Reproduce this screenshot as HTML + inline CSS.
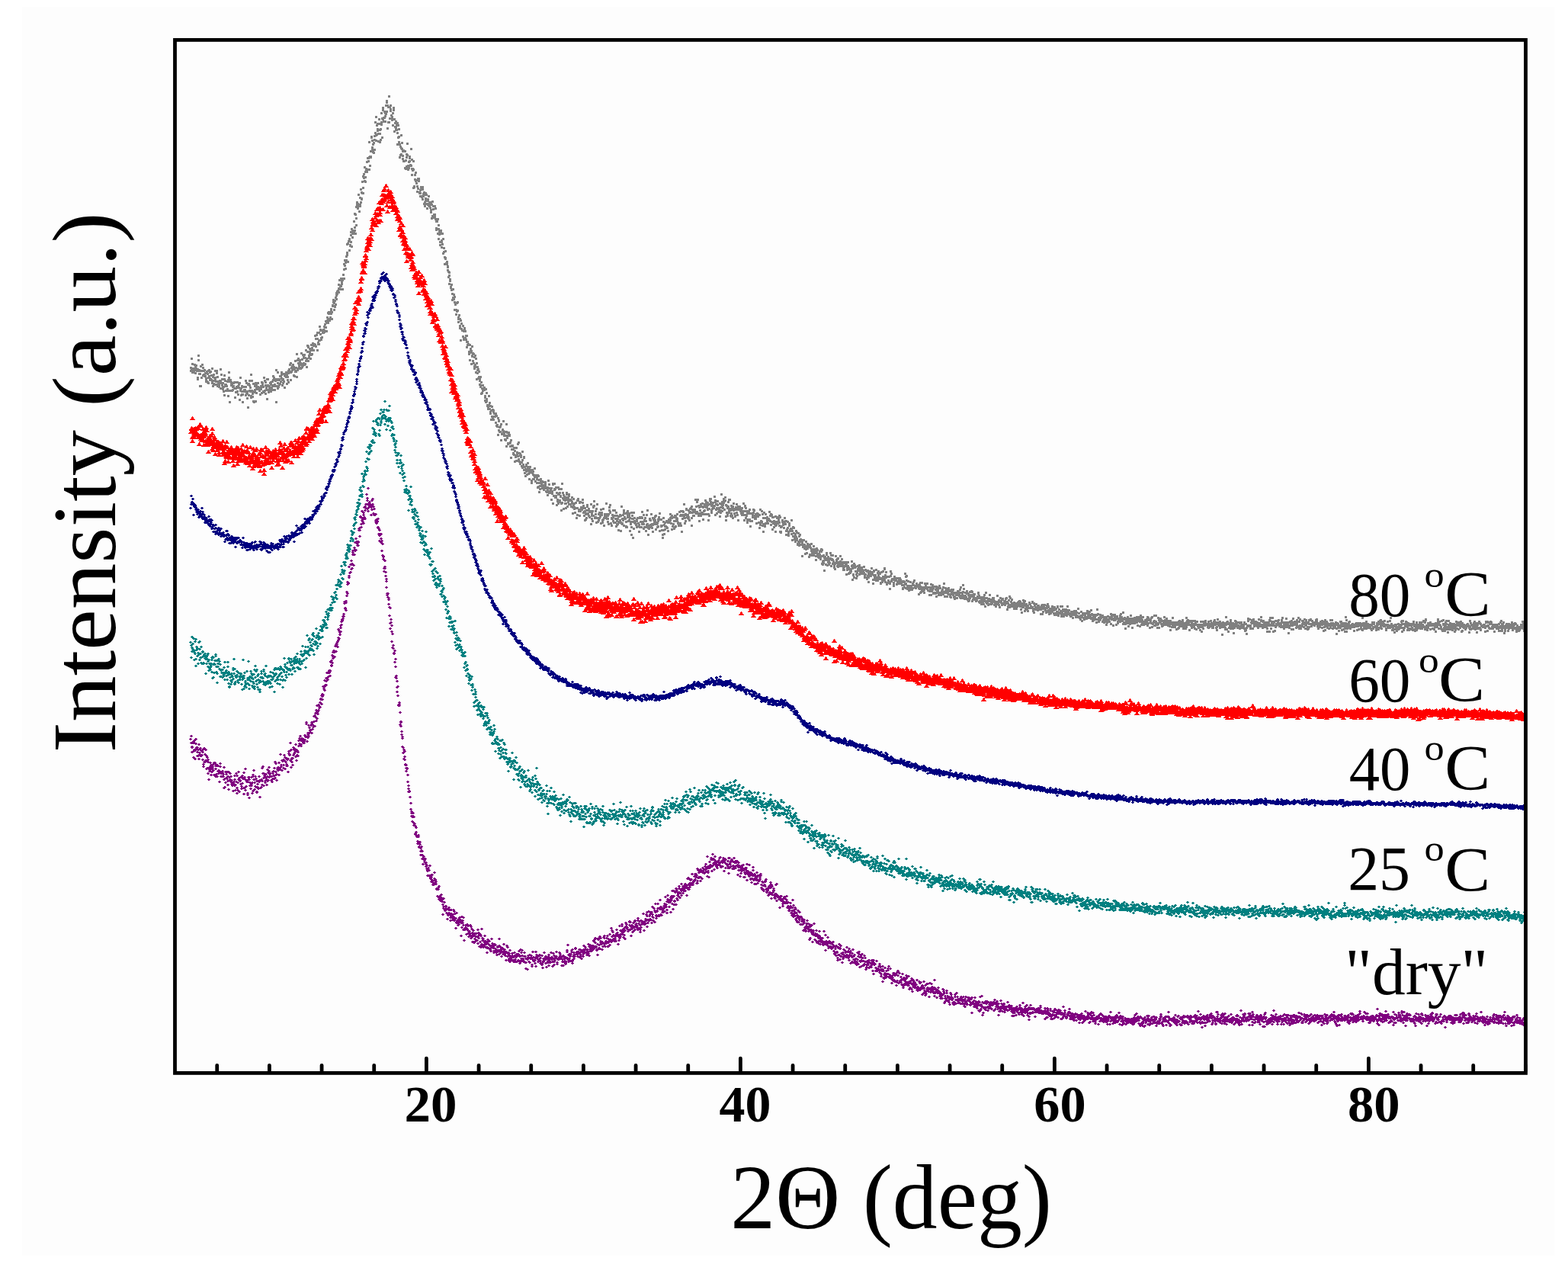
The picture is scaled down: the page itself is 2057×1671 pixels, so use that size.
<!DOCTYPE html>
<html><head><meta charset="utf-8"><title>XRD</title>
<style>
html,body{margin:0;padding:0;background:#fff;}
body{width:2057px;height:1671px;overflow:hidden;}
svg{display:block;}
text{font-family:"Liberation Serif", "DejaVu Serif", serif;fill:#000;}
</style></head><body>
<svg width="2057" height="1671" viewBox="0 0 2057 1671">
<defs><clipPath id="clip"><rect x="229.5" y="52.4" width="1772" height="1355"/></clipPath></defs>
<rect x="0" y="0" width="2057" height="1671" fill="#ffffff"/>
<rect x="29" y="9" width="2010" height="1638" fill="#fdfdfd"/>

<g clip-path="url(#clip)" shape-rendering="crispEdges">
<path fill="none" stroke="#808080" stroke-width="3" stroke-linecap="square" d="M250.5 482.5h0m0 4h0m1-3h0m0-13h0m1 18h0m0-3h0m0-8h0m1 10h0m0-2h0m1 0h0m0-2h0m0 5h0m1-10h0m0 5h0m1-3h0m0 9h0m0-4h0m1-2h0m0-4h0m1 5h0m0 2h0m1-2h0m0 13h0m0-2h0m1-29h0m0 6h0m1 14h0m0-1h0m0 5h0m1 0h0m0 16h0m1-26h0m0 6h0m0 20h0m1-11h0m1-9h0m0-8h0m1 14h0m0-10h0m1 4h0m0 5h0m1-6h0m0 6h0m0 2h0m1 0h0m0-4h0m1 9h0m0 2h0m0-4h0m1-9h0m0 13h0m1-10h0m0 11h0m1-15h0m0 16h0m0-7h0m1-10h0m0 8h0m1 3h0m0 2h0m0-10h0m1-1h0m0 10h0m1-5h0m0 6h0m1 4h0m0-19h0m0 16h0m1 7h0m0-12h0m1-3h0m0 12h0m0-4h0m1 5h0m0-9h0m1-9h0m0 11h0m0-2h0m1 9h0m0-4h0m1-14h0m0 3h0m1 17h0m0-1h0m0-11h0m1 6h0m0 3h0m1 1h0m0 3h0m0-5h0m1-2h0m0-1h0m1 10h0m0-25h0m0 16h0m1 2h0m0-11h0m1 14h0m0-8h0m1 13h0m0-8h0m0 6h0m1 5h0m0-6h0m1-10h0m0-5h0m0 26h0m1-14h0m0-5h0m1 7h0m0-2h0m0 8h0m1-6h0m1-6h0m0 10h0m1-12h0m0 14h0m0 7h0m1-24h0m0-7h0m1 24h0m0 15h0m0-27h0m1-2h0m0 14h0m1-11h0m0 3h0m0 1h0m1 7h0m0-7h0m1 6h0m0-4h0m1-5h0m0 4h0m1 3h0m0-8h0m1 0h0m0 20h0m0-12h0m1 0h0m0 5h0m1-7h0m0 1h0m0 6h0m1-1h0m0-12h0m1 16h0m0-11h0m1-4h0m0 2h0m0 4h0m1 16h0m0-22h0m1 10h0m0-17h0m0 16h0m1 7h0m0-9h0m1-3h0m0 7h0m0 4h0m1 0h0m0 10h0m1-14h0m0-6h0m1 4h0m0 1h0m1-1h0m0 2h0m1-14h0m0 19h0m0-11h0m1-5h0m0 14h0m1 6h0m0-7h0m0-2h0m1-9h0m0 30h0m1-16h0m0-15h0m1 2h0m0 7h0m0-13h0m1 14h0m0-5h0m1 13h0m0-2h0m0-28h0m1 21h0m0-13h0m1 21h0m0-7h0m0 3h0m1-13h0m0 23h0m1 1h0m0-24h0m1 11h0m0-8h0m0 5h0m1-9h0m0 24h0m1-22h0m0 5h0m0 6h0m1-8h0m0 3h0m1-3h0m0 3h0m0-8h0m1 6h0m0 2h0m1-1h0m0 3h0m1-3h0m0 8h0m1-7h0m0-4h0m1 1h0m0-6h0m0 14h0m1-13h0m0 3h0m1 8h0m0 1h0m0-7h0m1-12h0m0 19h0m1-2h0m0-13h0m1 17h0m0-11h0m0-4h0m1 10h0m0-3h0m1 3h0m0-14h0m0 26h0m1-18h0m0-8h0m1 17h0m0-8h0m0 5h0m1-5h0m0 2h0m1 2h0m0-8h0m1 11h0m0-9h0m0-3h0m1 7h0m0 2h0m1-5h0m0-5h0m0 11h0m1-18h0m0 5h0m1 8h0m0-11h0m0 10h0m1-1h0m0 7h0m1-14h0m0 2h0m1 7h0m0-21h0m0 42h0m1-29h0m0-1h0m1 12h0m0-7h0m0-14h0m1 18h0m0 1h0m1-10h0m0 1h0m0 6h0m1-11h0m0 10h0m1-3h0m0-7h0m1-5h0m0 8h0m0-5h0m1 14h0m0-7h0m1 4h0m0-5h0m0 1h0m1-8h0m0 10h0m1 8h0m0-16h0m0-2h0m1 3h0m0-3h0m1-2h0m0 6h0m1-4h0m0 13h0m0-11h0m1 2h0m0 4h0m1-9h0m0 12h0m0-15h0m1-2h0m0 3h0m1 1h0m0-10h0m1 10h0m0-12h0m0 22h0m1-11h0m0-5h0m1-2h0m0 4h0m0 1h0m1-7h0m0 1h0m1 5h0m0-3h0m0 11h0m1 1h0m0-9h0m1 3h0m0-14h0m1 14h0m0-5h0m0 4h0m1 8h0m0-30h0m1 19h0m0-11h0m0 13h0m1-15h0m0 6h0m1 4h0m0 3h0m0-4h0m1-7h0m0 1h0m1 10h0m0-7h0m1-13h0m0 19h0m0-4h0m1 3h0m0-10h0m1 8h0m0-14h0m0 12h0m1-9h0m0 8h0m1 2h0m0-13h0m0 4h0m1 0h0m0 8h0m1-4h0m0-14h0m1 11h0m0 2h0m0 9h0m1-28h0m0 8h0m1 12h0m0-19h0m0 1h0m1 11h0m0 3h0m1-12h0m0 7h0m0-3h0m1 9h0m0-11h0m1 6h0m0-13h0m1 4h0m0 8h0m1-5h0m0-9h0m1 9h0m0-6h0m1-2h0m1-11h0m0 12h0m1-8h0m0 10h0m1-15h0m0 5h0m1 0h0m0 15h0m0-23h0m1 13h0m0 2h0m1-5h0m0 5h0m0-15h0m1-8h0m0 18h0m1-13h0m0 5h0m0-6h0m1 13h0m0-2h0m1-10h0m0 9h0m1-6h0m0-2h0m1-2h0m0 4h0m1-3h0m0-5h0m0 7h0m1-10h0m0 4h0m1 0h0m0 5h0m0-13h0m1 13h0m0-11h0m1-3h0m0-4h0m1 7h0m0-5h0m0-8h0m1-1h0m0 2h0m1-2h0m0 10h0m0 1h0m1-4h0m0-5h0m1-6h0m0 2h0m0 4h0m1 7h0m0-9h0m1-9h0m0 1h0m1-5h0m0-3h0m1 4h0m0 9h0m1-12h0m0 7h0m0 1h0m1-12h0m0 9h0m1-7h0m0-8h0m0 3h0m1-2h0m0-3h0m1-1h0m0 1h0m1 1h0m0-10h0m0 5h0m1-11h0m0 11h0m1 1h0m0-4h0m0-1h0m1 1h0m0-10h0m1 2h0m0 3h0m0 2h0m1-5h0m0 12h0m1-19h0m0 5h0m1 0h0m0-12h0m0-7h0m1-5h0m0 7h0m1 4h0m0-8h0m0-2h0m1-6h0m0 5h0m1-21h0m0 14h0m0-3h0m1-12h0m0 24h0m1-27h0m1-2h0m0 14h0m0-15h0m1 9h0m0-1h0m1-4h0m0-13h0m0 4h0m1 15h0m0-23h0m1 2h0m0 3h0m0 6h0m1-7h0m0 2h0m1-16h0m0 13h0m1-5h0m0-18h0m0 22h0m1 4h0m0-25h0m1 5h0m0 9h0m0-24h0m1-6h0m0 3h0m1 2h0m0-3h0m0 6h0m1-4h0m0-14h0m1 13h0m0 9h0m1-7h0m0-2h0m0-9h0m1 6h0m0-17h0m1 13h0m0-9h0m0 8h0m1-7h0m0-15h0m1 8h0m0 7h0m0-22h0m1 2h0m0-5h0m1-9h0m0 18h0m1 1h0m0-6h0m0-7h0m1-4h0m0 1h0m1-10h0m0 13h0m0-1h0m1-2h0m0-15h0m1 4h0m0-4h0m1 15h0m0-16h0m0-20h0m1 19h0m0 12h0m1-12h0m0 1h0m0-8h0m1-19h0m0 1h0m1 4h0m0 9h0m0 3h0m1 3h0m0-10h0m1 11h0m0-13h0m1-4h0m0 13h0m0-18h0m1-18h0m0 14h0m1 10h0m0-31h0m0 24h0m1-1h0m0-12h0m1-2h0m0 9h0m0-2h0m1 16h0m0-10h0m1-19h0m0 6h0m1 13h0m0 11h0m0-16h0m1-1h0m0 14h0m1-20h0m0-3h0m0-12h0m1 7h0m0 25h0m1-36h0m0 12h0m0-15h0m1 13h0m0 5h0m1-13h0m0 8h0m1-2h0m0-4h0m0 11h0m1-10h0m0-11h0m1-4h0m0-2h0m0 14h0m1-8h0m0 30h0m1-8h0m0-20h0m1 20h0m0-34h0m1 14h0m0 15h0m1-17h0m0 5h0m0 2h0m1 10h0m0-4h0m1 3h0m0 3h0m0-4h0m1 11h0m0-16h0m1-5h0m0-2h0m0 3h0m1 12h0m0 16h0m1-6h0m0-5h0m1-2h0m0 8h0m0 3h0m1 0h0m0-6h0m1 10h0m0 15h0m0-28h0m1 19h0m0-16h0m1 22h0m0-7h0m0-10h0m1 20h0m0 17h0m1-14h0m0 11h0m1-9h0m0-17h0m0 25h0m1-7h0m0-8h0m1 21h0m0-4h0m0-6h0m1 13h0m0-14h0m1 14h0m0-13h0m1 0h0m0 22h0m1-10h0m0 11h0m1-19h0m0 4h0m0 12h0m1-30h0m0 15h0m1 18h0m0-4h0m0 5h0m1-10h0m0 8h0m1-9h0m0-4h0m0-2h0m1 11h0m0 1h0m1 0h0m0-22h0m1 14h0m0 12h0m0 8h0m1-6h0m0-2h0m1-10h0m0 35h0m0-24h0m1 23h0m0-1h0m1-9h0m0-6h0m1-3h0m0 11h0m1-1h0m0 4h0m1 4h0m0 7h0m0-15h0m1 11h0m0-13h0m1 0h0m0 3h0m0-1h0m1 16h0m0 1h0m1 4h0m0-8h0m0 4h0m1-5h0m0-3h0m1 13h0m0-1h0m1-9h0m0 13h0m0-16h0m1 12h0m0-3h0m1 1h0m0-3h0m0 15h0m1-2h0m0 5h0m1-7h0m0-10h0m0 7h0m1-5h0m0 12h0m1 6h0m0-6h0m1-6h0m0 2h0m0 5h0m1-11h0m0 12h0m1 1h0m0-5h0m0 2h0m1 5h0m0-7h0m1 1h0m0 12h0m0-3h0m1 11h0m0-18h0m1-4h0m0 19h0m1 2h0m0-11h0m0-4h0m1 11h0m0-11h0m1 11h0m0-11h0m0 14h0m1-11h0m0 14h0m1 14h0m0-11h0m0 9h0m1-9h0m1-3h0m0 19h0m1-6h0m0 13h0m0-18h0m1 8h0m0 4h0m1 10h0m0 4h0m0-15h0m1-1h0m0-3h0m1 22h0m0-7h0m0-2h0m1 5h0m0-14h0m1 7h0m0 19h0m1-2h0m0-5h0m1 12h0m0 9h0m1-17h0m0 10h0m0-1h0m1 7h0m1 1h0m0-3h0m1 7h0m0-1h0m0 5h0m1 2h0m0 7h0m1-6h0m0 4h0m0 11h0m1-6h0m0 2h0m1 9h0m0-1h0m1 4h0m0-7h0m1 12h0m0 8h0m1-3h0m0-11h0m0 13h0m1-6h0m0 6h0m1 4h0m0-7h0m0 17h0m1-7h0m0 7h0m1 0h0m0 6h0m1-15h0m0 11h0m1-12h0m0 11h0m1 9h0m0 2h0m0 4h0m1-9h0m0 5h0m1 0h0m0 9h0m0 3h0m1-10h0m0 26h0m1-22h0m0 7h0m1 2h0m1-6h0m0 14h0m1-7h0m0 10h0m0 1h0m1-15h0m0 3h0m1 1h0m0 9h0m1 2h0m0-5h0m1 8h0m0 7h0m0-15h0m1 8h0m0 4h0m1-1h0m1 13h0m0-1h0m0-2h0m1-9h0m0 20h0m1-10h0m0-5h0m0 3h0m1 0h0m0 17h0m1-11h0m0 1h0m0-13h0m1 19h0m0-10h0m1 1h0m0 12h0m1-8h0m0 12h0m0 3h0m1-17h0m0 12h0m1-8h0m0 11h0m0 7h0m1-12h0m0 21h0m1-12h0m0-4h0m0 8h0m1 7h0m0-12h0m1 10h0m0-7h0m1 17h0m0-5h0m0-2h0m1 10h0m0-13h0m1 7h0m0 15h0m0-11h0m1 10h0m0-6h0m1-4h0m0 4h0m0 3h0m1-1h0m0-2h0m1 2h0m0-3h0m1 11h0m0 2h0m0 4h0m1-15h0m0 17h0m1-4h0m0-8h0m0 11h0m1 6h0m0-1h0m1 2h0m0 2h0m0 1h0m1-5h0m0-12h0m1 9h0m0 8h0m1-4h0m0 8h0m0 2h0m1-4h0m0 12h0m1-17h0m0 13h0m0-8h0m1-1h0m0 10h0m1-7h0m0 10h0m0-12h0m1 8h0m0-4h0m1 4h0m1-4h0m0 12h0m0-11h0m1 2h0m0 13h0m1 1h0m0-1h0m0-1h0m1 13h0m0-22h0m1 4h0m0-1h0m0 13h0m1-4h0m0 6h0m1 0h0m0-7h0m1-3h0m0 21h0m1-8h0m0-1h0m1-5h0m0 1h0m1 1h0m0-13h0m1 16h0m0-2h0m0 5h0m1 0h0m0 5h0m1-5h0m0 6h0m1-21h0m0 10h0m0 19h0m1-18h0m0 7h0m1 7h0m0-10h0m0 11h0m1-13h0m0-2h0m1 4h0m0-1h0m0 11h0m1-1h0m0 5h0m1-8h0m0 23h0m1-16h0m0 1h0m0 4h0m1-4h0m0-1h0m1 5h0m0 6h0m0-1h0m1 2h0m0-9h0m1 0h0m0 18h0m0-14h0m1 6h0m0 2h0m1 5h0m0-17h0m1 6h0m0 1h0m0 1h0m1-13h0m0 16h0m1-18h0m0 22h0m0 2h0m1 1h0m0-11h0m1 14h0m0-11h0m0-2h0m1 2h0m0 2h0m1 7h0m0 5h0m1-19h0m0 11h0m0 10h0m1-4h0m0 3h0m1-13h0m0 17h0m0-16h0m1 12h0m0 8h0m1 4h0m0-9h0m1 3h0m0-9h0m0 2h0m1 11h0m0-7h0m1-1h0m0-7h0m0 10h0m1 4h0m0-9h0m1 2h0m0 14h0m0-8h0m1-3h0m0-5h0m1 4h0m0 3h0m1 11h0m0-13h0m0 16h0m1-17h0m0 4h0m1 8h0m0-6h0m0-4h0m1 5h0m0 5h0m1-14h0m0 10h0m0 1h0m1-1h0m0 7h0m1-8h0m0 2h0m1 3h0m0 5h0m0-6h0m1 12h0m0-16h0m1 15h0m0-14h0m0 5h0m1 4h0m0 12h0m1-8h0m0-8h0m0 12h0m1-10h0m0-3h0m1 8h0m0-2h0m1 6h0m0-9h0m0 6h0m1 2h0m0-2h0m1-1h0m0-4h0m0 10h0m1-4h0m0 2h0m1-5h0m0 3h0m0-6h0m1 7h0m0 5h0m1-4h0m0 5h0m1-3h0m0 7h0m0-10h0m1-9h0m0 14h0m1-4h0m0-5h0m0 11h0m1-2h0m0 2h0m1-5h0m0 4h0m1 10h0m0-15h0m1 4h0m0 3h0m1-13h0m0 1h0m0 25h0m1-26h0m0 16h0m1-9h0m0 1h0m0-8h0m1 7h0m0 11h0m1-13h0m0 13h0m0-2h0m1 12h0m0-16h0m1 11h0m0-2h0m1-7h0m0-9h0m0 21h0m1-19h0m0 6h0m1 9h0m0 2h0m0-12h0m1 5h0m0-1h0m1 10h0m0 9h0m0-28h0m1 18h0m0-25h0m1 19h0m0-7h0m1 21h0m0-12h0m0-6h0m1 2h0m1 5h0m0-2h0m0 6h0m1 6h0m0-6h0m1-12h0m0-2h0m0 6h0m1 12h0m0-9h0m1-2h0m0 5h0m1-10h0m0 2h0m0 11h0m1-5h0m1 5h0m0-6h0m1 1h0m0 8h0m1-4h0m0-8h0m0 6h0m1 7h0m0 8h0m1-19h0m0 9h0m1-3h0m0 7h0m0-2h0m1 7h0m0-6h0m1-7h0m0 7h0m1 0h0m0 13h0m1-4h0m0-19h0m0 10h0m1-10h0m0-2h0m1 16h0m0-2h0m1-10h0m0 18h0m0-17h0m1-1h0m0 12h0m1-2h0m0-3h0m0 1h0m1 2h0m0-2h0m1 0h0m0-11h0m0 4h0m1 13h0m0-9h0m1 8h0m0 5h0m1-10h0m0 4h0m0 12h0m1-9h0m0 8h0m1-2h0m0-5h0m0-5h0m1-5h0m0-2h0m1 11h0m0-4h0m1 7h0m0-9h0m1 11h0m0-7h0m1 0h0m0-1h0m1 17h0m0-26h0m1 12h0m0 7h0m0-4h0m1-6h0m0 13h0m1-18h0m0-1h0m0 12h0m1-13h0m0-6h0m1 22h0m0-1h0m1 0h0m0-8h0m0 4h0m1-7h0m0 18h0m1-6h0m0-18h0m1 18h0m0 5h0m1-2h0m0-3h0m0-5h0m1-2h0m0 7h0m1-2h0m0-1h0m1-3h0m0 13h0m0-18h0m1 7h0m0-3h0m1 10h0m0 3h0m0-1h0m1-3h0m0-14h0m1 22h0m0-10h0m1-4h0m0 1h0m0-2h0m1 5h0m1-5h0m0-14h0m0 17h0m1 3h0m1-4h0m0 4h0m0 4h0m1-10h0m0 13h0m1-22h0m0 4h0m1 3h0m0-10h0m0 9h0m1 15h0m1-7h0m0 10h0m0-9h0m1-5h0m0 5h0m1-2h0m0 5h0m0-14h0m1 16h0m0-9h0m1 9h0m0-16h0m1 7h0m0 4h0m0 5h0m1-13h0m0 18h0m1-7h0m0-7h0m0 12h0m1-8h0m0 7h0m1 8h0m0-10h0m0-8h0m1 0h0m0 7h0m1-2h0m0-7h0m1 1h0m0 9h0m0 11h0m1-32h0m0 22h0m1-6h0m0 6h0m0 1h0m1-5h0m0-7h0m1-3h0m0-3h0m0 20h0m1-9h0m0-2h0m1 2h0m0-7h0m1 11h0m0 7h0m0-1h0m1-18h0m0 19h0m1-13h0m0-8h0m0 5h0m1 2h0m0 6h0m1-7h0m0-3h0m0 9h0m1 14h0m0-17h0m1 8h0m0-3h0m1 17h0m0-29h0m0 19h0m1-15h0m0 4h0m1 4h0m0 21h0m0-25h0m1-8h0m0 21h0m1-14h0m0 4h0m0 2h0m1 1h0m0-2h0m1 3h0m0 1h0m1 3h0m0-8h0m0-2h0m1-2h0m0 11h0m1-4h0m0 4h0m1 7h0m0-9h0m1 3h0m0-13h0m0 1h0m1 5h0m0-5h0m1 12h0m0-13h0m1 9h0m0-16h0m0 8h0m1 5h0m0 1h0m1-10h0m0 12h0m0 6h0m1-2h0m0-9h0m1 1h0m0-4h0m0 12h0m1 5h0m0-13h0m1-8h0m0 13h0m1 3h0m0-22h0m0 18h0m1 14h0m0-9h0m1-2h0m0-1h0m0 4h0m1-13h0m0 1h0m1 8h0m0-7h0m0 6h0m1-14h0m0 17h0m1 1h0m0-5h0m1 1h0m0 9h0m0-18h0m1 2h0m0-2h0m1 5h0m0-4h0m0 7h0m1-5h0m0-5h0m1-1h0m0 18h0m0-8h0m1-1h0m0 2h0m1-1h0m0 5h0m1-1h0m0-7h0m0-2h0m1-2h0m0-1h0m1 18h0m0-15h0m0-8h0m1 8h0m1 8h0m0-8h0m0 9h0m1-1h0m0 6h0m1 6h0m0 4h0m1-10h0m0-16h0m0 5h0m1 4h0m0 12h0m1-10h0m0 4h0m0-9h0m1 5h0m1-7h0m0 8h0m0 1h0m1-8h0m0 8h0m1 4h0m0-11h0m1 0h0m0-2h0m0-2h0m1 4h0m0-3h0m1 0h0m0-3h0m0-5h0m1 4h0m0 8h0m1-10h0m0 3h0m0 15h0m1-4h0m0-12h0m1 9h0m0-9h0m1 15h0m0-15h0m0 5h0m1 8h0m0-15h0m1 14h0m0-14h0m0 7h0m1-4h0m0 1h0m1 2h0m0-2h0m0-6h0m1 12h0m0-1h0m1 3h0m0 1h0m1-18h0m0 17h0m1-12h0m0 10h0m1 3h0m0-14h0m0-5h0m1 6h0m0 21h0m1-17h0m0-10h0m1 6h0m0-5h0m0 4h0m1 3h0m0-17h0m1 18h0m0 7h0m0-11h0m1-1h0m0 9h0m1-15h0m0-1h0m1 8h0m0 3h0m1-3h0m0 4h0m1 1h0m0-2h0m0-9h0m1 3h0m0 10h0m1-15h0m0 5h0m0-1h0m1 1h0m0-6h0m1-2h0m0 25h0m0-10h0m1-11h0m0 4h0m1 4h0m0-6h0m1 6h0m0-8h0m0 1h0m1 2h0m0-3h0m1-13h0m0 16h0m0 1h0m1 1h0m0-9h0m1 8h0m0-1h0m0-13h0m1-3h0m0 18h0m1-10h0m0 13h0m1 7h0m0-18h0m0-1h0m1 5h0m0 4h0m1-12h0m0 15h0m0-1h0m1-3h0m0-8h0m1 10h0m0-1h0m0-13h0m1 21h0m0-16h0m1 5h0m0-6h0m1 5h0m0 5h0m0-13h0m1-5h0m0 7h0m1-5h0m0 3h0m0 4h0m1 0h0m0 9h0m1-15h0m0 9h0m0-6h0m1 12h0m0 8h0m1-15h0m0 9h0m1-15h0m0-7h0m0 2h0m1-2h0m0 4h0m1 5h0m0 9h0m0-3h0m1-2h0m0-6h0m1-2h0m0 5h0m0 1h0m1 0h0m0 1h0m1-3h0m0-12h0m1 5h0m0 2h0m0 17h0m1-14h0m0 7h0m1 5h0m0-7h0m0-5h0m1 1h0m0-5h0m1 9h0m0 5h0m0-4h0m1 2h0m0-1h0m1 9h0m0-17h0m1 5h0m0 4h0m0 3h0m1-24h0m0 13h0m1 2h0m0-5h0m0 12h0m1-4h0m0-4h0m1-8h0m0 2h0m0 3h0m1 9h0m0-11h0m1-5h0m0 4h0m1 6h0m0 15h0m0 5h0m1-19h0m0 9h0m1 4h0m0-1h0m0-9h0m1-8h0m0 6h0m1-9h0m0 14h0m0 3h0m1-17h0m0 12h0m1 2h0m0 7h0m1 1h0m0-4h0m0-10h0m1 3h0m0 10h0m1-12h0m0 4h0m0 11h0m1-10h0m0-9h0m1 7h0m0 6h0m0-5h0m1 8h0m0 1h0m1-12h0m0 1h0m1 2h0m0-7h0m0 11h0m1-4h0m0 7h0m1-9h0m0-2h0m0 18h0m1-18h0m0 2h0m1-1h0m0 3h0m0-4h0m1 6h0m0-4h0m1 2h0m0 5h0m1 2h0m0-1h0m0-8h0m1 7h0m0-3h0m1 0h0m0-10h0m0 15h0m1-5h0m0 12h0m1-7h0m0-11h0m0-1h0m1 16h0m0-13h0m1 10h0m0-6h0m1 15h0m0-12h0m0 9h0m1-1h0m0-11h0m1 1h0m0 11h0m0-9h0m1-5h0m0 13h0m1 9h0m0-17h0m0 10h0m1-10h0m0 10h0m1-10h0m0 10h0m1-5h0m0-4h0m0 3h0m1-5h0m0-4h0m1 1h0m0 7h0m1 3h0m0 1h0m1 0h0m0-6h0m0 4h0m1-1h0m0 9h0m1-13h0m0 3h0m1 1h0m0-3h0m1 1h0m0 10h0m1-10h0m0 10h0m0 7h0m1-4h0m0-20h0m1 17h0m0-2h0m1 1h0m0-14h0m0 15h0m1-11h0m0 15h0m1-2h0m0 10h0m0-18h0m1-7h0m0 16h0m1-1h0m0-8h0m0 11h0m1-4h0m0-12h0m1 5h0m1 2h0m0 2h0m0-5h0m1 3h0m0 5h0m1-4h0m0-1h0m0-1h0m1 2h0m0-11h0m1 12h0m0-7h0m1-2h0m0 14h0m1-4h0m0-9h0m1 9h0m0-6h0m0 16h0m1-8h0m0-8h0m1 7h0m0-2h0m0 8h0m1-5h0m0 1h0m1-10h0m0 12h0m0 8h0m1-9h0m0-4h0m1 1h0m0-6h0m1 7h0m0-8h0m0 7h0m1-3h0m0-2h0m1 9h0m0-13h0m0 9h0m1-7h0m0 19h0m1 1h0m0-7h0m0 6h0m1-7h0m1-6h0m0-2h0m1 6h0m0-4h0m0 1h0m1 7h0m0-5h0m1-8h0m0 8h0m0-3h0m1 3h0m0-4h0m1 13h0m0 5h0m0-18h0m1 11h0m1-10h0m0 8h0m1 8h0m0-3h0m0 5h0m1-16h0m0 3h0m1 6h0m0 1h0m1-3h0m0 1h0m1-1h0m0 7h0m0-18h0m1 26h0m0-12h0m1-5h0m0 12h0m1-11h0m0 11h0m0-4h0m1 6h0m0 2h0m1 3h0m0-10h0m0 2h0m1 2h0m0-8h0m1 12h0m0-2h0m0-8h0m1 15h0m0 1h0m1-15h0m0 11h0m1 5h0m0-2h0m0-10h0m1-2h0m0 7h0m1-1h0m0 3h0m1 4h0m0-6h0m1 2h0m0 19h0m0-18h0m1 6h0m0-3h0m1 0h0m0-6h0m1 9h0m0-3h0m0 5h0m1 7h0m0-10h0m1 4h0m0-10h0m0 7h0m1 8h0m0-9h0m1-3h0m0 6h0m0-2h0m1 0h0m0-1h0m1 14h0m0-16h0m1 3h0m0-1h0m0 11h0m1-9h0m0 10h0m1-6h0m0-1h0m0-8h0m1 15h0m0-3h0m1-1h0m0-2h0m0-2h0m1-4h0m0 12h0m1-3h0m0-3h0m1-2h0m0 5h0m0-1h0m1 10h0m0-5h0m1-7h0m0-3h0m0 5h0m1-3h0m0 6h0m1 2h0m0 1h0m1-4h0m0 5h0m1-8h0m0 4h0m1 6h0m0-3h0m0-8h0m1 1h0m0-3h0m1 19h0m0-18h0m0 8h0m1 11h0m0-4h0m1 2h0m0-10h0m0 7h0m1 13h0m0-17h0m1 3h0m0-4h0m1 2h0m0 2h0m0 6h0m1-13h0m0-2h0m1 8h0m0 1h0m0 7h0m1-4h0m0-7h0m1 7h0m0 3h0m0-5h0m1-3h0m0 6h0m1-6h0m0-7h0m1 17h0m0-14h0m0 5h0m1 0h0m0 1h0m1 0h0m0-6h0m0 11h0m1-3h0m1 6h0m0 2h0m1 2h0m0-7h0m1-10h0m0 9h0m1-1h0m0 1h0m0-4h0m1-1h0m0 9h0m1 1h0m0-11h0m0 9h0m1-3h0m0-1h0m1 5h0m0-3h0m1-3h0m0 4h0m0-11h0m1 8h0m0 1h0m1-5h0m0 8h0m0 1h0m1-5h0m0 3h0m1 4h0m0 3h0m0-10h0m1 6h0m0 4h0m1-5h0m0-4h0m1 0h0m0 3h0m0-4h0m1 16h0m0-13h0m1 5h0m0-1h0m0 3h0m1-5h0m0-5h0m1 15h0m0-8h0m0 1h0m1 1h0m0 5h0m1-2h0m0 2h0m1-2h0m0-3h0m0 1h0m1-5h0m0-6h0m1 9h0m0-4h0m0 19h0m1-6h0m0-1h0m1-9h0m0 13h0m0-18h0m1 2h0m0 3h0m1-1h0m0 6h0m1 0h0m0 9h0m0-5h0m1 2h0m0-4h0m1-3h0m0-2h0m0-4h0m1 3h0m0 3h0m1 5h0m0-12h0m0 2h0m1 8h0m0-6h0m1 7h0m0-4h0m1-1h0m0-3h0m0 6h0m1-3h0m0 1h0m1 0h0m0 4h0m1-9h0m0 8h0m1 3h0m0 3h0m0-1h0m1-3h0m0-6h0m1 1h0m0 9h0m1-8h0m0 9h0m0 1h0m1-11h0m0 7h0m1-3h0m0 11h0m0-6h0m1-6h0m0 4h0m1-6h0m0 4h0m0 2h0m1 0h0m1-5h0m0-5h0m1 8h0m0-3h0m0 1h0m1 14h0m0-5h0m1-6h0m0-6h0m0 1h0m1 8h0m0 3h0m1-6h0m0 2h0m0 1h0m1 4h0m0-14h0m1 10h0m0 1h0m1 3h0m0-3h0m0-7h0m1 3h0m0-5h0m1 8h0m0 2h0m1-7h0m0-1h0m1 13h0m0-6h0m0 7h0m1-6h0m0-9h0m1 11h0m0 2h0m1-7h0m0-7h0m0 12h0m1-4h0m0 2h0m1-13h0m0 14h0m0-15h0m1 9h0m0 9h0m1-13h0m0 7h0m1 9h0m1-10h0m0 8h0m1-2h0m0-1h0m1-5h0m0 7h0m1 2h0m0 7h0m0-8h0m1-15h0m0 6h0m1 7h0m0-1h0m0-9h0m1 8h0m0-1h0m1 1h0m1 5h0m0 3h0m0-4h0m1-8h0m0 1h0m1 1h0m0 3h0m0-1h0m1 0h0m0-2h0m1 8h0m1-4h0m0 2h0m1-6h0m1 2h0m0 5h0m0-3h0m1-4h0m0 5h0m1 2h0m0-1h0m0-4h0m1 4h0m0-2h0m1 0h0m0 1h0m0 4h0m1 5h0m0-1h0m1-4h0m0-5h0m1 1h0m0 7h0m1-18h0m0 14h0m1-10h0m0 9h0m0 6h0m1-10h0m0-6h0m1 16h0m0 1h0m0-4h0m1 3h0m0-9h0m1 9h0m0 3h0m1-5h0m0-1h0m0 4h0m1 0h0m0-9h0m1 10h0m0-3h0m0-2h0m1 5h0m0-2h0m1 0h0m0-6h0m1-2h0m0 4h0m1-6h0m1 9h0m0-2h0m0 1h0m1 2h0m0-1h0m1-5h0m0 4h0m1-2h0m0 2h0m1-1h0m0-1h0m1 1h0m0 3h0m0 8h0m1-13h0m0 6h0m1-8h0m0 13h0m0-8h0m1 2h0m0 5h0m1-1h0m0-11h0m0 9h0m1-3h0m0 4h0m1-2h0m0 2h0m1-1h0m0-2h0m0 6h0m1-12h0m0 5h0m1-2h0m0 3h0m0-1h0m1 1h0m0-1h0m1 0h0m0-5h0m0 7h0m1 2h0m0-4h0m1 0h0m1 10h0m0-6h0m0 1h0m1-3h0m0-1h0m1-1h0m0 10h0m0-14h0m1 9h0m0-1h0m1-1h0m0-6h0m0 2h0m1 9h0m0-7h0m1 7h0m0-1h0m1 0h0m0 1h0m0-9h0m1 4h0m0 5h0m1-9h0m0 13h0m0-10h0m1 3h0m0-4h0m1 6h0m0-5h0m0 2h0m1-4h0m0 10h0m1-12h0m0 9h0m1 0h0m0-6h0m1 9h0m1-3h0m0-2h0m1 4h0m0-6h0m1 6h0m0-1h0m0-8h0m1-5h0m0 11h0m1 0h0m0 6h0m1-5h0m0-2h0m0-4h0m1 5h0m0-2h0m1-2h0m0 4h0m0 6h0m1-4h0m0-5h0m1 6h0m0-6h0m0-2h0m1 8h0m0-4h0m1 7h0m0-3h0m1-5h0m0 5h0m0 4h0m1-6h0m0-4h0m1 2h0m0-2h0m1 0h0m0 7h0m1 3h0m0-6h0m0 5h0m1 0h0m0 3h0m1-7h0m0-1h0m1 3h0m0-1h0m1 5h0m0-7h0m1 3h0m0-5h0m0 3h0m1-2h0m1 2h0m0-1h0m0 4h0m1 2h0m0-10h0m1 11h0m0-14h0m1 11h0m0 2h0m0-6h0m1 2h0m0-2h0m1 7h0m0-17h0m0 9h0m1-4h0m0 9h0m1 4h0m0-2h0m1-2h0m0-4h0m1 8h0m0-2h0m1-6h0m0-2h0m0 3h0m1 7h0m0 1h0m1 2h0m0-10h0m0 2h0m1 7h0m0-5h0m1 2h0m0-8h0m0 4h0m1 1h0m0-1h0m1 0h0m0-5h0m1 13h0m0-6h0m0-6h0m1 10h0m0-4h0m1 3h0m0-4h0m0-2h0m1 0h0m0 5h0m1 2h0m0-1h0m1 3h0m0-4h0m1 3h0m1-3h0m0-1h0m0-1h0m1-4h0m0-1h0m1 12h0m0-5h0m0-3h0m1 9h0m0-2h0m1-4h0m0 4h0m0-5h0m1 3h0m0 6h0m1-3h0m0-6h0m1 4h0m0 2h0m0-5h0m1-1h0m0 9h0m1-8h0m0-4h0m0 6h0m1 9h0m0-7h0m1 1h0m0-12h0m0 7h0m1 7h0m0-7h0m1 7h0m0-3h0m1 0h0m0 5h0m0-8h0m1 0h0m0 2h0m1 1h0m0-8h0m0 12h0m1-4h0m0-1h0m1 3h0m0-4h0m0 6h0m1-4h0m0 3h0m1-7h0m0 3h0m1 2h0m0-5h0m0 1h0m1 3h0m0 5h0m1-2h0m0 1h0m0-2h0m1 2h0m0 3h0m1-6h0m0 2h0m1 0h0m0-10h0m0 8h0m1 2h0m0 1h0m1-4h0m0 5h0m0-6h0m1 2h0m0 7h0m1-12h0m0 5h0m1 1h0m0-2h0m1 5h0m0-7h0m1-1h0m0 7h0m0-6h0m1 6h0m0-1h0m1-3h0m0 1h0m0 1h0m1 3h0m0-5h0m1 2h0m0-5h0m1-1h0m0 7h0m1-2h0m0 10h0m1-3h0m0-5h0m0 4h0m1-2h0m0-6h0m1-5h0m0 14h0m0-3h0m1-9h0m0 10h0m1 1h0m0-6h0m1-3h0m0 5h0m1 1h0m0 3h0m1-1h0m0-1h0m0 2h0m1-5h0m0 8h0m1-7h0m0 5h0m0-3h0m1-1h0m0 3h0m1 0h0m0 3h0m0-1h0m1-6h0m0 4h0m1-1h0m0-4h0m1-1h0m0 5h0m0-2h0m1-4h0m0 5h0m1 2h0m0-1h0m0-5h0m1 3h0m0 7h0m1-8h0m0 2h0m0 10h0m1-7h0m0-4h0m1-5h0m0 9h0m1-7h0m0 5h0m0-3h0m1-3h0m0 13h0m1-7h0m0 4h0m1-6h0m0 3h0m1-1h0m0 5h0m0-2h0m1-3h0m0 7h0m1-4h0m1-5h0m0 5h0m0-7h0m1 7h0m0-5h0m1 4h0m0-1h0m0 2h0m1 0h0m0-1h0m1 0h0m0-6h0m0-1h0m1 12h0m0-3h0m1-7h0m0 12h0m1-9h0m0 4h0m1-1h0m0 2h0m1-7h0m0 5h0m0-1h0m1 1h0m0-1h0m1-1h0m0-1h0m0 6h0m1-6h0m0 5h0m1 0h0m0-2h0m1 2h0m0-3h0m1 3h0m0 6h0m1-11h0m0 3h0m0-2h0m1 10h0m0-12h0m1 5h0m0 4h0m0-7h0m1 3h0m0-2h0m1-3h0m0 5h0m1 2h0m0-3h0m0 2h0m1 2h0m0 2h0m1-9h0m0 7h0m0-4h0m1-5h0m0 4h0m1 6h0m0-2h0m0-5h0m1 10h0m0-4h0m1-2h0m0-1h0m1 3h0m0-3h0m0 6h0m1-3h0m0 1h0m1-3h0m0-4h0m0 7h0m1-5h0m0 3h0m1 0h0m0-2h0m0 6h0m1-8h0m0 10h0m1-7h0m0 5h0m1 2h0m0-8h0m1 7h0m0-3h0m1 0h0m0-7h0m0 1h0m1 8h0m0 3h0m1-8h0m0 4h0m1 1h0m1-3h0m0-6h0m1 13h0m0-7h0m0 6h0m1-12h0m0 9h0m1-3h0m0-2h0m0 7h0m1 2h0m0-7h0m1 4h0m0-6h0m0 2h0m1 1h0m1 4h0m0-7h0m1 8h0m0-4h0m1-3h0m0-5h0m1 9h0m0-2h0m0 3h0m1-5h0m0 4h0m1 0h0m0 1h0m0 1h0m1 0h0m0 2h0m1-6h0m0 5h0m1-2h0m0-2h0m0-1h0m1 8h0m0-4h0m1-3h0m0 3h0m0-1h0m1-1h0m0-3h0m1 5h0m0-1h0m1 0h0m0 4h0m0-8h0m1 2h0m0 4h0m1 2h0m0-1h0m1-10h0m0 10h0m1 0h0m0 1h0m0-5h0m1 4h0m0 2h0m1 2h0m0-4h0m1-6h0m0 5h0m0 2h0m1 0h0m0 5h0m1-8h0m0-2h0m0 1h0m1 5h0m0-6h0m1 0h0m0 8h0m1-4h0m0-2h0m1 5h0m0-1h0m1-6h0m0 7h0m0-2h0m1-8h0m0 3h0m1 5h0m0 1h0m0-3h0m1-2h0m0 4h0m1-7h0m0 8h0m0-2h0m1 0h0m0-2h0m1 5h0m0-11h0m1 5h0m0 6h0m0-5h0m1 8h0m0-4h0m1-4h0m0 7h0m0-4h0m1 2h0m0-4h0m1 0h0m0 5h0m0-2h0m1-3h0m0-1h0m1 6h0m0 4h0m1-10h0m0 6h0m0-13h0m1 6h0m0 7h0m1 3h0m0-5h0m0 2h0m1-1h0m0 2h0m1-7h0m0 6h0m0-4h0m1 1h0m0 1h0m1-1h0m0-2h0m1 2h0m0-2h0m0 8h0m1-2h0m0-4h0m1 7h0m0-1h0m0-3h0m1-3h0m0 2h0m1 2h0m0 2h0m0-5h0m1-1h0m0 10h0m1-3h0m0-4h0m1-4h0m0 5h0m0 2h0m1-1h0m1-3h0m0 4h0m0-6h0m1 1h0m0-1h0m1 0h0m0 9h0m0-13h0m1 7h0m0-4h0m1-1h0m0 5h0m1-6h0m0 5h0m0 9h0m1-9h0m0 2h0m1-4h0m0 4h0m0-7h0m1 6h0m0-1h0m1 8h0m0-8h0m0-1h0m1 0h0m0-2h0m1 7h0m0 2h0m1-6h0m0 3h0m1-1h0m0 1h0m1-7h0m0 2h0m0 6h0m1-10h0m0 7h0m1-1h0m0-2h0m0 3h0m1 1h0m0 1h0m1-11h0m0 15h0m1-7h0m0 5h0m0-4h0m1-2h0m0 2h0m1 12h0m0-6h0m0-7h0m1 3h0m0 3h0m1-2h0m0-2h0m0-1h0m1-3h0m0 7h0m1 1h0m0 4h0m1-10h0m0 4h0m0-2h0m1 5h0m0-5h0m1-2h0m0-4h0m0 9h0m1-2h0m0 3h0m1-6h0m0 12h0m1-8h0m1 2h0m0-4h0m1-3h0m0 7h0m1-3h0m0 1h0m1-4h0m0 3h0m0 1h0m1 1h0m0-7h0m1 2h0m0 9h0m0-8h0m1 2h0m0-1h0m1-4h0m0 1h0m1 5h0m0-3h0m0 9h0m1-12h0m0-2h0m1 6h0m0-3h0m0 9h0m1-6h0m0 3h0m1-7h0m0 8h0m1 2h0m0-4h0m1 1h0m0-1h0m1 3h0m0-5h0m0 4h0m1-4h0m0 4h0m1-3h0m0-2h0m1 8h0m0-11h0m1 1h0m0 7h0m0-6h0m1 2h0m1 10h0m0-10h0m1-1h0m0 2h0m0 2h0m1 1h0m0-7h0m1 7h0m0 5h0m0-13h0m1 8h0m0 1h0m1-2h0m0-1h0m1-8h0m0 13h0m0-6h0m1 1h0m0 5h0m1-13h0m0 8h0m0 3h0m1 0h0m1 5h0m0-6h0m0 2h0m1-1h0m0-8h0m1 3h0m0 10h0m1-8h0m0 1h0m0-5h0m1 4h0m0-4h0m1 3h0m0 4h0m0-5h0m1 1h0m0 7h0m1-3h0m0 2h0m1-6h0m0 1h0m1-6h0m0 10h0m1-3h0m0-3h0m1 6h0m1-2h0m0-6h0m0 3h0m1 3h0m0-3h0m1 4h0m0 2h0m0-6h0m1 2h0m0-2h0m1 7h0m0-1h0m1 6h0m0-9h0m0-3h0m1 4h0m0-2h0m1 2h0m0 4h0m0-6h0m1 4h0m0-10h0m1 11h0m0-3h0m0-2h0m1 0h0m0 6h0m1-6h0m0 6h0m1-6h0m0 2h0m0 1h0m1 6h0m0-6h0m1 0h0m0-2h0m1-1h0m0 8h0m1-1h0m0-8h0m0 4h0m1-5h0m0 7h0m1-1h0m0-2h0m1-3h0m0 6h0m0-1h0m1-2h0m0 3h0m1-8h0m0 3h0m0-1h0m1 4h0m0 5h0m1-5h0m0 3h0m0-4h0m1-1h0m0 5h0m1-2h0m0 4h0m1-2h0m0-6h0m0-6h0m1 9h0m0-5h0m1 0h0m0-1h0m0 3h0m1 2h0m0 1h0m1 7h0m0-11h0m0 4h0m1-5h0m0 1h0m1 4h0m0 1h0m1-6h0m0 9h0m0-7h0m1 6h0m0-3h0m1 3h0m0-1h0m0-3h0m1 3h0m0-7h0m1 0h0m0 4h0m0 6h0m1-8h0m0 1h0m1 8h0m0-6h0m1 0h0m0-4h0m1 6h0m0-2h0m1 3h0m0-2h0m0 3h0m1-1h0m0-3h0m1 3h0m0 4h0m0-6h0m1-5h0m0 5h0m1-1h0m0 9h0m1-6h0m0-7h0m0 4h0m1 5h0m0-9h0m1 3h0m0 1h0m1-2h0m0 3h0m1-6h0m0 3h0m1 1h0m1 1h0m0-1h0m1 0h0m0 3h0m0 1h0m1 1h0m0-8h0m1 5h0m0 2h0m0-4h0m1 3h0m0-3h0m1 3h0m0-7h0m1 3h0m1 1h0m0 5h0m1 0h0m0-3h0m0 2h0m1-4h0m0-3h0m1-2h0m0 6h0m1 0h0m1 4h0m0-7h0m1 10h0m0-4h0m1-4h0m0-6h0m1 4h0m0 2h0m0 1h0m1 1h0m0-2h0m1 5h0m0-8h0m0 3h0m1-1h0m0 5h0m1-2h0m0 2h0m0-3h0m1 13h0m0-10h0m1-6h0m0 3h0m1-1h0m0 4h0m1-2h0m0-2h0m1-1h0m0 8h0m0-2h0m1-14h0m0 10h0m1-3h0m0 2h0m0 7h0m1-10h0m1 13h0m0-11h0m1 1h0m0 5h0m0-6h0m1 2h0m0 1h0m1 4h0m0-11h0m0 3h0m1 3h0m0 3h0m1-5h0m0 4h0m1-4h0m0 1h0m0 6h0m1-6h0m0 12h0m1-10h0m0 3h0m0-1h0m1-8h0m1 7h0m0-6h0m0 2h0m1 1h0m0-2h0m1 7h0m0-1h0m1-2h0m0 1h0m0-5h0m1 6h0m0-6h0m1 8h0m0-7h0m1 6h0m0-2h0m1-5h0m0 5h0m0-2h0m1 0h0m0 2h0m1 0h0m0 2h0m1-2h0m0-1h0m0-1h0m1 5h0m0-8h0m1 10h0m0 1h0m1-9h0m0 8h0m1-3h0m0 8h0m1-11h0m0 1h0m1-7h0m0-3h0m1 9h0m0 1h0m1-1h0m0-8h0m1 8h0m0 3h0m0 1h0m1-8h0m1 0h0m0 1h0m0-4h0m1 3h0m0 8h0m1-9h0m0-3h0m1 6h0m0-1h0m0 4h0m1-5h0m0 2h0m1-2h0m0-1h0m0 5h0m1-1h0m1 2h0m0-5h0m0 3h0m1 0h0m0 4h0m1-11h0m0 5h0m1 3h0m0-3h0m0 2h0m1 2h0m0-1h0m1-7h0m0 1h0m0-5h0m1 12h0m0-2h0m1 4h0m0-4h0m0-4h0m1 7h0m0-8h0m1 5h0m0-1h0m1 3h0m0 1h0m0-5h0m1-1h0m0 2h0m1-1h0m0 5h0m0-2h0m1 4h0m0 4h0m1-12h0m0 4h0m1 0h0m0-3h0m1-4h0m0 15h0m1-9h0m0-5h0m0-4h0m1 14h0m0-4h0m1-1h0m0-4h0m0 3h0m1-1h0m0-7h0m1 18h0m0-8h0m0-3h0m1-2h0m0 1h0m1 11h0m0-7h0m1-6h0m0 8h0m0-2h0m1 0h0m0-2h0m1 0h0m0 1h0m1-5h0m0 1h0m1 4h0m0-6h0m0 5h0m1-1h0m0 4h0m1-2h0m0-2h0m1 0h0m0 3h0m0 2h0m1-7h0m0-2h0m1 3h0m0-6h0m1 11h0m0 1h0m1 2h0m0-5h0m1-3h0m0 1h0m1 2h0m0 3h0m1-2h0m0-9h0m1 7h0m0-2h0m1 3h0m0 3h0m1-6h0m0 14h0m1-14h0m0 4h0m0 3h0m1-8h0m0 5h0m1-5h0m0 2h0m1-1h0m0 9h0m0-11h0m1 6h0m0-1h0m1-8h0m0 14h0m0-9h0m1 2h0m0 1h0m1-4h0m0 1h0m0 2h0m1-3h0m0 4h0m1 4h0m0-8h0m1-2h0m0 5h0m0 2h0m1 1h0m0-6h0m1-5h0m0 12h0m0-1h0m1 3h0m0-9h0m1 5h0m0 2h0m0-10h0m1 10h0m0 2h0m1-3h0m0-1h0m1 1h0m0-3h0m0-4h0m1 1h0m0 3h0m1-2h0m0 6h0m0-5h0m1 1h0m0-6h0m1 8h0m0-4h0m0 8h0m1-11h0m0 7h0m1-3h0m1 8h0m0-3h0m0-6h0m1 8h0m0-8h0m1 6h0m0-9h0m0 5h0m1 0h0m1-5h0m0-1h0m1 7h0m0 2h0m1-3h0m0-4h0m1 4h0m0-1h0m0-1h0m1 3h0m1 1h0m0-2h0m0-2h0m1 2h0m1-5h0m0 5h0m1-5h0m0-1h0m0 4h0m1 1h0m0 4h0m1-3h0m0 3h0m0 3h0m1-5h0m0 1h0m1-3h0m0 5h0m0-3h0m1 0h0m0-4h0m1 1h0m0 1h0m1 2h0m0 4h0m0-9h0m1 4h0m1 9h0m0-9h0m0-1h0m1 5h0m0-7h0m1 6h0m0-8h0m0 13h0m1-7h0m0-1h0m1-3h0m0 4h0m1 1h0m0-3h0m0 6h0m1-5h0m0 2h0m1 0h0m0 4h0m0-6h0m1 2h0m1 2h0m0-9h0m0 10h0m1-4h0m0-2h0m1 2h0m0-6h0m1 4h0m0 3h0m0 4h0m1-5h0m0 2h0m1-2h0m0 4h0m0-5h0m1 3h0m0-2h0m1-3h0m0 1h0m1 7h0m0 7h0m1-12h0m0-2h0m1 5h0m0-1h0m0-3h0m1 9h0m0-4h0m1 0h0m0-3h0m1 3h0m0-8h0m1 2h0m0 3h0m0-5h0m1 11h0m0-8h0m1 0h0m0 3h0m1 4h0m0-5h0m0-3h0m1 0h0m0 4h0m1-3h0m0 10h0m0-4h0m1-15h0m0 8h0m1 4h0m0 7h0m0-15h0m1 6h0m0 5h0m1-6h0m0 2h0m1-2h0m0 5h0m0-7h0m1 4h0m0-5h0m1 9h0m0-2h0m0-2h0m1 0h0m1-1h0m0 2h0m0 1h0m1-2h0m0-2h0m1 1h0m1 3h0m0-1h0m0 6h0m1-7h0m0 1h0m1-3h0m0 3h0m0-2h0m1-2h0m0 4h0m1 5h0m0-9h0m0 1h0m1 2h0m0 1h0m1 4h0m0-7h0m1 2h0m0-2h0m0-1h0m1 2h0m0-2h0m1 5h0m0 2h0m0-5h0m1-1h0m0 7h0m1-5h0m0 6h0m0-16h0m1 10h0m0-3h0m1 2h0m0 4h0m1 1h0m0-4h0m1-3h0m0 4h0m1-1h0m0-5h0m0 9h0m1-6h0m0 4h0m1-4h0m0 3h0m0 2h0m1-3h0m0-1h0m1 4h0m0-2h0m1-2h0m0 2h0m0-1h0m1-1h0m0 5h0m1 2h0m0-7h0m0 1h0m1-3h0m0-1h0m1 8h0m0-6h0m0 4h0m1-6h0m0 2h0m1 4h0m1-1h0m0 1h0m1 2h0m0 2h0m1-4h0m0-2h0m0-3h0m1 2h0m1 6h0m0-10h0m0 3h0m1-1h0m0 6h0m1-5h0m0-4h0m1-1h0m0 8h0m0-6h0m1 9h0m1-8h0m0 3h0m0 1h0m1-5h0m0 1h0m1 2h0m0 2h0m0 1h0m1-7h0m0 7h0m1-1h0m0-1h0m1 0h0m0 5h0m0 2h0m1-7h0m0 1h0m1-5h0m0 4h0m0 4h0m1-3h0m0 2h0m1-2h0m0 1h0m1 2h0m0-9h0m1 6h0m0-10h0m1 10h0m0-1h0m0-1h0m1 8h0m0-4h0m1 2h0m0-1h0m0 3h0m1-6h0m1 0h0m0 9h0m1-10h0m0 2h0m0 4h0m1-1h0m0-5h0m1 8h0m0-5h0m0 3h0m1-2h0m1-5h0m0 7h0m1-4h0m0 3h0m1-5h0m0 2h0m1 0h0m0 2h0m1-8h0m0 4h0m1 9h0m0-14h0m0 4h0m1 5h0m0-9h0m1 4h0m0 8h0m1-8h0m0 5h0m1-5h0m0 3h0m1-4h0m0-2h0m0 4h0m1-3h0m0 4h0m1 1h0m0 1h0m0 4h0m1-1h0m0-8h0m1 1h0m0 8h0m0-6h0m1-1h0m0 5h0m1-6h0m0 6h0m1-5h0m0 6h0m0-5h0m1 3h0m0 1h0m1 2h0m0-8h0m0 1h0m1-3h0m0-1h0m1 4h0m0 2h0m0 4h0m1-6h0m0 8h0m1-6h0m0 3h0m1-4h0m0-4h0m0 10h0m1-7h0m0 5h0m1-5h0m0 4h0m0-3h0m1-1h0m0 1h0m1 3h0m0-7h0m0 1h0m1 7h0m0-6h0m1 3h0m0-5h0m1 4h0m0 4h0m0-3h0m1 0h0m0-2h0m1 2h0m0-7h0m0 1h0m1 7h0m0-8h0m1 11h0m0-2h0m0-7h0m1-3h0m0-1h0m1 9h0m0-1h0m1 5h0m0-3h0m0 4h0m1-3h0m0-6h0m1 3h0m0-2h0m0 1h0m1 0h0m0 1h0m1 5h0m0-6h0m0-3h0m1 2h0m0 1h0m1-1h0m0 2h0m1-1h0m0 5h0m1-6h0m0 6h0m1 1h0m0-5h0m0-2h0m1 4h0m0-2h0m1 2h0m0-5h0m0 11h0m1-8h0m0 2h0m1-4h0m0 3h0m1-8h0m0 3h0m0-4h0m1 12h0m0-8h0m1-1h0m0 9h0m0-5h0m1 1h0m0 4h0m1-2h0m0 1h0m1-9h0m0 11h0m1 0h0m0 2h0m1-14h0m0 5h0m0 1h0m1 7h0m0-3h0m1 4h0m0-5h0m0-4h0m1-2h0m0 3h0m1 6h0m0-7h0m0-4h0m1 8h0m0 3h0m1 4h0m0-4h0m1-1h0m0-10h0m0 5h0m1 0h0m0 2h0m1-4h0m0 6h0m0 2h0m1-4h0m0-1h0m1 1h0m0 1h0m0 1h0m1-5h0m0 8h0m1-5h0m0-1h0m1 3h0m0-5h0m0 6h0m1 4h0m0-6h0m1-1h0m0-2h0m0 7h0m1-2h0m0-9h0m1 9h0m0-6h0m0-2h0m1 4h0m0-2h0m1 7h0m0-9h0m1 0h0m0 1h0m0 3h0m1 3h0m0-6h0m1 1h0m0-3h0m0 5h0m1-3h0m0 11h0m1-1h0m0-10h0m0 4h0m1 1h0m0-3h0m1 0h0m0 4h0m1-3h0m1 5h0m0-5h0m1 2h0m0-1h0m0 2h0m1-3h0m0-1h0m1-1h0m0 3h0m1 0h0m0-1h0m1 9h0m0-6h0m1-9h0m0 11h0m0-4h0m1-4h0m0 8h0m1-5h0m0 4h0m0-5h0m1 5h0m0-4h0m1 4h0m0-1h0m1-6h0m0 5h0m1-2h0m0-5h0m1 7h0m0-2h0m0 5h0m1-8h0m0 7h0m1-3h0m0 8h0m0-12h0m1 7h0m0-5h0m1-2h0m0 7h0m1-1h0m0 1h0m0-9h0m1 2h0m0 6h0m1-5h0m0 7h0m0 1h0m1-6h0m0 1h0m1 0h0m0-1h0m1 0h0m0 2h0m1-2h0m0-1h0m1 1h0m0-1h0m0 2h0m1 2h0m0 5h0m1-13h0m0 1h0m0 5h0m1 0h0m1 6h0m0-12h0m0 5h0m1-4h0m0 4h0m1 3h0m0-7h0m1 8h0m0-6h0m0-1h0m1-2h0m0 3h0m1 0h0m0 6h0m0-8h0m1 6h0m0 2h0m1-4h0m0 4h0m0-5h0m1 3h0m0-2h0m1 8h0m0-8h0m1 0h0m0 2h0m0-3h0m1 1h0m0 2h0m1 2h0m0-5h0m0 2h0m1-1h0m0 3h0m1 1h0m0-2h0m1 5h0m0-9h0m1 9h0m0-4h0m1-7h0m0 5h0m1 0h0m0-7h0m1 10h0m0-6h0m0 9h0m1-8h0m0 2h0m1-5h0m0 5h0m1 2h0m0 7h0m1-3h0m0-3h0m1-4h0m1-2h0m0 5h0m1-2h0m0 2h0m0-3h0m1 3h0m0 4h0m1-5h0m0 2h0m0-6h0m1 3h0m0-1h0m1 3h0m0-1h0m1-3h0m0 4h0m0-1h0m1-6h0m0 5h0m1 5h0m0-8h0m0 7h0m1-1h0m0-2h0m1 1h0m0-4h0m0 5h0m1-7h0m0 1h0m1 5h0m0-5h0m1 10h0m0-5h0m0 2h0m1 0h0m0-5h0m1 2h0m0 1h0m1 4h0m0-2h0m1-3h0m0 4h0m1-2h0m0-2h0m1-1h0m0-2h0m1 0h0m0 3h0m0 1h0m1-8h0m0 5h0m1 4h0m0-3h0m0-3h0m1 0h0m0 9h0m1-11h0m0 5h0m0 4h0m1-10h0"/>
<path fill="#ff0000" d="M250.5 564l3.5 5h-7zm1-5l3.5 5h-7zm0 1l3.5 5h-7zm1-14l3.5 5h-7zm0 30l3.5 5h-7zm0-5l3.5 5h-7zm1-10l3.5 5h-7zm0 8l3.5 5h-7zm1-3l3.5 5h-7zm0-6l3.5 5h-7zm1 11l3.5 5h-7zm0-9l3.5 5h-7zm1-3l3.5 5h-7zm0 8l3.5 5h-7zm1-3l3.5 5h-7zm0 4l3.5 5h-7zm0-8l3.5 5h-7zm1 6l3.5 5h-7zm0-7l3.5 5h-7zm1 12l3.5 5h-7zm0-4l3.5 5h-7zm0 1l3.5 5h-7zm1 0l3.5 5h-7zm0-9l3.5 5h-7zm1 12l3.5 5h-7zm0 9l3.5 5h-7zm1-25l3.5 5h-7zm0-1l3.5 5h-7zm0 2l3.5 5h-7zm1 17l3.5 5h-7zm0-5l3.5 5h-7zm1 7l3.5 5h-7zm0-3l3.5 5h-7zm0-3l3.5 5h-7zm1 1l3.5 5h-7zm0-3l3.5 5h-7zm1 7l3.5 5h-7zm0-14l3.5 5h-7zm0 5l3.5 5h-7zm1 5l3.5 5h-7zm0 11l3.5 5h-7zm1-17l3.5 5h-7zm0-2l3.5 5h-7zm1 4l3.5 5h-7zm0 10l3.5 5h-7zm0-8l3.5 5h-7zm1 11l3.5 5h-7zm0-21l3.5 5h-7zm1 21l3.5 5h-7zm0-1l3.5 5h-7zm0-16l3.5 5h-7zm1 11l3.5 5h-7zm0 8l3.5 5h-7zm1-8l3.5 5h-7zm0 7l3.5 5h-7zm0 10l3.5 5h-7zm1-15l3.5 5h-7zm0-3l3.5 5h-7zm1-3l3.5 5h-7zm0 10l3.5 5h-7zm1-5l3.5 5h-7zm0 1l3.5 5h-7zm1 5l3.5 5h-7zm0-11l3.5 5h-7zm1-3l3.5 5h-7zm0-6l3.5 5h-7zm0 26l3.5 5h-7zm1-8l3.5 5h-7zm0 10l3.5 5h-7zm1-10l3.5 5h-7zm0-4l3.5 5h-7zm0 8l3.5 5h-7zm1-3l3.5 5h-7zm0-8l3.5 5h-7zm1 3l3.5 5h-7zm0 19l3.5 5h-7zm1-10l3.5 5h-7zm0 1l3.5 5h-7zm0-5l3.5 5h-7zm1-2l3.5 5h-7zm0 11l3.5 5h-7zm1-7l3.5 5h-7zm0-4l3.5 5h-7zm0 5l3.5 5h-7zm1-5l3.5 5h-7zm0 8l3.5 5h-7zm1 6l3.5 5h-7zm0-13l3.5 5h-7zm0 16l3.5 5h-7zm1-14l3.5 5h-7zm0 6l3.5 5h-7zm1-7l3.5 5h-7zm0 5l3.5 5h-7zm1 2l3.5 5h-7zm0-3l3.5 5h-7zm0-2l3.5 5h-7zm1 1l3.5 5h-7zm0-1l3.5 5h-7zm1-5l3.5 5h-7zm0 10l3.5 5h-7zm0 4l3.5 5h-7zm1 4l3.5 5h-7zm0-1l3.5 5h-7zm1 12l3.5 5h-7zm0-14l3.5 5h-7zm0-5l3.5 5h-7zm1 16l3.5 5h-7zm0-20l3.5 5h-7zm1 14l3.5 5h-7zm0-13l3.5 5h-7zm1 10l3.5 5h-7zm0-16l3.5 5h-7zm0 20l3.5 5h-7zm1-7l3.5 5h-7zm0-6l3.5 5h-7zm1 19l3.5 5h-7zm0-6l3.5 5h-7zm0-5l3.5 5h-7zm1-5l3.5 5h-7zm0 5l3.5 5h-7zm1-1l3.5 5h-7zm0 6l3.5 5h-7zm0 1l3.5 5h-7zm1-10l3.5 5h-7zm0 1l3.5 5h-7zm1 0l3.5 5h-7zm0-5l3.5 5h-7zm1 5l3.5 5h-7zm0 3l3.5 5h-7zm0 6l3.5 5h-7zm1 4l3.5 5h-7zm0-14l3.5 5h-7zm1 9l3.5 5h-7zm0-6l3.5 5h-7zm0 17l3.5 5h-7zm1-15l3.5 5h-7zm0 4l3.5 5h-7zm1-9l3.5 5h-7zm0 7l3.5 5h-7zm1-3l3.5 5h-7zm0 5l3.5 5h-7zm1-13l3.5 5h-7zm0 15l3.5 5h-7zm1-11l3.5 5h-7zm0 18l3.5 5h-7zm0-13l3.5 5h-7zm1 9l3.5 5h-7zm0-17l3.5 5h-7zm1 13l3.5 5h-7zm0-9l3.5 5h-7zm0 3l3.5 5h-7zm1 3l3.5 5h-7zm0-2l3.5 5h-7zm1 4l3.5 5h-7zm0 3l3.5 5h-7zm1-5l3.5 5h-7zm0-9l3.5 5h-7zm1 4l3.5 5h-7zm0 4l3.5 5h-7zm1-13l3.5 5h-7zm0 20l3.5 5h-7zm0-7l3.5 5h-7zm1 0l3.5 5h-7zm0 8l3.5 5h-7zm1-2l3.5 5h-7zm0-2l3.5 5h-7zm0-9l3.5 5h-7zm1 9l3.5 5h-7zm0 1l3.5 5h-7zm1-9l3.5 5h-7zm0 14l3.5 5h-7zm0-4l3.5 5h-7zm1-17l3.5 5h-7zm0 15l3.5 5h-7zm1-10l3.5 5h-7zm0 17l3.5 5h-7zm1-2l3.5 5h-7zm0-13l3.5 5h-7zm0 1l3.5 5h-7zm1 7l3.5 5h-7zm0-2l3.5 5h-7zm1 12l3.5 5h-7zm0-5l3.5 5h-7zm0-7l3.5 5h-7zm1 6l3.5 5h-7zm0-18l3.5 5h-7zm1 16l3.5 5h-7zm0 4l3.5 5h-7zm1-7l3.5 5h-7zm0-3l3.5 5h-7zm0 8l3.5 5h-7zm1 10l3.5 5h-7zm0-12l3.5 5h-7zm1-9l3.5 5h-7zm0 18l3.5 5h-7zm0-23l3.5 5h-7zm1 17l3.5 5h-7zm0-8l3.5 5h-7zm1 11l3.5 5h-7zm0-12l3.5 5h-7zm0 14l3.5 5h-7zm1-7l3.5 5h-7zm0-13l3.5 5h-7zm1-2l3.5 5h-7zm0 11l3.5 5h-7zm1 11l3.5 5h-7zm0-8l3.5 5h-7zm1-2l3.5 5h-7zm0 7l3.5 5h-7zm1-3l3.5 5h-7zm0-1l3.5 5h-7zm0-8l3.5 5h-7zm1 15l3.5 5h-7zm0 1l3.5 5h-7zm1-18l3.5 5h-7zm0 24l3.5 5h-7zm0-11l3.5 5h-7zm1-8l3.5 5h-7zm0-9l3.5 5h-7zm1 17l3.5 5h-7zm0-1l3.5 5h-7zm1-7l3.5 5h-7zm0-8l3.5 5h-7zm0 19l3.5 5h-7zm1-11l3.5 5h-7zm1 23l3.5 5h-7zm0-5l3.5 5h-7zm0-8l3.5 5h-7zm1-9l3.5 5h-7zm0 7l3.5 5h-7zm1-20l3.5 5h-7zm0 16l3.5 5h-7zm0-6l3.5 5h-7zm1-3l3.5 5h-7zm0-2l3.5 5h-7zm1 14l3.5 5h-7zm0-3l3.5 5h-7zm1 1l3.5 5h-7zm0 4l3.5 5h-7zm0-11l3.5 5h-7zm1-3l3.5 5h-7zm0-3l3.5 5h-7zm1 9l3.5 5h-7zm0 7l3.5 5h-7zm0-6l3.5 5h-7zm1 5l3.5 5h-7zm0-12l3.5 5h-7zm1 5l3.5 5h-7zm0-2l3.5 5h-7zm0-3l3.5 5h-7zm1 20l3.5 5h-7zm0-7l3.5 5h-7zm1-10l3.5 5h-7zm0-1l3.5 5h-7zm1 5l3.5 5h-7zm0-9l3.5 5h-7zm0 12l3.5 5h-7zm1-11l3.5 5h-7zm0 6l3.5 5h-7zm1-5l3.5 5h-7zm0 4l3.5 5h-7zm0-6l3.5 5h-7zm1-2l3.5 5h-7zm0 4l3.5 5h-7zm1 2l3.5 5h-7zm0 2l3.5 5h-7zm0 3l3.5 5h-7zm1 9l3.5 5h-7zm0-5l3.5 5h-7zm1-7l3.5 5h-7zm0 6l3.5 5h-7zm1-9l3.5 5h-7zm0 14l3.5 5h-7zm0-6l3.5 5h-7zm1-13l3.5 5h-7zm0 14l3.5 5h-7zm1 0l3.5 5h-7zm0-23l3.5 5h-7zm0 12l3.5 5h-7zm1 2l3.5 5h-7zm0-10l3.5 5h-7zm1 6l3.5 5h-7zm0 10l3.5 5h-7zm1-2l3.5 5h-7zm0 15l3.5 5h-7zm1-20l3.5 5h-7zm0 10l3.5 5h-7zm1-7l3.5 5h-7zm0 1l3.5 5h-7zm0-10l3.5 5h-7zm1-5l3.5 5h-7zm0 8l3.5 5h-7zm1 10l3.5 5h-7zm0 5l3.5 5h-7zm0-7l3.5 5h-7zm1-1l3.5 5h-7zm0-8l3.5 5h-7zm1 15l3.5 5h-7zm0-1l3.5 5h-7zm0-13l3.5 5h-7zm1 3l3.5 5h-7zm0-6l3.5 5h-7zm1 16l3.5 5h-7zm0-7l3.5 5h-7zm1-4l3.5 5h-7zm0 3l3.5 5h-7zm1-5l3.5 5h-7zm0-6l3.5 5h-7zm1 0l3.5 5h-7zm0-4l3.5 5h-7zm0 15l3.5 5h-7zm1 11l3.5 5h-7zm0-26l3.5 5h-7zm1 12l3.5 5h-7zm0 1l3.5 5h-7zm0-9l3.5 5h-7zm1 8l3.5 5h-7zm0-9l3.5 5h-7zm1 15l3.5 5h-7zm0-12l3.5 5h-7zm1 4l3.5 5h-7zm0 4l3.5 5h-7zm0-8l3.5 5h-7zm1-9l3.5 5h-7zm0 8l3.5 5h-7zm1 8l3.5 5h-7zm0-6l3.5 5h-7zm0 2l3.5 5h-7zm1-9l3.5 5h-7zm0 8l3.5 5h-7zm1 3l3.5 5h-7zm0-5l3.5 5h-7zm0 12l3.5 5h-7zm1-14l3.5 5h-7zm0-6l3.5 5h-7zm1-4l3.5 5h-7zm0 18l3.5 5h-7zm1-8l3.5 5h-7zm0 6l3.5 5h-7zm0-3l3.5 5h-7zm1 7l3.5 5h-7zm0-3l3.5 5h-7zm1-11l3.5 5h-7zm0 4l3.5 5h-7zm0 5l3.5 5h-7zm1-16l3.5 5h-7zm0 17l3.5 5h-7zm1-2l3.5 5h-7zm0-2l3.5 5h-7zm0-8l3.5 5h-7zm1 3l3.5 5h-7zm0-9l3.5 5h-7zm1 7l3.5 5h-7zm0-5l3.5 5h-7zm1 4l3.5 5h-7zm0-4l3.5 5h-7zm1 9l3.5 5h-7zm0-16l3.5 5h-7zm1 14l3.5 5h-7zm0-19l3.5 5h-7zm0-1l3.5 5h-7zm1 12l3.5 5h-7zm1 2l3.5 5h-7zm0-13l3.5 5h-7zm0 9l3.5 5h-7zm1 1l3.5 5h-7zm0 6l3.5 5h-7zm1-9l3.5 5h-7zm0 4l3.5 5h-7zm1-10l3.5 5h-7zm0 4l3.5 5h-7zm0-2l3.5 5h-7zm1 7l3.5 5h-7zm0-11l3.5 5h-7zm1 0l3.5 5h-7zm0 8l3.5 5h-7zm0 6l3.5 5h-7zm1-8l3.5 5h-7zm0-1l3.5 5h-7zm1-5l3.5 5h-7zm0 8l3.5 5h-7zm0-4l3.5 5h-7zm1 6l3.5 5h-7zm0-8l3.5 5h-7zm1-8l3.5 5h-7zm0 2l3.5 5h-7zm1-3l3.5 5h-7zm0-2l3.5 5h-7zm0 13l3.5 5h-7zm1-3l3.5 5h-7zm0-12l3.5 5h-7zm1 16l3.5 5h-7zm0-9l3.5 5h-7zm0-7l3.5 5h-7zm1 6l3.5 5h-7zm0-3l3.5 5h-7zm1-4l3.5 5h-7zm0-7l3.5 5h-7zm0 10l3.5 5h-7zm1 1l3.5 5h-7zm0-16l3.5 5h-7zm1 16l3.5 5h-7zm0-1l3.5 5h-7zm1-6l3.5 5h-7zm0 2l3.5 5h-7zm1-6l3.5 5h-7zm0 2l3.5 5h-7zm1 8l3.5 5h-7zm0-15l3.5 5h-7zm0 8l3.5 5h-7zm1-1l3.5 5h-7zm0-5l3.5 5h-7zm1 0l3.5 5h-7zm0-5l3.5 5h-7zm0 2l3.5 5h-7zm1 4l3.5 5h-7zm1-7l3.5 5h-7zm0 19l3.5 5h-7zm1-18l3.5 5h-7zm0 2l3.5 5h-7zm1-4l3.5 5h-7zm0 7l3.5 5h-7zm1-9l3.5 5h-7zm0 8l3.5 5h-7zm0-2l3.5 5h-7zm1-12l3.5 5h-7zm0 9l3.5 5h-7zm1-8l3.5 5h-7zm0 14l3.5 5h-7zm1-15l3.5 5h-7zm0-4l3.5 5h-7zm0-5l3.5 5h-7zm1 2l3.5 5h-7zm0 2l3.5 5h-7zm1-3l3.5 5h-7zm0-2l3.5 5h-7zm1 3l3.5 5h-7zm0 6l3.5 5h-7zm1-15l3.5 5h-7zm0 4l3.5 5h-7zm0-2l3.5 5h-7zm1-4l3.5 5h-7zm1 0l3.5 5h-7zm0 7l3.5 5h-7zm1-5l3.5 5h-7zm0-3l3.5 5h-7zm0 4l3.5 5h-7zm1-3l3.5 5h-7zm0-3l3.5 5h-7zm1 2l3.5 5h-7zm0-7l3.5 5h-7zm0 5l3.5 5h-7zm1-2l3.5 5h-7zm0-5l3.5 5h-7zm1-5l3.5 5h-7zm0 12l3.5 5h-7zm0-9l3.5 5h-7zm1 13l3.5 5h-7zm0-19l3.5 5h-7zm1 6l3.5 5h-7zm0-7l3.5 5h-7zm1 2l3.5 5h-7zm0 1l3.5 5h-7zm0-9l3.5 5h-7zm1 2l3.5 5h-7zm0-1l3.5 5h-7zm1-1l3.5 5h-7zm0 1l3.5 5h-7zm1-2l3.5 5h-7zm0-4l3.5 5h-7zm1-5l3.5 5h-7zm0-6l3.5 5h-7zm0 1l3.5 5h-7zm1-1l3.5 5h-7zm0 5l3.5 5h-7zm1-7l3.5 5h-7zm0-6l3.5 5h-7zm1 9l3.5 5h-7zm0-9l3.5 5h-7zm0-1l3.5 5h-7zm1 1l3.5 5h-7zm0 3l3.5 5h-7zm1-17l3.5 5h-7zm0 6l3.5 5h-7zm0 5l3.5 5h-7zm1-4l3.5 5h-7zm0-4l3.5 5h-7zm1 0l3.5 5h-7zm0 9l3.5 5h-7zm0-12l3.5 5h-7zm1 4l3.5 5h-7zm0-2l3.5 5h-7zm1-9l3.5 5h-7zm0 2l3.5 5h-7zm1-8l3.5 5h-7zm0-3l3.5 5h-7zm0-4l3.5 5h-7zm1 9l3.5 5h-7zm0-8l3.5 5h-7zm1-3l3.5 5h-7zm0-4l3.5 5h-7zm0 14l3.5 5h-7zm1-7l3.5 5h-7zm0-7l3.5 5h-7zm1-6l3.5 5h-7zm0-8l3.5 5h-7zm1 5l3.5 5h-7zm0-12l3.5 5h-7zm1 13l3.5 5h-7zm0-4l3.5 5h-7zm1-11l3.5 5h-7zm0 1l3.5 5h-7zm1 1l3.5 5h-7zm0-4l3.5 5h-7zm1-10l3.5 5h-7zm0 16l3.5 5h-7zm0-9l3.5 5h-7zm1 4l3.5 5h-7zm0-2l3.5 5h-7zm1-11l3.5 5h-7zm0 1l3.5 5h-7zm1-3l3.5 5h-7zm0-9l3.5 5h-7zm1-5l3.5 5h-7zm0 1l3.5 5h-7zm1-8l3.5 5h-7zm0-1l3.5 5h-7zm0-12l3.5 5h-7zm1 10l3.5 5h-7zm0-8l3.5 5h-7zm1 1l3.5 5h-7zm0 1l3.5 5h-7zm0 1l3.5 5h-7zm1 8l3.5 5h-7zm0-12l3.5 5h-7zm1-11l3.5 5h-7zm0 7l3.5 5h-7zm0-6l3.5 5h-7zm1 3l3.5 5h-7zm0-10l3.5 5h-7zm1-3l3.5 5h-7zm0-2l3.5 5h-7zm1-2l3.5 5h-7zm0-9l3.5 5h-7zm0 5l3.5 5h-7zm1 3l3.5 5h-7zm0 6l3.5 5h-7zm1-11l3.5 5h-7zm0-2l3.5 5h-7zm0 5l3.5 5h-7zm1-2l3.5 5h-7zm0 5l3.5 5h-7zm1-9l3.5 5h-7zm0-5l3.5 5h-7zm0 6l3.5 5h-7zm1 0l3.5 5h-7zm0-15l3.5 5h-7zm1 3l3.5 5h-7zm0-14l3.5 5h-7zm1 7l3.5 5h-7zm0-4l3.5 5h-7zm0 3l3.5 5h-7zm1-3l3.5 5h-7zm0 1l3.5 5h-7zm1 0l3.5 5h-7zm0 2l3.5 5h-7zm1-8l3.5 5h-7zm0-6l3.5 5h-7zm1 16l3.5 5h-7zm0-13l3.5 5h-7zm1 6l3.5 5h-7zm0-14l3.5 5h-7zm1-1l3.5 5h-7zm0 7l3.5 5h-7zm1 11l3.5 5h-7zm0-18l3.5 5h-7zm0 1l3.5 5h-7zm1 15l3.5 5h-7zm0-24l3.5 5h-7zm1 16l3.5 5h-7zm0-3l3.5 5h-7zm0-6l3.5 5h-7zm1 2l3.5 5h-7zm0 15l3.5 5h-7zm1-27l3.5 5h-7zm0 4l3.5 5h-7zm1-5l3.5 5h-7zm0-6l3.5 5h-7zm1 19l3.5 5h-7zm0-10l3.5 5h-7zm1-15l3.5 5h-7zm0 6l3.5 5h-7zm0 7l3.5 5h-7zm1-1l3.5 5h-7zm0-14l3.5 5h-7zm1 9l3.5 5h-7zm0 2l3.5 5h-7zm0 1l3.5 5h-7zm1 0l3.5 5h-7zm0-16l3.5 5h-7zm1 26l3.5 5h-7zm0-11l3.5 5h-7zm1 19l3.5 5h-7zm0-21l3.5 5h-7zm1-7l3.5 5h-7zm0 15l3.5 5h-7zm1-7l3.5 5h-7zm0-1l3.5 5h-7zm0-4l3.5 5h-7zm1 19l3.5 5h-7zm0-14l3.5 5h-7zm1-6l3.5 5h-7zm0 7l3.5 5h-7zm0-4l3.5 5h-7zm1 10l3.5 5h-7zm0-4l3.5 5h-7zm1-3l3.5 5h-7zm0 12l3.5 5h-7zm0-8l3.5 5h-7zm1 10l3.5 5h-7zm0 4l3.5 5h-7zm1-10l3.5 5h-7zm0-2l3.5 5h-7zm1 7l3.5 5h-7zm0 5l3.5 5h-7zm1-3l3.5 5h-7zm1 3l3.5 5h-7zm0 4l3.5 5h-7zm0-8l3.5 5h-7zm1 3l3.5 5h-7zm0 5l3.5 5h-7zm1-3l3.5 5h-7zm0 7l3.5 5h-7zm0 4l3.5 5h-7zm1-2l3.5 5h-7zm0-2l3.5 5h-7zm1 0l3.5 5h-7zm0 18l3.5 5h-7zm1-4l3.5 5h-7zm0-12l3.5 5h-7zm0 4l3.5 5h-7zm1 19l3.5 5h-7zm0-1l3.5 5h-7zm1-7l3.5 5h-7zm0 8l3.5 5h-7zm0-16l3.5 5h-7zm1 12l3.5 5h-7zm0 6l3.5 5h-7zm1-15l3.5 5h-7zm0 9l3.5 5h-7zm0 11l3.5 5h-7zm1 4l3.5 5h-7zm0-10l3.5 5h-7zm1 8l3.5 5h-7zm0 9l3.5 5h-7zm1-11l3.5 5h-7zm0-4l3.5 5h-7zm0 9l3.5 5h-7zm1-1l3.5 5h-7zm0 12l3.5 5h-7zm1-6l3.5 5h-7zm0-4l3.5 5h-7zm0 21l3.5 5h-7zm1-17l3.5 5h-7zm0 7l3.5 5h-7zm1 2l3.5 5h-7zm0 2l3.5 5h-7zm1-3l3.5 5h-7zm0 3l3.5 5h-7zm1-10l3.5 5h-7zm0 8l3.5 5h-7zm1 1l3.5 5h-7zm0 2l3.5 5h-7zm0 3l3.5 5h-7zm1-4l3.5 5h-7zm0 14l3.5 5h-7zm1 3l3.5 5h-7zm0-22l3.5 5h-7zm0 15l3.5 5h-7zm1-3l3.5 5h-7zm0-10l3.5 5h-7zm1 20l3.5 5h-7zm0-5l3.5 5h-7zm1 3l3.5 5h-7zm0 11l3.5 5h-7zm1 2l3.5 5h-7zm0-5l3.5 5h-7zm1 4l3.5 5h-7zm0-4l3.5 5h-7zm0 3l3.5 5h-7zm1-5l3.5 5h-7zm0 6l3.5 5h-7zm1-4l3.5 5h-7zm0 8l3.5 5h-7zm0 3l3.5 5h-7zm1-2l3.5 5h-7zm0 6l3.5 5h-7zm1 10l3.5 5h-7zm0-28l3.5 5h-7zm1 13l3.5 5h-7zm0-3l3.5 5h-7zm0 2l3.5 5h-7zm1-5l3.5 5h-7zm0 9l3.5 5h-7zm1-1l3.5 5h-7zm0-2l3.5 5h-7zm0 3l3.5 5h-7zm1-1l3.5 5h-7zm0-10l3.5 5h-7zm1 20l3.5 5h-7zm0-7l3.5 5h-7zm0-3l3.5 5h-7zm1 8l3.5 5h-7zm0-5l3.5 5h-7zm1-7l3.5 5h-7zm0 18l3.5 5h-7zm1-14l3.5 5h-7zm0 9l3.5 5h-7zm0 3l3.5 5h-7zm1 8l3.5 5h-7zm1-4l3.5 5h-7zm0-4l3.5 5h-7zm0 3l3.5 5h-7zm1 9l3.5 5h-7zm0 5l3.5 5h-7zm1-5l3.5 5h-7zm0-6l3.5 5h-7zm0 11l3.5 5h-7zm1-7l3.5 5h-7zm0 2l3.5 5h-7zm1 2l3.5 5h-7zm0 6l3.5 5h-7zm1 0l3.5 5h-7zm0 5l3.5 5h-7zm0 3l3.5 5h-7zm1-3l3.5 5h-7zm0-14l3.5 5h-7zm1 4l3.5 5h-7zm0 11l3.5 5h-7zm1 13l3.5 5h-7zm0-11l3.5 5h-7zm1 1l3.5 5h-7zm0 6l3.5 5h-7zm0 2l3.5 5h-7zm1-6l3.5 5h-7zm0 5l3.5 5h-7zm1-8l3.5 5h-7zm0 2l3.5 5h-7zm1 13l3.5 5h-7zm0-12l3.5 5h-7zm0 13l3.5 5h-7zm1 0l3.5 5h-7zm0 2l3.5 5h-7zm1 2l3.5 5h-7zm0-13l3.5 5h-7zm1 8l3.5 5h-7zm0 3l3.5 5h-7zm1 10l3.5 5h-7zm0-10l3.5 5h-7zm0 4l3.5 5h-7zm1 3l3.5 5h-7zm0 10l3.5 5h-7zm1-13l3.5 5h-7zm0 2l3.5 5h-7zm1 12l3.5 5h-7zm0-13l3.5 5h-7zm0 14l3.5 5h-7zm1-3l3.5 5h-7zm0-4l3.5 5h-7zm1 7l3.5 5h-7zm0-2l3.5 5h-7zm0 7l3.5 5h-7zm1 3l3.5 5h-7zm0 7l3.5 5h-7zm1-6l3.5 5h-7zm0 2l3.5 5h-7zm1 2l3.5 5h-7zm0 7l3.5 5h-7zm1-14l3.5 5h-7zm0 15l3.5 5h-7zm1-4l3.5 5h-7zm0 4l3.5 5h-7zm0 3l3.5 5h-7zm1 4l3.5 5h-7zm0-1l3.5 5h-7zm1-2l3.5 5h-7zm0 5l3.5 5h-7zm0 1l3.5 5h-7zm1 0l3.5 5h-7zm0 4l3.5 5h-7zm1 5l3.5 5h-7zm0-2l3.5 5h-7zm1-4l3.5 5h-7zm0 8l3.5 5h-7zm1-7l3.5 5h-7zm0 14l3.5 5h-7zm1-6l3.5 5h-7zm0 12l3.5 5h-7zm0 10l3.5 5h-7zm1-15l3.5 5h-7zm0 10l3.5 5h-7zm1-3l3.5 5h-7zm0-3l3.5 5h-7zm1 8l3.5 5h-7zm0 5l3.5 5h-7zm1-4l3.5 5h-7zm0-7l3.5 5h-7zm0 4l3.5 5h-7zm1 5l3.5 5h-7zm0 8l3.5 5h-7zm1-3l3.5 5h-7zm0 1l3.5 5h-7zm1 5l3.5 5h-7zm0-5l3.5 5h-7zm0 2l3.5 5h-7zm1 1l3.5 5h-7zm0-5l3.5 5h-7zm1 11l3.5 5h-7zm0 2l3.5 5h-7zm0 4l3.5 5h-7zm1-8l3.5 5h-7zm0 3l3.5 5h-7zm1 10l3.5 5h-7zm0-1l3.5 5h-7zm0 6l3.5 5h-7zm1-8l3.5 5h-7zm0 6l3.5 5h-7zm1-2l3.5 5h-7zm0 6l3.5 5h-7zm1-2l3.5 5h-7zm0 6l3.5 5h-7zm0 4l3.5 5h-7zm1 0l3.5 5h-7zm0-10l3.5 5h-7zm1 14l3.5 5h-7zm0-1l3.5 5h-7zm0-5l3.5 5h-7zm1 2l3.5 5h-7zm0 5l3.5 5h-7zm1 4l3.5 5h-7zm0-3l3.5 5h-7zm0-4l3.5 5h-7zm1 10l3.5 5h-7zm1 12l3.5 5h-7zm0-16l3.5 5h-7zm1 19l3.5 5h-7zm0-2l3.5 5h-7zm0-5l3.5 5h-7zm1 8l3.5 5h-7zm0-6l3.5 5h-7zm1 6l3.5 5h-7zm0-6l3.5 5h-7zm0 5l3.5 5h-7zm1-3l3.5 5h-7zm0-1l3.5 5h-7zm1 8l3.5 5h-7zm0 7l3.5 5h-7zm1 5l3.5 5h-7zm0-5l3.5 5h-7zm1 3l3.5 5h-7zm0 2l3.5 5h-7zm1-7l3.5 5h-7zm0 10l3.5 5h-7zm1 1l3.5 5h-7zm0-3l3.5 5h-7zm1-3l3.5 5h-7zm0 9l3.5 5h-7zm0 4l3.5 5h-7zm1 6l3.5 5h-7zm1 3l3.5 5h-7zm0-4l3.5 5h-7zm0 5l3.5 5h-7zm1-6l3.5 5h-7zm0 5l3.5 5h-7zm1 3l3.5 5h-7zm0 9l3.5 5h-7zm1-10l3.5 5h-7zm0-6l3.5 5h-7zm0 13l3.5 5h-7zm1-9l3.5 5h-7zm0 5l3.5 5h-7zm1 0l3.5 5h-7zm0-2l3.5 5h-7zm0 12l3.5 5h-7zm1-2l3.5 5h-7zm0-5l3.5 5h-7zm1 4l3.5 5h-7zm0-1l3.5 5h-7zm0 6l3.5 5h-7zm1-4l3.5 5h-7zm1 1l3.5 5h-7zm0 2l3.5 5h-7zm1 4l3.5 5h-7zm0-4l3.5 5h-7zm1 8l3.5 5h-7zm0 10l3.5 5h-7zm1-6l3.5 5h-7zm0-18l3.5 5h-7zm0 13l3.5 5h-7zm1 1l3.5 5h-7zm0 4l3.5 5h-7zm1 7l3.5 5h-7zm0-3l3.5 5h-7zm1-14l3.5 5h-7zm0 13l3.5 5h-7zm1 2l3.5 5h-7zm0 6l3.5 5h-7zm1-11l3.5 5h-7zm0 11l3.5 5h-7zm0-13l3.5 5h-7zm1 9l3.5 5h-7zm0 2l3.5 5h-7zm1 10l3.5 5h-7zm0-13l3.5 5h-7zm0-5l3.5 5h-7zm1 12l3.5 5h-7zm0-5l3.5 5h-7zm1 11l3.5 5h-7zm0-10l3.5 5h-7zm1-1l3.5 5h-7zm0 11l3.5 5h-7zm0-5l3.5 5h-7zm1 5l3.5 5h-7zm0-11l3.5 5h-7zm1 15l3.5 5h-7zm0-10l3.5 5h-7zm0 8l3.5 5h-7zm1-8l3.5 5h-7zm0-2l3.5 5h-7zm1 6l3.5 5h-7zm0 3l3.5 5h-7zm0 8l3.5 5h-7zm1-5l3.5 5h-7zm0 2l3.5 5h-7zm1 0l3.5 5h-7zm0 13l3.5 5h-7zm1-18l3.5 5h-7zm0 11l3.5 5h-7zm0-6l3.5 5h-7zm1 2l3.5 5h-7zm0-3l3.5 5h-7zm1 9l3.5 5h-7zm0-11l3.5 5h-7zm0 1l3.5 5h-7zm1 6l3.5 5h-7zm0-4l3.5 5h-7zm1 10l3.5 5h-7zm0 2l3.5 5h-7zm0-8l3.5 5h-7zm1 9l3.5 5h-7zm0-6l3.5 5h-7zm1 3l3.5 5h-7zm0 1l3.5 5h-7zm1 10l3.5 5h-7zm0-8l3.5 5h-7zm0-4l3.5 5h-7zm1 1l3.5 5h-7zm0 11l3.5 5h-7zm1-13l3.5 5h-7zm0 7l3.5 5h-7zm0 1l3.5 5h-7zm1-9l3.5 5h-7zm0 10l3.5 5h-7zm1 8l3.5 5h-7zm0-3l3.5 5h-7zm0-4l3.5 5h-7zm1 8l3.5 5h-7zm1 9l3.5 5h-7zm0-13l3.5 5h-7zm1 2l3.5 5h-7zm0 3l3.5 5h-7zm1 2l3.5 5h-7zm1-2l3.5 5h-7zm0-3l3.5 5h-7zm0 6l3.5 5h-7zm1-4l3.5 5h-7zm0 3l3.5 5h-7zm1 3l3.5 5h-7zm0 6l3.5 5h-7zm0 2l3.5 5h-7zm1-8l3.5 5h-7zm0 7l3.5 5h-7zm1 3l3.5 5h-7zm0-3l3.5 5h-7zm1-7l3.5 5h-7zm0-2l3.5 5h-7zm0 15l3.5 5h-7zm1 1l3.5 5h-7zm0-2l3.5 5h-7zm1-6l3.5 5h-7zm0 13l3.5 5h-7zm0-1l3.5 5h-7zm1-5l3.5 5h-7zm0-1l3.5 5h-7zm1-8l3.5 5h-7zm0 14l3.5 5h-7zm0-11l3.5 5h-7zm1 12l3.5 5h-7zm0 1l3.5 5h-7zm1-3l3.5 5h-7zm0 8l3.5 5h-7zm1-9l3.5 5h-7zm0 5l3.5 5h-7zm0 2l3.5 5h-7zm1-2l3.5 5h-7zm0-3l3.5 5h-7zm1 9l3.5 5h-7zm0-4l3.5 5h-7zm0-2l3.5 5h-7zm1 0l3.5 5h-7zm0 2l3.5 5h-7zm1 12l3.5 5h-7zm0-11l3.5 5h-7zm0-1l3.5 5h-7zm1-3l3.5 5h-7zm0-1l3.5 5h-7zm1-3l3.5 5h-7zm0 12l3.5 5h-7zm1-1l3.5 5h-7zm0-5l3.5 5h-7zm0-1l3.5 5h-7zm1 6l3.5 5h-7zm0-1l3.5 5h-7zm1-3l3.5 5h-7zm0 9l3.5 5h-7zm0-1l3.5 5h-7zm1 0l3.5 5h-7zm0 4l3.5 5h-7zm1-6l3.5 5h-7zm0 10l3.5 5h-7zm0-11l3.5 5h-7zm1 8l3.5 5h-7zm0 1l3.5 5h-7zm1-4l3.5 5h-7zm0 4l3.5 5h-7zm1-8l3.5 5h-7zm0-1l3.5 5h-7zm0 7l3.5 5h-7zm1-2l3.5 5h-7zm0 7l3.5 5h-7zm1-2l3.5 5h-7zm0 3l3.5 5h-7zm0-1l3.5 5h-7zm1 0l3.5 5h-7zm1-2l3.5 5h-7zm0 13l3.5 5h-7zm1-19l3.5 5h-7zm0 8l3.5 5h-7zm1 7l3.5 5h-7zm0-3l3.5 5h-7zm1 6l3.5 5h-7zm0-4l3.5 5h-7zm0-9l3.5 5h-7zm1 5l3.5 5h-7zm0-5l3.5 5h-7zm1 13l3.5 5h-7zm0 2l3.5 5h-7zm0-9l3.5 5h-7zm1 6l3.5 5h-7zm0-5l3.5 5h-7zm1-5l3.5 5h-7zm0 6l3.5 5h-7zm1 0l3.5 5h-7zm0 4l3.5 5h-7zm1 3l3.5 5h-7zm0 3l3.5 5h-7zm1-8l3.5 5h-7zm0 4l3.5 5h-7zm0 1l3.5 5h-7zm1 1l3.5 5h-7zm0-17l3.5 5h-7zm1 11l3.5 5h-7zm0 8l3.5 5h-7zm0-9l3.5 5h-7zm1 7l3.5 5h-7zm0 4l3.5 5h-7zm1-14l3.5 5h-7zm0 9l3.5 5h-7zm0 3l3.5 5h-7zm1-1l3.5 5h-7zm0-8l3.5 5h-7zm1 10l3.5 5h-7zm0-4l3.5 5h-7zm1 7l3.5 5h-7zm0-1l3.5 5h-7zm0-5l3.5 5h-7zm1 4l3.5 5h-7zm0-4l3.5 5h-7zm1 0l3.5 5h-7zm0-4l3.5 5h-7zm0 7l3.5 5h-7zm1 6l3.5 5h-7zm0-3l3.5 5h-7zm1-1l3.5 5h-7zm0-2l3.5 5h-7zm1 7l3.5 5h-7zm0-11l3.5 5h-7zm1 18l3.5 5h-7zm0-10l3.5 5h-7zm1 12l3.5 5h-7zm0-5l3.5 5h-7zm0-8l3.5 5h-7zm1 6l3.5 5h-7zm0-2l3.5 5h-7zm1 2l3.5 5h-7zm0 2l3.5 5h-7zm0-7l3.5 5h-7zm1 0l3.5 5h-7zm0 1l3.5 5h-7zm1-4l3.5 5h-7zm0 6l3.5 5h-7zm0 3l3.5 5h-7zm1 0l3.5 5h-7zm1-3l3.5 5h-7zm0 7l3.5 5h-7zm1-15l3.5 5h-7zm0 9l3.5 5h-7zm0 1l3.5 5h-7zm1 6l3.5 5h-7zm0-1l3.5 5h-7zm1 1l3.5 5h-7zm0-3l3.5 5h-7zm0 5l3.5 5h-7zm1-10l3.5 5h-7zm0 6l3.5 5h-7zm1-11l3.5 5h-7zm0 20l3.5 5h-7zm0-1l3.5 5h-7zm1-11l3.5 5h-7zm0-1l3.5 5h-7zm1-6l3.5 5h-7zm0 4l3.5 5h-7zm1 8l3.5 5h-7zm0-1l3.5 5h-7zm0-6l3.5 5h-7zm1 5l3.5 5h-7zm0-1l3.5 5h-7zm1 6l3.5 5h-7zm0 2l3.5 5h-7zm0-5l3.5 5h-7zm1 2l3.5 5h-7zm1-10l3.5 5h-7zm0 12l3.5 5h-7zm1-1l3.5 5h-7zm0 4l3.5 5h-7zm0-13l3.5 5h-7zm1 14l3.5 5h-7zm0-7l3.5 5h-7zm1 5l3.5 5h-7zm0 5l3.5 5h-7zm0-14l3.5 5h-7zm1 1l3.5 5h-7zm0 12l3.5 5h-7zm1-10l3.5 5h-7zm0 1l3.5 5h-7zm0 8l3.5 5h-7zm1-4l3.5 5h-7zm0 5l3.5 5h-7zm1-2l3.5 5h-7zm0-1l3.5 5h-7zm1 5l3.5 5h-7zm0 7l3.5 5h-7zm0-12l3.5 5h-7zm1 8l3.5 5h-7zm0-1l3.5 5h-7zm1-5l3.5 5h-7zm0 2l3.5 5h-7zm0-7l3.5 5h-7zm1 2l3.5 5h-7zm0 5l3.5 5h-7zm1-2l3.5 5h-7zm0 8l3.5 5h-7zm0-14l3.5 5h-7zm1 6l3.5 5h-7zm0-2l3.5 5h-7zm1 3l3.5 5h-7zm0 7l3.5 5h-7zm1-12l3.5 5h-7zm0 11l3.5 5h-7zm0-7l3.5 5h-7zm1 1l3.5 5h-7zm0 7l3.5 5h-7zm1-6l3.5 5h-7zm0 5l3.5 5h-7zm0-3l3.5 5h-7zm1-1l3.5 5h-7zm0-1l3.5 5h-7zm1-6l3.5 5h-7zm0 5l3.5 5h-7zm0 5l3.5 5h-7zm1 0l3.5 5h-7zm0-8l3.5 5h-7zm1 13l3.5 5h-7zm0-2l3.5 5h-7zm1-10l3.5 5h-7zm0 2l3.5 5h-7zm0 8l3.5 5h-7zm1-12l3.5 5h-7zm0 6l3.5 5h-7zm1 4l3.5 5h-7zm0-1l3.5 5h-7zm1 3l3.5 5h-7zm0-6l3.5 5h-7zm1 2l3.5 5h-7zm0 13l3.5 5h-7zm0-17l3.5 5h-7zm1 5l3.5 5h-7zm0 3l3.5 5h-7zm1-4l3.5 5h-7zm0 10l3.5 5h-7zm1-6l3.5 5h-7zm0 4l3.5 5h-7zm0-17l3.5 5h-7zm1 19l3.5 5h-7zm1-10l3.5 5h-7zm0 11l3.5 5h-7zm0-5l3.5 5h-7zm1 3l3.5 5h-7zm0 5l3.5 5h-7zm1-9l3.5 5h-7zm0-5l3.5 5h-7zm1-1l3.5 5h-7zm0 2l3.5 5h-7zm1 1l3.5 5h-7zm1 10l3.5 5h-7zm0-2l3.5 5h-7zm0-9l3.5 5h-7zm1 11l3.5 5h-7zm0-15l3.5 5h-7zm1 6l3.5 5h-7zm0 3l3.5 5h-7zm0 7l3.5 5h-7zm1-3l3.5 5h-7zm0-1l3.5 5h-7zm1 4l3.5 5h-7zm0-3l3.5 5h-7zm0 4l3.5 5h-7zm1-11l3.5 5h-7zm0-5l3.5 5h-7zm1 7l3.5 5h-7zm0 6l3.5 5h-7zm1-2l3.5 5h-7zm0 3l3.5 5h-7zm0-1l3.5 5h-7zm1-1l3.5 5h-7zm0 2l3.5 5h-7zm1-8l3.5 5h-7zm0 9l3.5 5h-7zm0-10l3.5 5h-7zm1 4l3.5 5h-7zm0-6l3.5 5h-7zm1 10l3.5 5h-7zm0-11l3.5 5h-7zm0 15l3.5 5h-7zm1-14l3.5 5h-7zm0 9l3.5 5h-7zm1-2l3.5 5h-7zm0-4l3.5 5h-7zm1 11l3.5 5h-7zm0-9l3.5 5h-7zm0 10l3.5 5h-7zm1-13l3.5 5h-7zm0 1l3.5 5h-7zm1-6l3.5 5h-7zm0 14l3.5 5h-7zm0 2l3.5 5h-7zm1-4l3.5 5h-7zm0-2l3.5 5h-7zm1-4l3.5 5h-7zm0 17l3.5 5h-7zm0-8l3.5 5h-7zm1-13l3.5 5h-7zm0 8l3.5 5h-7zm1-12l3.5 5h-7zm0 22l3.5 5h-7zm1 2l3.5 5h-7zm0-3l3.5 5h-7zm0-8l3.5 5h-7zm1-3l3.5 5h-7zm0-4l3.5 5h-7zm1 10l3.5 5h-7zm0-6l3.5 5h-7zm0 2l3.5 5h-7zm1-2l3.5 5h-7zm0 2l3.5 5h-7zm1 6l3.5 5h-7zm0 5l3.5 5h-7zm0-8l3.5 5h-7zm1-1l3.5 5h-7zm0-6l3.5 5h-7zm1 0l3.5 5h-7zm1 11l3.5 5h-7zm0-4l3.5 5h-7zm1 1l3.5 5h-7zm0-4l3.5 5h-7zm1-4l3.5 5h-7zm0 4l3.5 5h-7zm0-5l3.5 5h-7zm1 18l3.5 5h-7zm0-9l3.5 5h-7zm1-4l3.5 5h-7zm0 13l3.5 5h-7zm1-8l3.5 5h-7zm0-3l3.5 5h-7zm1 2l3.5 5h-7zm0-3l3.5 5h-7zm1 4l3.5 5h-7zm0 5l3.5 5h-7zm0-14l3.5 5h-7zm1-5l3.5 5h-7zm0 19l3.5 5h-7zm1-6l3.5 5h-7zm0 3l3.5 5h-7zm0-6l3.5 5h-7zm1 10l3.5 5h-7zm0 2l3.5 5h-7zm1-16l3.5 5h-7zm0 10l3.5 5h-7zm0-7l3.5 5h-7zm1-5l3.5 5h-7zm0 7l3.5 5h-7zm1 4l3.5 5h-7zm0-10l3.5 5h-7zm1 0l3.5 5h-7zm0 14l3.5 5h-7zm0-6l3.5 5h-7zm1 2l3.5 5h-7zm0-9l3.5 5h-7zm1 3l3.5 5h-7zm0 4l3.5 5h-7zm0 1l3.5 5h-7zm1 0l3.5 5h-7zm0 7l3.5 5h-7zm1-7l3.5 5h-7zm0-9l3.5 5h-7zm0 3l3.5 5h-7zm1 5l3.5 5h-7zm0 7l3.5 5h-7zm1-10l3.5 5h-7zm0 1l3.5 5h-7zm1 2l3.5 5h-7zm0-3l3.5 5h-7zm0-1l3.5 5h-7zm1 4l3.5 5h-7zm0 6l3.5 5h-7zm1-2l3.5 5h-7zm0-4l3.5 5h-7zm0 3l3.5 5h-7zm1-9l3.5 5h-7zm0 13l3.5 5h-7zm1-2l3.5 5h-7zm0-2l3.5 5h-7zm0-10l3.5 5h-7zm1 20l3.5 5h-7zm0-27l3.5 5h-7zm1 11l3.5 5h-7zm1 9l3.5 5h-7zm0-12l3.5 5h-7zm0 10l3.5 5h-7zm1-2l3.5 5h-7zm0-1l3.5 5h-7zm1 6l3.5 5h-7zm0 3l3.5 5h-7zm0-5l3.5 5h-7zm1-3l3.5 5h-7zm0-11l3.5 5h-7zm1 20l3.5 5h-7zm0-9l3.5 5h-7zm0-8l3.5 5h-7zm1 10l3.5 5h-7zm0 7l3.5 5h-7zm1-8l3.5 5h-7zm0-6l3.5 5h-7zm1 19l3.5 5h-7zm0-9l3.5 5h-7zm0-1l3.5 5h-7zm1 3l3.5 5h-7zm0-17l3.5 5h-7zm1 12l3.5 5h-7zm0-1l3.5 5h-7zm0 13l3.5 5h-7zm1-15l3.5 5h-7zm1-4l3.5 5h-7zm0 3l3.5 5h-7zm1 3l3.5 5h-7zm0 2l3.5 5h-7zm1 10l3.5 5h-7zm0-8l3.5 5h-7zm1 0l3.5 5h-7zm0 4l3.5 5h-7zm1-10l3.5 5h-7zm0-5l3.5 5h-7zm1 10l3.5 5h-7zm0-7l3.5 5h-7zm0 12l3.5 5h-7zm1-11l3.5 5h-7zm0-8l3.5 5h-7zm1 12l3.5 5h-7zm0 5l3.5 5h-7zm1-6l3.5 5h-7zm0 2l3.5 5h-7zm0-1l3.5 5h-7zm1 9l3.5 5h-7zm0-8l3.5 5h-7zm1-2l3.5 5h-7zm0-3l3.5 5h-7zm0-5l3.5 5h-7zm1 16l3.5 5h-7zm0-1l3.5 5h-7zm1-12l3.5 5h-7zm0 9l3.5 5h-7zm0-2l3.5 5h-7zm1-4l3.5 5h-7zm1 6l3.5 5h-7zm0-11l3.5 5h-7zm1 4l3.5 5h-7zm0 2l3.5 5h-7zm0 1l3.5 5h-7zm1-1l3.5 5h-7zm0 2l3.5 5h-7zm1 2l3.5 5h-7zm0-8l3.5 5h-7zm0 5l3.5 5h-7zm1-3l3.5 5h-7zm0 11l3.5 5h-7zm1-16l3.5 5h-7zm0 6l3.5 5h-7zm0 5l3.5 5h-7zm1-5l3.5 5h-7zm0-1l3.5 5h-7zm1-1l3.5 5h-7zm0 5l3.5 5h-7zm1-8l3.5 5h-7zm0 5l3.5 5h-7zm1-7l3.5 5h-7zm0 9l3.5 5h-7zm1-4l3.5 5h-7zm0 4l3.5 5h-7zm0 3l3.5 5h-7zm1-3l3.5 5h-7zm0-8l3.5 5h-7zm1 8l3.5 5h-7zm0-10l3.5 5h-7zm0 4l3.5 5h-7zm1 13l3.5 5h-7zm0-9l3.5 5h-7zm1 8l3.5 5h-7zm0-9l3.5 5h-7zm1 1l3.5 5h-7zm0-6l3.5 5h-7zm0 11l3.5 5h-7zm1-7l3.5 5h-7zm0 5l3.5 5h-7zm1-1l3.5 5h-7zm0-1l3.5 5h-7zm1-2l3.5 5h-7zm1-4l3.5 5h-7zm0-8l3.5 5h-7zm0 14l3.5 5h-7zm1 9l3.5 5h-7zm0-6l3.5 5h-7zm1 7l3.5 5h-7zm0-10l3.5 5h-7zm1-8l3.5 5h-7zm0 9l3.5 5h-7zm1-3l3.5 5h-7zm0-2l3.5 5h-7zm1 4l3.5 5h-7zm0-9l3.5 5h-7zm0 8l3.5 5h-7zm1-5l3.5 5h-7zm0 3l3.5 5h-7zm1 5l3.5 5h-7zm0-7l3.5 5h-7zm0 8l3.5 5h-7zm1-1l3.5 5h-7zm0-11l3.5 5h-7zm1 17l3.5 5h-7zm0-20l3.5 5h-7zm1 6l3.5 5h-7zm0 5l3.5 5h-7zm0-17l3.5 5h-7zm1 18l3.5 5h-7zm1-7l3.5 5h-7zm0 2l3.5 5h-7zm1-3l3.5 5h-7zm0 7l3.5 5h-7zm1-8l3.5 5h-7zm0 2l3.5 5h-7zm0 2l3.5 5h-7zm1 3l3.5 5h-7zm0 1l3.5 5h-7zm1-14l3.5 5h-7zm0-4l3.5 5h-7zm1 11l3.5 5h-7zm0-6l3.5 5h-7zm1 8l3.5 5h-7zm0 1l3.5 5h-7zm1-1l3.5 5h-7zm0 6l3.5 5h-7zm0-14l3.5 5h-7zm1 5l3.5 5h-7zm0 10l3.5 5h-7zm1-7l3.5 5h-7zm0-10l3.5 5h-7zm0 7l3.5 5h-7zm1 6l3.5 5h-7zm0 4l3.5 5h-7zm1-8l3.5 5h-7zm0 3l3.5 5h-7zm1-13l3.5 5h-7zm0 5l3.5 5h-7zm0 8l3.5 5h-7zm1-12l3.5 5h-7zm0 5l3.5 5h-7zm1-11l3.5 5h-7zm0 19l3.5 5h-7zm0-9l3.5 5h-7zm1 3l3.5 5h-7zm0-11l3.5 5h-7zm1 1l3.5 5h-7zm0 17l3.5 5h-7zm0-12l3.5 5h-7zm1-2l3.5 5h-7zm0 6l3.5 5h-7zm1 0l3.5 5h-7zm0-14l3.5 5h-7zm1 5l3.5 5h-7zm0 6l3.5 5h-7zm0-1l3.5 5h-7zm1 2l3.5 5h-7zm0-4l3.5 5h-7zm1 0l3.5 5h-7zm0 3l3.5 5h-7zm0-5l3.5 5h-7zm1-1l3.5 5h-7zm0 1l3.5 5h-7zm1 3l3.5 5h-7zm0-1l3.5 5h-7zm0-2l3.5 5h-7zm1 1l3.5 5h-7zm0 1l3.5 5h-7zm1 2l3.5 5h-7zm1-9l3.5 5h-7zm0 12l3.5 5h-7zm0-14l3.5 5h-7zm1 12l3.5 5h-7zm0-7l3.5 5h-7zm1 7l3.5 5h-7zm0 2l3.5 5h-7zm0-16l3.5 5h-7zm1 13l3.5 5h-7zm0-2l3.5 5h-7zm1-4l3.5 5h-7zm0 5l3.5 5h-7zm1-2l3.5 5h-7zm0-6l3.5 5h-7zm1 10l3.5 5h-7zm0-2l3.5 5h-7zm1 1l3.5 5h-7zm0-8l3.5 5h-7zm0 14l3.5 5h-7zm1 0l3.5 5h-7zm0-11l3.5 5h-7zm1-2l3.5 5h-7zm0 6l3.5 5h-7zm1 2l3.5 5h-7zm0-10l3.5 5h-7zm1-7l3.5 5h-7zm0 13l3.5 5h-7zm0-3l3.5 5h-7zm1 1l3.5 5h-7zm0 2l3.5 5h-7zm1-9l3.5 5h-7zm0 6l3.5 5h-7zm1-2l3.5 5h-7zm0 4l3.5 5h-7zm0 4l3.5 5h-7zm1-6l3.5 5h-7zm0-5l3.5 5h-7zm1 11l3.5 5h-7zm0-3l3.5 5h-7zm0-5l3.5 5h-7zm1-9l3.5 5h-7zm0 5l3.5 5h-7zm1 6l3.5 5h-7zm0 2l3.5 5h-7zm0-6l3.5 5h-7zm1 5l3.5 5h-7zm0-6l3.5 5h-7zm1 1l3.5 5h-7zm0 5l3.5 5h-7zm1-4l3.5 5h-7zm0 2l3.5 5h-7zm0 4l3.5 5h-7zm1 1l3.5 5h-7zm0-9l3.5 5h-7zm1 2l3.5 5h-7zm0-6l3.5 5h-7zm1 9l3.5 5h-7zm0-5l3.5 5h-7zm1-7l3.5 5h-7zm0 13l3.5 5h-7zm0-8l3.5 5h-7zm1 3l3.5 5h-7zm0 4l3.5 5h-7zm1 0l3.5 5h-7zm0-2l3.5 5h-7zm1-11l3.5 5h-7zm0 14l3.5 5h-7zm0-6l3.5 5h-7zm1-5l3.5 5h-7zm0-4l3.5 5h-7zm1 19l3.5 5h-7zm0-6l3.5 5h-7zm1 3l3.5 5h-7zm0-4l3.5 5h-7zm1-8l3.5 5h-7zm0 12l3.5 5h-7zm1 2l3.5 5h-7zm0-3l3.5 5h-7zm0 6l3.5 5h-7zm1 2l3.5 5h-7zm0-14l3.5 5h-7zm1 2l3.5 5h-7zm0 7l3.5 5h-7zm0-4l3.5 5h-7zm1 0l3.5 5h-7zm0 4l3.5 5h-7zm1-1l3.5 5h-7zm0-6l3.5 5h-7zm0 3l3.5 5h-7zm1-4l3.5 5h-7zm0 3l3.5 5h-7zm1-5l3.5 5h-7zm0-5l3.5 5h-7zm1 8l3.5 5h-7zm0 8l3.5 5h-7zm1 4l3.5 5h-7zm0-8l3.5 5h-7zm1 2l3.5 5h-7zm0-6l3.5 5h-7zm0-1l3.5 5h-7zm1 3l3.5 5h-7zm1 4l3.5 5h-7zm0-1l3.5 5h-7zm0 8l3.5 5h-7zm1-10l3.5 5h-7zm0-8l3.5 5h-7zm1 10l3.5 5h-7zm0-4l3.5 5h-7zm1 5l3.5 5h-7zm0 5l3.5 5h-7zm0-10l3.5 5h-7zm1 4l3.5 5h-7zm0 3l3.5 5h-7zm1-8l3.5 5h-7zm0 7l3.5 5h-7zm0 2l3.5 5h-7zm1 1l3.5 5h-7zm0 2l3.5 5h-7zm1-3l3.5 5h-7zm0-1l3.5 5h-7zm0-9l3.5 5h-7zm1-7l3.5 5h-7zm0 9l3.5 5h-7zm1 14l3.5 5h-7zm0-7l3.5 5h-7zm1-13l3.5 5h-7zm0 10l3.5 5h-7zm0 4l3.5 5h-7zm1-11l3.5 5h-7zm0 13l3.5 5h-7zm1-9l3.5 5h-7zm0 12l3.5 5h-7zm0-5l3.5 5h-7zm1 17l3.5 5h-7zm0-25l3.5 5h-7zm1 10l3.5 5h-7zm0-10l3.5 5h-7zm0 15l3.5 5h-7zm1-6l3.5 5h-7zm0 5l3.5 5h-7zm1-5l3.5 5h-7zm0-6l3.5 5h-7zm1 3l3.5 5h-7zm0-3l3.5 5h-7zm0 1l3.5 5h-7zm1 7l3.5 5h-7zm0 5l3.5 5h-7zm1-1l3.5 5h-7zm0-2l3.5 5h-7zm0-5l3.5 5h-7zm1 6l3.5 5h-7zm0-8l3.5 5h-7zm1 6l3.5 5h-7zm0 4l3.5 5h-7zm0-5l3.5 5h-7zm1-2l3.5 5h-7zm0 1l3.5 5h-7zm1 5l3.5 5h-7zm0-4l3.5 5h-7zm1-6l3.5 5h-7zm0 6l3.5 5h-7zm0-4l3.5 5h-7zm1 14l3.5 5h-7zm0-8l3.5 5h-7zm1-7l3.5 5h-7zm0 9l3.5 5h-7zm0 3l3.5 5h-7zm1-2l3.5 5h-7zm0-3l3.5 5h-7zm1 3l3.5 5h-7zm0 5l3.5 5h-7zm1-4l3.5 5h-7zm0 11l3.5 5h-7zm1-13l3.5 5h-7zm0 9l3.5 5h-7zm1-8l3.5 5h-7zm0-8l3.5 5h-7zm0 3l3.5 5h-7zm1-4l3.5 5h-7zm0 1l3.5 5h-7zm1 16l3.5 5h-7zm0-10l3.5 5h-7zm0 7l3.5 5h-7zm1-7l3.5 5h-7zm0 4l3.5 5h-7zm1-5l3.5 5h-7zm0 10l3.5 5h-7zm0-5l3.5 5h-7zm1-1l3.5 5h-7zm0 2l3.5 5h-7zm1 12l3.5 5h-7zm0-9l3.5 5h-7zm1 2l3.5 5h-7zm0-10l3.5 5h-7zm0 3l3.5 5h-7zm1 5l3.5 5h-7zm0-11l3.5 5h-7zm1 17l3.5 5h-7zm0-5l3.5 5h-7zm0-2l3.5 5h-7zm1-1l3.5 5h-7zm1-1l3.5 5h-7zm0 10l3.5 5h-7zm0-3l3.5 5h-7zm1 3l3.5 5h-7zm0-8l3.5 5h-7zm1-3l3.5 5h-7zm0 12l3.5 5h-7zm1-14l3.5 5h-7zm0 4l3.5 5h-7zm0 7l3.5 5h-7zm1 2l3.5 5h-7zm0-13l3.5 5h-7zm1 6l3.5 5h-7zm0 2l3.5 5h-7zm0-1l3.5 5h-7zm1-4l3.5 5h-7zm0 8l3.5 5h-7zm1-6l3.5 5h-7zm0 2l3.5 5h-7zm0-11l3.5 5h-7zm1 12l3.5 5h-7zm0-10l3.5 5h-7zm1 14l3.5 5h-7zm0-1l3.5 5h-7zm1-5l3.5 5h-7zm0 3l3.5 5h-7zm1-1l3.5 5h-7zm0 3l3.5 5h-7zm1-3l3.5 5h-7zm0-1l3.5 5h-7zm0-2l3.5 5h-7zm1 13l3.5 5h-7zm0-8l3.5 5h-7zm1-1l3.5 5h-7zm0 4l3.5 5h-7zm0-5l3.5 5h-7zm1 0l3.5 5h-7zm0 5l3.5 5h-7zm1 2l3.5 5h-7zm0-2l3.5 5h-7zm1-10l3.5 5h-7zm0 7l3.5 5h-7zm1 3l3.5 5h-7zm0-7l3.5 5h-7zm1-1l3.5 5h-7zm0 5l3.5 5h-7zm0-4l3.5 5h-7zm1-1l3.5 5h-7zm0 6l3.5 5h-7zm1 5l3.5 5h-7zm0-4l3.5 5h-7zm0 5l3.5 5h-7zm1-11l3.5 5h-7zm0 9l3.5 5h-7zm1-4l3.5 5h-7zm0-4l3.5 5h-7zm1 3l3.5 5h-7zm0-3l3.5 5h-7zm0 4l3.5 5h-7zm1-3l3.5 5h-7zm0 10l3.5 5h-7zm1-8l3.5 5h-7zm0-5l3.5 5h-7zm0 6l3.5 5h-7zm1 3l3.5 5h-7zm0-3l3.5 5h-7zm1 6l3.5 5h-7zm0-9l3.5 5h-7zm1 13l3.5 5h-7zm0-8l3.5 5h-7zm1 3l3.5 5h-7zm1 0l3.5 5h-7zm0-2l3.5 5h-7zm0-1l3.5 5h-7zm1 6l3.5 5h-7zm0-7l3.5 5h-7zm1 3l3.5 5h-7zm0 3l3.5 5h-7zm0-5l3.5 5h-7zm1-5l3.5 5h-7zm0 10l3.5 5h-7zm1 3l3.5 5h-7zm0-3l3.5 5h-7zm0-9l3.5 5h-7zm1 12l3.5 5h-7zm0 7l3.5 5h-7zm1-17l3.5 5h-7zm0-5l3.5 5h-7zm1 13l3.5 5h-7zm0 2l3.5 5h-7zm0 4l3.5 5h-7zm1 1l3.5 5h-7zm0-3l3.5 5h-7zm1 3l3.5 5h-7zm0-1l3.5 5h-7zm1-1l3.5 5h-7zm1 5l3.5 5h-7zm0-1l3.5 5h-7zm0-3l3.5 5h-7zm1 7l3.5 5h-7zm0-8l3.5 5h-7zm1 3l3.5 5h-7zm0 2l3.5 5h-7zm1-9l3.5 5h-7zm0 8l3.5 5h-7zm0 6l3.5 5h-7zm1 0l3.5 5h-7zm0-8l3.5 5h-7zm1 2l3.5 5h-7zm0-1l3.5 5h-7zm0 5l3.5 5h-7zm1 1l3.5 5h-7zm0-7l3.5 5h-7zm1 10l3.5 5h-7zm0-1l3.5 5h-7zm1 0l3.5 5h-7zm0-3l3.5 5h-7zm1-4l3.5 5h-7zm0 10l3.5 5h-7zm1 0l3.5 5h-7zm0-1l3.5 5h-7zm0-5l3.5 5h-7zm1 12l3.5 5h-7zm1-14l3.5 5h-7zm0 11l3.5 5h-7zm0-1l3.5 5h-7zm1-12l3.5 5h-7zm0 15l3.5 5h-7zm1 1l3.5 5h-7zm1-2l3.5 5h-7zm0-3l3.5 5h-7zm0 1l3.5 5h-7zm1 5l3.5 5h-7zm0 3l3.5 5h-7zm1-7l3.5 5h-7zm0 1l3.5 5h-7zm0 5l3.5 5h-7zm1-13l3.5 5h-7zm0 12l3.5 5h-7zm1-3l3.5 5h-7zm0-8l3.5 5h-7zm0 13l3.5 5h-7zm1-7l3.5 5h-7zm0 8l3.5 5h-7zm1 3l3.5 5h-7zm0-12l3.5 5h-7zm1 1l3.5 5h-7zm0 5l3.5 5h-7zm0-7l3.5 5h-7zm1 11l3.5 5h-7zm0-2l3.5 5h-7zm1 4l3.5 5h-7zm0-13l3.5 5h-7zm0 10l3.5 5h-7zm1 1l3.5 5h-7zm0-10l3.5 5h-7zm1 12l3.5 5h-7zm0-9l3.5 5h-7zm0 7l3.5 5h-7zm1-7l3.5 5h-7zm0 10l3.5 5h-7zm1 4l3.5 5h-7zm0-7l3.5 5h-7zm1 0l3.5 5h-7zm0 6l3.5 5h-7zm0-8l3.5 5h-7zm1 3l3.5 5h-7zm0 3l3.5 5h-7zm1-1l3.5 5h-7zm0 5l3.5 5h-7zm0-1l3.5 5h-7zm1 3l3.5 5h-7zm0-8l3.5 5h-7zm1 5l3.5 5h-7zm0-8l3.5 5h-7zm1 11l3.5 5h-7zm0 3l3.5 5h-7zm1-15l3.5 5h-7zm0 5l3.5 5h-7zm1 4l3.5 5h-7zm0-7l3.5 5h-7zm0 6l3.5 5h-7zm1 0l3.5 5h-7zm0-4l3.5 5h-7zm1 0l3.5 5h-7zm0-1l3.5 5h-7zm0 5l3.5 5h-7zm1 5l3.5 5h-7zm0-5l3.5 5h-7zm1 12l3.5 5h-7zm0-19l3.5 5h-7zm0 4l3.5 5h-7zm1 6l3.5 5h-7zm0-8l3.5 5h-7zm1 7l3.5 5h-7zm0 2l3.5 5h-7zm1-3l3.5 5h-7zm0-1l3.5 5h-7zm0 5l3.5 5h-7zm1-2l3.5 5h-7zm0 1l3.5 5h-7zm1 0l3.5 5h-7zm0-5l3.5 5h-7zm0-2l3.5 5h-7zm1 3l3.5 5h-7zm0 3l3.5 5h-7zm1-2l3.5 5h-7zm0 5l3.5 5h-7zm0-2l3.5 5h-7zm1 3l3.5 5h-7zm0-4l3.5 5h-7zm1-3l3.5 5h-7zm0 7l3.5 5h-7zm1-2l3.5 5h-7zm0-5l3.5 5h-7zm0 2l3.5 5h-7zm1 14l3.5 5h-7zm0-27l3.5 5h-7zm1 20l3.5 5h-7zm0-5l3.5 5h-7zm1-1l3.5 5h-7zm0-1l3.5 5h-7zm1 13l3.5 5h-7zm0-12l3.5 5h-7zm0 1l3.5 5h-7zm1 5l3.5 5h-7zm0-2l3.5 5h-7zm1-2l3.5 5h-7zm0-1l3.5 5h-7zm1-4l3.5 5h-7zm0 11l3.5 5h-7zm0-9l3.5 5h-7zm1-6l3.5 5h-7zm0 15l3.5 5h-7zm1-1l3.5 5h-7zm0-2l3.5 5h-7zm0-3l3.5 5h-7zm1 7l3.5 5h-7zm0-9l3.5 5h-7zm1-5l3.5 5h-7zm0 10l3.5 5h-7zm0 3l3.5 5h-7zm1 0l3.5 5h-7zm0 6l3.5 5h-7zm1-5l3.5 5h-7zm0-4l3.5 5h-7zm1 0l3.5 5h-7zm0 5l3.5 5h-7zm0-4l3.5 5h-7zm1 0l3.5 5h-7zm0-7l3.5 5h-7zm1 6l3.5 5h-7zm0-4l3.5 5h-7zm0 7l3.5 5h-7zm1 0l3.5 5h-7zm0 2l3.5 5h-7zm1 5l3.5 5h-7zm0-8l3.5 5h-7zm0 7l3.5 5h-7zm1-11l3.5 5h-7zm0 6l3.5 5h-7zm1 3l3.5 5h-7zm0 5l3.5 5h-7zm1-13l3.5 5h-7zm0 4l3.5 5h-7zm0 2l3.5 5h-7zm1-1l3.5 5h-7zm0-4l3.5 5h-7zm1-2l3.5 5h-7zm0 2l3.5 5h-7zm0 5l3.5 5h-7zm1-5l3.5 5h-7zm0 13l3.5 5h-7zm1-2l3.5 5h-7zm0-13l3.5 5h-7zm0 6l3.5 5h-7zm1 8l3.5 5h-7zm1-1l3.5 5h-7zm0-10l3.5 5h-7zm1 4l3.5 5h-7zm0 7l3.5 5h-7zm0-4l3.5 5h-7zm1-2l3.5 5h-7zm0 4l3.5 5h-7zm1 2l3.5 5h-7zm0-3l3.5 5h-7zm1 4l3.5 5h-7zm0-6l3.5 5h-7zm1-2l3.5 5h-7zm0 7l3.5 5h-7zm1 0l3.5 5h-7zm0-5l3.5 5h-7zm1 6l3.5 5h-7zm0-8l3.5 5h-7zm1 10l3.5 5h-7zm0-3l3.5 5h-7zm0-3l3.5 5h-7zm1-2l3.5 5h-7zm0 3l3.5 5h-7zm1-3l3.5 5h-7zm0-1l3.5 5h-7zm0 10l3.5 5h-7zm1-2l3.5 5h-7zm0 3l3.5 5h-7zm1-11l3.5 5h-7zm0-2l3.5 5h-7zm1 11l3.5 5h-7zm1-10l3.5 5h-7zm0 12l3.5 5h-7zm1-6l3.5 5h-7zm0-3l3.5 5h-7zm0 5l3.5 5h-7zm1 2l3.5 5h-7zm0-3l3.5 5h-7zm1 1l3.5 5h-7zm0-3l3.5 5h-7zm0-2l3.5 5h-7zm1 4l3.5 5h-7zm0-5l3.5 5h-7zm1 9l3.5 5h-7zm0-5l3.5 5h-7zm0 8l3.5 5h-7zm1-11l3.5 5h-7zm0 12l3.5 5h-7zm1-9l3.5 5h-7zm1 5l3.5 5h-7zm0 2l3.5 5h-7zm0-3l3.5 5h-7zm1-1l3.5 5h-7zm0 9l3.5 5h-7zm1-6l3.5 5h-7zm0-6l3.5 5h-7zm0 3l3.5 5h-7zm1 8l3.5 5h-7zm0-5l3.5 5h-7zm1 2l3.5 5h-7zm0 5l3.5 5h-7zm0-10l3.5 5h-7zm1 3l3.5 5h-7zm0-3l3.5 5h-7zm1 2l3.5 5h-7zm0 2l3.5 5h-7zm1-7l3.5 5h-7zm0 6l3.5 5h-7zm1 4l3.5 5h-7zm0-6l3.5 5h-7zm1-3l3.5 5h-7zm0 7l3.5 5h-7zm0-6l3.5 5h-7zm1 5l3.5 5h-7zm0 2l3.5 5h-7zm1-6l3.5 5h-7zm0 3l3.5 5h-7zm1-3l3.5 5h-7zm0-7l3.5 5h-7zm0 5l3.5 5h-7zm1-2l3.5 5h-7zm0 8l3.5 5h-7zm1-4l3.5 5h-7zm0 4l3.5 5h-7zm1 4l3.5 5h-7zm0-5l3.5 5h-7zm1 0l3.5 5h-7zm0 4l3.5 5h-7zm0 4l3.5 5h-7zm1-7l3.5 5h-7zm0 2l3.5 5h-7zm1-2l3.5 5h-7zm0-2l3.5 5h-7zm1-3l3.5 5h-7zm0 6l3.5 5h-7zm0-1l3.5 5h-7zm1 0l3.5 5h-7zm0 9l3.5 5h-7zm1-9l3.5 5h-7zm0 3l3.5 5h-7zm1 3l3.5 5h-7zm0-5l3.5 5h-7zm1 8l3.5 5h-7zm0-8l3.5 5h-7zm0 4l3.5 5h-7zm1 1l3.5 5h-7zm0-4l3.5 5h-7zm1 4l3.5 5h-7zm0-3l3.5 5h-7zm1-3l3.5 5h-7zm0 4l3.5 5h-7zm1 6l3.5 5h-7zm0-9l3.5 5h-7zm1 4l3.5 5h-7zm0-5l3.5 5h-7zm0 4l3.5 5h-7zm1-5l3.5 5h-7zm0 2l3.5 5h-7zm1 3l3.5 5h-7zm0-3l3.5 5h-7zm0 2l3.5 5h-7zm1 5l3.5 5h-7zm0-5l3.5 5h-7zm1-2l3.5 5h-7zm0-1l3.5 5h-7zm1 2l3.5 5h-7zm0 6l3.5 5h-7zm0-4l3.5 5h-7zm1 0l3.5 5h-7zm0 3l3.5 5h-7zm1 1l3.5 5h-7zm0-4l3.5 5h-7zm1-2l3.5 5h-7zm0-3l3.5 5h-7zm1 4l3.5 5h-7zm0 1l3.5 5h-7zm0 4l3.5 5h-7zm1-1l3.5 5h-7zm0-4l3.5 5h-7zm1 6l3.5 5h-7zm0-8l3.5 5h-7zm1 1l3.5 5h-7zm1 3l3.5 5h-7zm0-2l3.5 5h-7zm1 0l3.5 5h-7zm0 8l3.5 5h-7zm0-10l3.5 5h-7zm1 2l3.5 5h-7zm0 3l3.5 5h-7zm1 2l3.5 5h-7zm0-2l3.5 5h-7zm1 0l3.5 5h-7zm1 4l3.5 5h-7zm0-6l3.5 5h-7zm1-5l3.5 5h-7zm0 9l3.5 5h-7zm0-5l3.5 5h-7zm1 4l3.5 5h-7zm0 5l3.5 5h-7zm1-4l3.5 5h-7zm0 6l3.5 5h-7zm0-12l3.5 5h-7zm1 7l3.5 5h-7zm1 2l3.5 5h-7zm0-6l3.5 5h-7zm0 4l3.5 5h-7zm1 0l3.5 5h-7zm1-5l3.5 5h-7zm0-2l3.5 5h-7zm1 8l3.5 5h-7zm0-1l3.5 5h-7zm1 2l3.5 5h-7zm0 2l3.5 5h-7zm1-8l3.5 5h-7zm0 7l3.5 5h-7zm0 2l3.5 5h-7zm1-1l3.5 5h-7zm0-2l3.5 5h-7zm1 1l3.5 5h-7zm0-8l3.5 5h-7zm0 4l3.5 5h-7zm1 5l3.5 5h-7zm0 2l3.5 5h-7zm1-4l3.5 5h-7zm0-3l3.5 5h-7zm1 2l3.5 5h-7zm0 3l3.5 5h-7zm0 4l3.5 5h-7zm1-4l3.5 5h-7zm0-4l3.5 5h-7zm1 4l3.5 5h-7zm0-1l3.5 5h-7zm0 7l3.5 5h-7zm1-6l3.5 5h-7zm0-2l3.5 5h-7zm1 0l3.5 5h-7zm0-4l3.5 5h-7zm1 2l3.5 5h-7zm0-1l3.5 5h-7zm1 4l3.5 5h-7zm1 3l3.5 5h-7zm0 2l3.5 5h-7zm0-5l3.5 5h-7zm1-1l3.5 5h-7zm0-6l3.5 5h-7zm1 8l3.5 5h-7zm0 1l3.5 5h-7zm0-5l3.5 5h-7zm1 2l3.5 5h-7zm0-1l3.5 5h-7zm1 6l3.5 5h-7zm0-2l3.5 5h-7zm0 3l3.5 5h-7zm1-9l3.5 5h-7zm0 14l3.5 5h-7zm1-12l3.5 5h-7zm0-1l3.5 5h-7zm1 4l3.5 5h-7zm0-2l3.5 5h-7zm0 8l3.5 5h-7zm1-7l3.5 5h-7zm0-1l3.5 5h-7zm1 6l3.5 5h-7zm0-7l3.5 5h-7zm1 2l3.5 5h-7zm1 1l3.5 5h-7zm0 6l3.5 5h-7zm0-1l3.5 5h-7zm1-1l3.5 5h-7zm0 1l3.5 5h-7zm1-4l3.5 5h-7zm0 3l3.5 5h-7zm1-3l3.5 5h-7zm0-2l3.5 5h-7zm0 8l3.5 5h-7zm1-12l3.5 5h-7zm0 6l3.5 5h-7zm1-1l3.5 5h-7zm0-4l3.5 5h-7zm1 6l3.5 5h-7zm0 1l3.5 5h-7zm1-4l3.5 5h-7zm0 6l3.5 5h-7zm0-2l3.5 5h-7zm1 2l3.5 5h-7zm0-9l3.5 5h-7zm1 5l3.5 5h-7zm0-1l3.5 5h-7zm1 4l3.5 5h-7zm0-4l3.5 5h-7zm0 1l3.5 5h-7zm1-2l3.5 5h-7zm1 1l3.5 5h-7zm0 6l3.5 5h-7zm1-11l3.5 5h-7zm0 9l3.5 5h-7zm1-2l3.5 5h-7zm0 3l3.5 5h-7zm1-2l3.5 5h-7zm0-1l3.5 5h-7zm1 0l3.5 5h-7zm0 2l3.5 5h-7zm1-3l3.5 5h-7zm0 4l3.5 5h-7zm0 4l3.5 5h-7zm1-7l3.5 5h-7zm1 0l3.5 5h-7zm0 5l3.5 5h-7zm1 3l3.5 5h-7zm0-3l3.5 5h-7zm1-2l3.5 5h-7zm0 2l3.5 5h-7zm0-6l3.5 5h-7zm1 6l3.5 5h-7zm0-1l3.5 5h-7zm1 6l3.5 5h-7zm0-2l3.5 5h-7zm1-7l3.5 5h-7zm0 1l3.5 5h-7zm0 5l3.5 5h-7zm1-10l3.5 5h-7zm0 4l3.5 5h-7zm1 4l3.5 5h-7zm0 1l3.5 5h-7zm1 2l3.5 5h-7zm0-4l3.5 5h-7zm1 1l3.5 5h-7zm0-1l3.5 5h-7zm0-3l3.5 5h-7zm1 4l3.5 5h-7zm0-2l3.5 5h-7zm1 2l3.5 5h-7zm0-8l3.5 5h-7zm1 9l3.5 5h-7zm0-2l3.5 5h-7zm1 2l3.5 5h-7zm0-2l3.5 5h-7zm1 5l3.5 5h-7zm0 1l3.5 5h-7zm1-1l3.5 5h-7zm0-2l3.5 5h-7zm1-1l3.5 5h-7zm0-4l3.5 5h-7zm1 3l3.5 5h-7zm0 6l3.5 5h-7zm0-2l3.5 5h-7zm1-4l3.5 5h-7zm0 2l3.5 5h-7zm1 3l3.5 5h-7zm0-3l3.5 5h-7zm0 6l3.5 5h-7zm1-8l3.5 5h-7zm0 5l3.5 5h-7zm1 0l3.5 5h-7zm0-2l3.5 5h-7zm0 1l3.5 5h-7zm1 1l3.5 5h-7zm0-10l3.5 5h-7zm1 9l3.5 5h-7zm0 3l3.5 5h-7zm1-3l3.5 5h-7zm0 3l3.5 5h-7zm0-8l3.5 5h-7zm1 4l3.5 5h-7zm0 2l3.5 5h-7zm1-2l3.5 5h-7zm0 5l3.5 5h-7zm0-3l3.5 5h-7zm1-3l3.5 5h-7zm0 5l3.5 5h-7zm1 0l3.5 5h-7zm0-4l3.5 5h-7zm0 3l3.5 5h-7zm1 0l3.5 5h-7zm1-6l3.5 5h-7zm0 9l3.5 5h-7zm1-2l3.5 5h-7zm0-2l3.5 5h-7zm0 1l3.5 5h-7zm1 0l3.5 5h-7zm0-2l3.5 5h-7zm1-1l3.5 5h-7zm0 2l3.5 5h-7zm1-1l3.5 5h-7zm0-2l3.5 5h-7zm1 3l3.5 5h-7zm0 4l3.5 5h-7zm0-3l3.5 5h-7zm1 0l3.5 5h-7zm0-1l3.5 5h-7zm1-1l3.5 5h-7zm0-3l3.5 5h-7zm1 10l3.5 5h-7zm0-7l3.5 5h-7zm0-3l3.5 5h-7zm1 7l3.5 5h-7zm0-1l3.5 5h-7zm1-2l3.5 5h-7zm0-3l3.5 5h-7zm1 10l3.5 5h-7zm0-6l3.5 5h-7zm1-1l3.5 5h-7zm0 8l3.5 5h-7zm1-9l3.5 5h-7zm0 5l3.5 5h-7zm1-1l3.5 5h-7zm0 4l3.5 5h-7zm1-10l3.5 5h-7zm0 6l3.5 5h-7zm1 1l3.5 5h-7zm0-3l3.5 5h-7zm1 0l3.5 5h-7zm0-1l3.5 5h-7zm0 6l3.5 5h-7zm1 2l3.5 5h-7zm0-5l3.5 5h-7zm1-1l3.5 5h-7zm0 3l3.5 5h-7zm1-5l3.5 5h-7zm0 15l3.5 5h-7zm1-12l3.5 5h-7zm0 6l3.5 5h-7zm1-5l3.5 5h-7zm0-5l3.5 5h-7zm1 3l3.5 5h-7zm1 1l3.5 5h-7zm0-3l3.5 5h-7zm0 11l3.5 5h-7zm1 0l3.5 5h-7zm0-12l3.5 5h-7zm1 7l3.5 5h-7zm0 2l3.5 5h-7zm0-5l3.5 5h-7zm1 1l3.5 5h-7zm0 4l3.5 5h-7zm1-2l3.5 5h-7zm0-5l3.5 5h-7zm1 8l3.5 5h-7zm0-6l3.5 5h-7zm0 8l3.5 5h-7zm1-9l3.5 5h-7zm0-4l3.5 5h-7zm1 7l3.5 5h-7zm0 4l3.5 5h-7zm0-2l3.5 5h-7zm1-1l3.5 5h-7zm0-3l3.5 5h-7zm1 5l3.5 5h-7zm0-8l3.5 5h-7zm1 2l3.5 5h-7zm0 2l3.5 5h-7zm1-2l3.5 5h-7zm0 1l3.5 5h-7zm1 8l3.5 5h-7zm0-9l3.5 5h-7zm0 5l3.5 5h-7zm1-3l3.5 5h-7zm0 5l3.5 5h-7zm1-7l3.5 5h-7zm0 4l3.5 5h-7zm0 3l3.5 5h-7zm1 4l3.5 5h-7zm0-10l3.5 5h-7zm1 1l3.5 5h-7zm0 2l3.5 5h-7zm0 5l3.5 5h-7zm1-7l3.5 5h-7zm0 5l3.5 5h-7zm1-4l3.5 5h-7zm0-1l3.5 5h-7zm1-2l3.5 5h-7zm0 5l3.5 5h-7zm0 3l3.5 5h-7zm1-3l3.5 5h-7zm0-6l3.5 5h-7zm1 5l3.5 5h-7zm0 4l3.5 5h-7zm1-2l3.5 5h-7zm0 4l3.5 5h-7zm1-8l3.5 5h-7zm0 11l3.5 5h-7zm1-5l3.5 5h-7zm0-3l3.5 5h-7zm1-1l3.5 5h-7zm0-6l3.5 5h-7zm1 11l3.5 5h-7zm0-9l3.5 5h-7zm1 6l3.5 5h-7zm0 5l3.5 5h-7zm1-6l3.5 5h-7zm0 3l3.5 5h-7zm1 0l3.5 5h-7zm0-6l3.5 5h-7zm1 11l3.5 5h-7zm0-9l3.5 5h-7zm0 5l3.5 5h-7zm1-8l3.5 5h-7zm0 11l3.5 5h-7zm1-4l3.5 5h-7zm0 5l3.5 5h-7zm1-8l3.5 5h-7zm0 6l3.5 5h-7zm0-4l3.5 5h-7zm1 0l3.5 5h-7zm0 5l3.5 5h-7zm1-7l3.5 5h-7zm0 5l3.5 5h-7zm0 4l3.5 5h-7zm1-1l3.5 5h-7zm0-2l3.5 5h-7zm1-2l3.5 5h-7zm0-4l3.5 5h-7zm0 7l3.5 5h-7zm1-6l3.5 5h-7zm0 6l3.5 5h-7zm1-5l3.5 5h-7zm0 1l3.5 5h-7zm1 0l3.5 5h-7zm0 2l3.5 5h-7zm0-3l3.5 5h-7zm1 2l3.5 5h-7zm0-2l3.5 5h-7zm1 3l3.5 5h-7zm1-4l3.5 5h-7zm0 4l3.5 5h-7zm1-1l3.5 5h-7zm0 2l3.5 5h-7zm1-5l3.5 5h-7zm0 6l3.5 5h-7zm1-5l3.5 5h-7zm0 3l3.5 5h-7zm1-7l3.5 5h-7zm0 8l3.5 5h-7zm0 1l3.5 5h-7zm1-5l3.5 5h-7zm0 5l3.5 5h-7zm1-3l3.5 5h-7zm0 5l3.5 5h-7zm0-2l3.5 5h-7zm1-6l3.5 5h-7zm0 4l3.5 5h-7zm1-5l3.5 5h-7zm0 4l3.5 5h-7zm0 3l3.5 5h-7zm1 1l3.5 5h-7zm0-3l3.5 5h-7zm1 0l3.5 5h-7zm0 1l3.5 5h-7zm1-2l3.5 5h-7zm0 3l3.5 5h-7zm0 2l3.5 5h-7zm1-3l3.5 5h-7zm0 3l3.5 5h-7zm1-5l3.5 5h-7zm0 1l3.5 5h-7zm0 2l3.5 5h-7zm1 5l3.5 5h-7zm0-3l3.5 5h-7zm1 2l3.5 5h-7zm0-4l3.5 5h-7zm0 3l3.5 5h-7zm1-8l3.5 5h-7zm0 6l3.5 5h-7zm1-7l3.5 5h-7zm0 9l3.5 5h-7zm1-2l3.5 5h-7zm0 2l3.5 5h-7zm1-4l3.5 5h-7zm0-1l3.5 5h-7zm1 3l3.5 5h-7zm0 4l3.5 5h-7zm0-3l3.5 5h-7zm1-3l3.5 5h-7zm1-1l3.5 5h-7zm0 2l3.5 5h-7zm1 0l3.5 5h-7zm0-1l3.5 5h-7zm0 2l3.5 5h-7zm1-5l3.5 5h-7zm0 9l3.5 5h-7zm1-3l3.5 5h-7zm0 3l3.5 5h-7zm1-4l3.5 5h-7zm1 1l3.5 5h-7zm0-3l3.5 5h-7zm0 1l3.5 5h-7zm1 7l3.5 5h-7zm0-3l3.5 5h-7zm1-4l3.5 5h-7zm0 3l3.5 5h-7zm1-4l3.5 5h-7zm0 7l3.5 5h-7zm1-2l3.5 5h-7zm0-2l3.5 5h-7zm1 0l3.5 5h-7zm0-2l3.5 5h-7zm0 1l3.5 5h-7zm1-1l3.5 5h-7zm1 3l3.5 5h-7zm0 6l3.5 5h-7zm0-8l3.5 5h-7zm1 4l3.5 5h-7zm0-3l3.5 5h-7zm1-2l3.5 5h-7zm0 6l3.5 5h-7zm1-2l3.5 5h-7zm0 2l3.5 5h-7zm0-3l3.5 5h-7zm1 0l3.5 5h-7zm0-3l3.5 5h-7zm1 2l3.5 5h-7zm0 6l3.5 5h-7zm0-12l3.5 5h-7zm1 8l3.5 5h-7zm0 3l3.5 5h-7zm1-2l3.5 5h-7zm0 1l3.5 5h-7zm0-4l3.5 5h-7zm1 4l3.5 5h-7zm1-3l3.5 5h-7zm0 5l3.5 5h-7zm1-6l3.5 5h-7zm0-6l3.5 5h-7zm0 7l3.5 5h-7zm1 0l3.5 5h-7zm0-2l3.5 5h-7zm1 1l3.5 5h-7zm0-4l3.5 5h-7zm1 9l3.5 5h-7zm0-3l3.5 5h-7zm1 7l3.5 5h-7zm0-7l3.5 5h-7zm0 1l3.5 5h-7zm1-5l3.5 5h-7zm0 7l3.5 5h-7zm1-6l3.5 5h-7zm0 5l3.5 5h-7zm1 1l3.5 5h-7zm0-1l3.5 5h-7zm0-4l3.5 5h-7zm1 0l3.5 5h-7zm0 4l3.5 5h-7zm1 2l3.5 5h-7zm0-4l3.5 5h-7zm1 0l3.5 5h-7zm0 6l3.5 5h-7zm1-7l3.5 5h-7zm0 4l3.5 5h-7zm0-3l3.5 5h-7zm1-3l3.5 5h-7zm0 1l3.5 5h-7zm1 4l3.5 5h-7zm0-1l3.5 5h-7zm1 1l3.5 5h-7zm0-2l3.5 5h-7zm0-1l3.5 5h-7zm1 3l3.5 5h-7zm0-2l3.5 5h-7zm1-4l3.5 5h-7zm0 4l3.5 5h-7zm0 6l3.5 5h-7zm1-7l3.5 5h-7zm0 4l3.5 5h-7zm1-2l3.5 5h-7zm0 2l3.5 5h-7zm0-4l3.5 5h-7zm1-1l3.5 5h-7zm0 5l3.5 5h-7zm1-4l3.5 5h-7zm0 2l3.5 5h-7zm1 0l3.5 5h-7zm0 3l3.5 5h-7zm0-2l3.5 5h-7zm1 0l3.5 5h-7zm0-3l3.5 5h-7zm1-2l3.5 5h-7zm0 2l3.5 5h-7zm0 5l3.5 5h-7zm1 0l3.5 5h-7zm0-1l3.5 5h-7zm1-2l3.5 5h-7zm0-2l3.5 5h-7zm0 6l3.5 5h-7zm1-3l3.5 5h-7zm0 1l3.5 5h-7zm1-4l3.5 5h-7zm0 1l3.5 5h-7zm1 4l3.5 5h-7zm0-5l3.5 5h-7zm1 4l3.5 5h-7zm0-4l3.5 5h-7zm1 7l3.5 5h-7zm0-2l3.5 5h-7zm0 5l3.5 5h-7zm1-2l3.5 5h-7zm0-6l3.5 5h-7zm1 2l3.5 5h-7zm0-2l3.5 5h-7zm1 4l3.5 5h-7zm0-2l3.5 5h-7zm1 0l3.5 5h-7zm0-4l3.5 5h-7zm1 5l3.5 5h-7zm0-1l3.5 5h-7zm0 2l3.5 5h-7zm1 1l3.5 5h-7zm0-3l3.5 5h-7zm1 2l3.5 5h-7zm0-4l3.5 5h-7zm0 5l3.5 5h-7zm1-3l3.5 5h-7zm0-2l3.5 5h-7zm1 1l3.5 5h-7zm0-3l3.5 5h-7zm0 2l3.5 5h-7zm1 1l3.5 5h-7zm0 1l3.5 5h-7zm1 0l3.5 5h-7zm0-2l3.5 5h-7zm1 2l3.5 5h-7zm0-6l3.5 5h-7zm0 7l3.5 5h-7zm1 1l3.5 5h-7zm0 1l3.5 5h-7zm1 0l3.5 5h-7zm0-3l3.5 5h-7zm1-1l3.5 5h-7zm1 2l3.5 5h-7zm0 3l3.5 5h-7zm0-8l3.5 5h-7zm1 3l3.5 5h-7zm0 2l3.5 5h-7zm1-3l3.5 5h-7zm0 4l3.5 5h-7zm1-5l3.5 5h-7zm0 3l3.5 5h-7zm0-4l3.5 5h-7zm1 6l3.5 5h-7zm0-3l3.5 5h-7zm1 4l3.5 5h-7zm0-3l3.5 5h-7zm0-2l3.5 5h-7zm1 2l3.5 5h-7zm0 1l3.5 5h-7zm1 0l3.5 5h-7zm0-1l3.5 5h-7zm1 1l3.5 5h-7zm0 3l3.5 5h-7zm1-4l3.5 5h-7zm0 2l3.5 5h-7zm1-4l3.5 5h-7zm0 6l3.5 5h-7zm0-2l3.5 5h-7zm1-2l3.5 5h-7zm0 1l3.5 5h-7zm1-4l3.5 5h-7zm0 5l3.5 5h-7zm0-1l3.5 5h-7zm1-3l3.5 5h-7zm0 2l3.5 5h-7zm1 3l3.5 5h-7zm0-1l3.5 5h-7zm1-2l3.5 5h-7zm0 4l3.5 5h-7zm1-2l3.5 5h-7zm0 2l3.5 5h-7zm1 4l3.5 5h-7zm0-12l3.5 5h-7zm0 4l3.5 5h-7zm1 2l3.5 5h-7zm0-2l3.5 5h-7zm1 5l3.5 5h-7zm0-4l3.5 5h-7zm0 6l3.5 5h-7zm1-3l3.5 5h-7zm0-1l3.5 5h-7zm1-1l3.5 5h-7zm0 2l3.5 5h-7zm1 2l3.5 5h-7zm0-3l3.5 5h-7zm1 2l3.5 5h-7zm0-2l3.5 5h-7zm1 0l3.5 5h-7zm0-5l3.5 5h-7zm0 4l3.5 5h-7zm1 2l3.5 5h-7zm0-5l3.5 5h-7zm1 0l3.5 5h-7zm0 3l3.5 5h-7zm0 1l3.5 5h-7zm1-5l3.5 5h-7zm0 6l3.5 5h-7zm1 1l3.5 5h-7zm0-3l3.5 5h-7zm0 1l3.5 5h-7zm1 1l3.5 5h-7zm0-3l3.5 5h-7zm1 4l3.5 5h-7zm0-1l3.5 5h-7zm1-5l3.5 5h-7zm0 5l3.5 5h-7zm0 1l3.5 5h-7zm1-5l3.5 5h-7zm0 5l3.5 5h-7zm1-3l3.5 5h-7zm0-3l3.5 5h-7zm0 1l3.5 5h-7zm1 1l3.5 5h-7zm0 4l3.5 5h-7zm1-3l3.5 5h-7zm1-2l3.5 5h-7zm0 3l3.5 5h-7zm1-2l3.5 5h-7zm0 4l3.5 5h-7zm1 0l3.5 5h-7zm0-3l3.5 5h-7zm0 1l3.5 5h-7zm1 2l3.5 5h-7zm0-2l3.5 5h-7zm1 4l3.5 5h-7zm0-4l3.5 5h-7zm1-3l3.5 5h-7zm0 3l3.5 5h-7zm1 4l3.5 5h-7zm1 0l3.5 5h-7zm0-5l3.5 5h-7zm1 3l3.5 5h-7zm0 2l3.5 5h-7zm1-2l3.5 5h-7zm0 1l3.5 5h-7zm0-5l3.5 5h-7zm1 0l3.5 5h-7zm0 9l3.5 5h-7zm1-4l3.5 5h-7zm0 2l3.5 5h-7zm1 2l3.5 5h-7zm0 2l3.5 5h-7zm1-14l3.5 5h-7zm0 7l3.5 5h-7zm1 2l3.5 5h-7zm0-8l3.5 5h-7zm1 5l3.5 5h-7zm0 6l3.5 5h-7zm1-3l3.5 5h-7zm0 4l3.5 5h-7zm0-6l3.5 5h-7zm1 3l3.5 5h-7zm0 1l3.5 5h-7zm1-3l3.5 5h-7zm0-1l3.5 5h-7zm1-10l3.5 5h-7zm0 11l3.5 5h-7zm1-6l3.5 5h-7zm0 3l3.5 5h-7zm1 4l3.5 5h-7zm0-1l3.5 5h-7zm0-7l3.5 5h-7zm1 7l3.5 5h-7zm0 1l3.5 5h-7zm1-1l3.5 5h-7zm0 1l3.5 5h-7zm1-7l3.5 5h-7zm0 5l3.5 5h-7zm1-1l3.5 5h-7zm0-2l3.5 5h-7zm0 3l3.5 5h-7zm1-2l3.5 5h-7zm0 2l3.5 5h-7zm1-2l3.5 5h-7zm0 5l3.5 5h-7zm1 4l3.5 5h-7zm0-8l3.5 5h-7zm0 2l3.5 5h-7zm1 0l3.5 5h-7zm0 1l3.5 5h-7zm1-2l3.5 5h-7zm0-6l3.5 5h-7zm0 8l3.5 5h-7zm1-2l3.5 5h-7zm0-2l3.5 5h-7zm1 2l3.5 5h-7zm0-1l3.5 5h-7zm0 2l3.5 5h-7zm1-1l3.5 5h-7zm1 1l3.5 5h-7zm0 1l3.5 5h-7zm1-1l3.5 5h-7zm0 3l3.5 5h-7zm0-2l3.5 5h-7zm1-3l3.5 5h-7zm0 7l3.5 5h-7zm1-5l3.5 5h-7zm0 5l3.5 5h-7zm0-8l3.5 5h-7zm1 5l3.5 5h-7zm0 3l3.5 5h-7zm1-1l3.5 5h-7zm0-3l3.5 5h-7zm0-2l3.5 5h-7zm1 0l3.5 5h-7zm0 1l3.5 5h-7zm1-2l3.5 5h-7zm1 0l3.5 5h-7zm0 3l3.5 5h-7zm1-5l3.5 5h-7zm0 5l3.5 5h-7zm1 2l3.5 5h-7zm0-5l3.5 5h-7zm1 3l3.5 5h-7zm1 2l3.5 5h-7zm0-8l3.5 5h-7zm0 6l3.5 5h-7zm1 4l3.5 5h-7zm0-4l3.5 5h-7zm1 5l3.5 5h-7zm0 1l3.5 5h-7zm1-8l3.5 5h-7zm0 6l3.5 5h-7zm0-3l3.5 5h-7zm1-1l3.5 5h-7zm0-1l3.5 5h-7zm1 1l3.5 5h-7zm0-2l3.5 5h-7zm1 5l3.5 5h-7zm0 1l3.5 5h-7zm1-5l3.5 5h-7zm0 3l3.5 5h-7zm1-8l3.5 5h-7zm0 8l3.5 5h-7zm1-5l3.5 5h-7zm1 6l3.5 5h-7zm0 2l3.5 5h-7zm0-8l3.5 5h-7zm1 1l3.5 5h-7zm1 1l3.5 5h-7zm0-1l3.5 5h-7zm1-2l3.5 5h-7zm0 9l3.5 5h-7zm1-6l3.5 5h-7zm0 4l3.5 5h-7zm1-3l3.5 5h-7zm0 4l3.5 5h-7zm1-1l3.5 5h-7zm1-3l3.5 5h-7zm0 3l3.5 5h-7zm0-6l3.5 5h-7zm1 0l3.5 5h-7zm0 4l3.5 5h-7zm1-1l3.5 5h-7zm0 5l3.5 5h-7zm1-9l3.5 5h-7zm0 5l3.5 5h-7zm1-1l3.5 5h-7zm0 2l3.5 5h-7zm0-4l3.5 5h-7zm1 1l3.5 5h-7zm0 2l3.5 5h-7zm1 2l3.5 5h-7zm0-1l3.5 5h-7zm1 1l3.5 5h-7zm0-6l3.5 5h-7zm0 4l3.5 5h-7zm1 1l3.5 5h-7zm0 2l3.5 5h-7zm1-2l3.5 5h-7zm0-1l3.5 5h-7zm1 0l3.5 5h-7zm0-4l3.5 5h-7zm1 4l3.5 5h-7zm0 3l3.5 5h-7zm0-1l3.5 5h-7zm1-7l3.5 5h-7zm0 5l3.5 5h-7zm1-4l3.5 5h-7zm0 7l3.5 5h-7zm1-1l3.5 5h-7zm0-3l3.5 5h-7zm1-4l3.5 5h-7zm0 3l3.5 5h-7zm1 2l3.5 5h-7zm0-4l3.5 5h-7zm0 2l3.5 5h-7zm1 7l3.5 5h-7zm0-8l3.5 5h-7zm1 5l3.5 5h-7zm0-6l3.5 5h-7zm0 5l3.5 5h-7zm1 2l3.5 5h-7zm0-1l3.5 5h-7zm1 2l3.5 5h-7zm0 2l3.5 5h-7zm1-9l3.5 5h-7zm0 5l3.5 5h-7zm1 0l3.5 5h-7zm0 3l3.5 5h-7zm1-3l3.5 5h-7zm0 2l3.5 5h-7zm1-3l3.5 5h-7zm0 2l3.5 5h-7zm1-4l3.5 5h-7zm0 3l3.5 5h-7zm1-1l3.5 5h-7zm0-1l3.5 5h-7zm1 4l3.5 5h-7zm0-3l3.5 5h-7zm1 6l3.5 5h-7zm0-2l3.5 5h-7zm0-2l3.5 5h-7zm1-3l3.5 5h-7zm0 4l3.5 5h-7zm1-2l3.5 5h-7zm0-4l3.5 5h-7zm1 5l3.5 5h-7zm0-1l3.5 5h-7zm1-2l3.5 5h-7zm0 1l3.5 5h-7zm1-3l3.5 5h-7zm0 2l3.5 5h-7zm1 5l3.5 5h-7zm0-5l3.5 5h-7zm1 8l3.5 5h-7zm0-10l3.5 5h-7zm0 7l3.5 5h-7zm1 0l3.5 5h-7zm1-2l3.5 5h-7zm0-6l3.5 5h-7zm0 8l3.5 5h-7zm1 0l3.5 5h-7zm0-3l3.5 5h-7zm1-7l3.5 5h-7zm0 10l3.5 5h-7zm1-6l3.5 5h-7zm0 2l3.5 5h-7zm0 4l3.5 5h-7zm1 0l3.5 5h-7zm0-2l3.5 5h-7zm1-3l3.5 5h-7zm0 6l3.5 5h-7zm0-1l3.5 5h-7zm1-4l3.5 5h-7zm0-2l3.5 5h-7zm1 4l3.5 5h-7zm0-5l3.5 5h-7zm0 9l3.5 5h-7zm1-4l3.5 5h-7zm0-2l3.5 5h-7zm1 2l3.5 5h-7zm0-6l3.5 5h-7zm1 5l3.5 5h-7zm0-2l3.5 5h-7zm0-3l3.5 5h-7zm1 3l3.5 5h-7zm0 3l3.5 5h-7zm1-5l3.5 5h-7zm0 3l3.5 5h-7zm1 1l3.5 5h-7zm0-5l3.5 5h-7zm1 7l3.5 5h-7zm1 3l3.5 5h-7zm0-5l3.5 5h-7zm1 0l3.5 5h-7zm0 2l3.5 5h-7zm1-3l3.5 5h-7zm0-4l3.5 5h-7zm0 2l3.5 5h-7zm1 0l3.5 5h-7zm0 3l3.5 5h-7zm1-2l3.5 5h-7zm0 1l3.5 5h-7zm0 2l3.5 5h-7zm1-1l3.5 5h-7zm0 5l3.5 5h-7zm1-5l3.5 5h-7zm0-3l3.5 5h-7zm0 6l3.5 5h-7zm1-4l3.5 5h-7zm0 1l3.5 5h-7zm1 3l3.5 5h-7zm0-3l3.5 5h-7zm1 2l3.5 5h-7zm0-4l3.5 5h-7zm0 1l3.5 5h-7zm1 3l3.5 5h-7zm0-3l3.5 5h-7zm1 0l3.5 5h-7zm0 1l3.5 5h-7zm0 4l3.5 5h-7zm1 0l3.5 5h-7zm0-3l3.5 5h-7zm1-1l3.5 5h-7zm0-2l3.5 5h-7zm0 6l3.5 5h-7zm1-3l3.5 5h-7zm0 2l3.5 5h-7zm1-7l3.5 5h-7zm0 6l3.5 5h-7zm1-1l3.5 5h-7zm0 1l3.5 5h-7zm0 1l3.5 5h-7zm1-3l3.5 5h-7zm0-1l3.5 5h-7zm1 3l3.5 5h-7zm0-5l3.5 5h-7zm0 7l3.5 5h-7zm1-3l3.5 5h-7zm0-4l3.5 5h-7zm1 7l3.5 5h-7zm0-1l3.5 5h-7zm0 2l3.5 5h-7zm1-2l3.5 5h-7zm0-1l3.5 5h-7zm1-2l3.5 5h-7zm0-2l3.5 5h-7zm1 5l3.5 5h-7zm0-1l3.5 5h-7zm0-3l3.5 5h-7zm1 3l3.5 5h-7zm0-4l3.5 5h-7zm1 5l3.5 5h-7zm0-2l3.5 5h-7zm1-2l3.5 5h-7zm0 4l3.5 5h-7zm1-2l3.5 5h-7zm0-2l3.5 5h-7zm0 3l3.5 5h-7zm1-2l3.5 5h-7zm0 3l3.5 5h-7zm1-7l3.5 5h-7zm0 1l3.5 5h-7zm1 9l3.5 5h-7zm0-7l3.5 5h-7zm0 3l3.5 5h-7zm1-3l3.5 5h-7zm0 2l3.5 5h-7zm1 7l3.5 5h-7zm0-13l3.5 5h-7zm0 7l3.5 5h-7zm1-1l3.5 5h-7zm1-3l3.5 5h-7zm0 6l3.5 5h-7zm1-2l3.5 5h-7zm0-5l3.5 5h-7zm1 4l3.5 5h-7zm0-4l3.5 5h-7zm1 11l3.5 5h-7zm0-6l3.5 5h-7zm0-6l3.5 5h-7zm1 7l3.5 5h-7zm0-1l3.5 5h-7zm1-1l3.5 5h-7zm0-2l3.5 5h-7zm1 1l3.5 5h-7zm0-5l3.5 5h-7zm1 9l3.5 5h-7zm0 2l3.5 5h-7zm0-4l3.5 5h-7zm1 0l3.5 5h-7zm0-5l3.5 5h-7zm1 2l3.5 5h-7zm0-2l3.5 5h-7zm1 0l3.5 5h-7zm0 5l3.5 5h-7zm0 2l3.5 5h-7zm1-4l3.5 5h-7zm0 7l3.5 5h-7zm1-4l3.5 5h-7zm0-9l3.5 5h-7zm0 5l3.5 5h-7zm1 5l3.5 5h-7zm0-3l3.5 5h-7zm1 2l3.5 5h-7zm0-7l3.5 5h-7zm0 8l3.5 5h-7zm1-7l3.5 5h-7zm0 5l3.5 5h-7zm1 4l3.5 5h-7zm0-5l3.5 5h-7zm1-1l3.5 5h-7zm0 3l3.5 5h-7zm0-5l3.5 5h-7zm1 0l3.5 5h-7zm0 5l3.5 5h-7zm1-6l3.5 5h-7zm0 8l3.5 5h-7zm1-8l3.5 5h-7zm0 5l3.5 5h-7zm1 2l3.5 5h-7zm0-4l3.5 5h-7zm0-2l3.5 5h-7zm1 5l3.5 5h-7zm0-5l3.5 5h-7zm1 8l3.5 5h-7zm0 1l3.5 5h-7zm1-9l3.5 5h-7zm0 4l3.5 5h-7zm0-3l3.5 5h-7zm1 3l3.5 5h-7zm0-2l3.5 5h-7zm1-2l3.5 5h-7zm0 4l3.5 5h-7zm0-6l3.5 5h-7zm1 6l3.5 5h-7zm0-2l3.5 5h-7zm1-1l3.5 5h-7zm0 4l3.5 5h-7zm0-2l3.5 5h-7zm1-1l3.5 5h-7zm1 0l3.5 5h-7zm0 3l3.5 5h-7zm1-3l3.5 5h-7zm0-7l3.5 5h-7zm0-1l3.5 5h-7zm1 6l3.5 5h-7zm0-1l3.5 5h-7zm1 3l3.5 5h-7zm0-3l3.5 5h-7zm0 1l3.5 5h-7zm1 6l3.5 5h-7zm0-7l3.5 5h-7zm1 6l3.5 5h-7zm0-3l3.5 5h-7zm0 4l3.5 5h-7zm1-1l3.5 5h-7zm0-2l3.5 5h-7zm1 3l3.5 5h-7zm0-3l3.5 5h-7zm1-3l3.5 5h-7zm0 4l3.5 5h-7zm1-2l3.5 5h-7zm0 2l3.5 5h-7zm1-2l3.5 5h-7zm0 2l3.5 5h-7zm1-5l3.5 5h-7zm0 3l3.5 5h-7zm1 5l3.5 5h-7zm0-2l3.5 5h-7zm1-2l3.5 5h-7zm0-1l3.5 5h-7zm1-2l3.5 5h-7zm0 3l3.5 5h-7zm1 3l3.5 5h-7zm0-1l3.5 5h-7zm1-4l3.5 5h-7zm0 2l3.5 5h-7zm1-2l3.5 5h-7zm0 4l3.5 5h-7zm1-4l3.5 5h-7zm0 2l3.5 5h-7zm1-6l3.5 5h-7zm0 8l3.5 5h-7zm0-4l3.5 5h-7zm1 1l3.5 5h-7zm0 3l3.5 5h-7zm1 0l3.5 5h-7zm0-4l3.5 5h-7zm1 6l3.5 5h-7zm0 1l3.5 5h-7zm1-2l3.5 5h-7zm0-3l3.5 5h-7zm1 4l3.5 5h-7zm0-6l3.5 5h-7zm0-1l3.5 5h-7zm1 3l3.5 5h-7zm0 1l3.5 5h-7zm1-3l3.5 5h-7zm0 7l3.5 5h-7zm1-9l3.5 5h-7zm0-2l3.5 5h-7zm0 5l3.5 5h-7zm1 5l3.5 5h-7zm0-2l3.5 5h-7zm1-1l3.5 5h-7zm0-1l3.5 5h-7zm1 1l3.5 5h-7zm0-1l3.5 5h-7zm1 0l3.5 5h-7zm0-4l3.5 5h-7zm0 7l3.5 5h-7zm1-4l3.5 5h-7zm0 2l3.5 5h-7zm1 0l3.5 5h-7zm0 2l3.5 5h-7zm1-5l3.5 5h-7zm0 4l3.5 5h-7zm1-2l3.5 5h-7zm1 0l3.5 5h-7zm0-3l3.5 5h-7zm0 2l3.5 5h-7zm1-2l3.5 5h-7zm0 6l3.5 5h-7zm1-5l3.5 5h-7zm0-1l3.5 5h-7zm0 3l3.5 5h-7zm1 1l3.5 5h-7zm0-2l3.5 5h-7zm1-2l3.5 5h-7zm0 4l3.5 5h-7zm1 1l3.5 5h-7zm0-6l3.5 5h-7zm1-1l3.5 5h-7zm0 7l3.5 5h-7zm1-3l3.5 5h-7zm0 3l3.5 5h-7zm1 2l3.5 5h-7zm0 2l3.5 5h-7zm1-2l3.5 5h-7zm0-2l3.5 5h-7zm0-6l3.5 5h-7zm1 3l3.5 5h-7zm0 1l3.5 5h-7zm1-2l3.5 5h-7zm0 4l3.5 5h-7zm1-3l3.5 5h-7zm0 6l3.5 5h-7zm0-5l3.5 5h-7zm1-3l3.5 5h-7zm0 2l3.5 5h-7zm1-1l3.5 5h-7zm0 4l3.5 5h-7zm0 2l3.5 5h-7zm1-1l3.5 5h-7zm1-5l3.5 5h-7zm0-1l3.5 5h-7zm1 3l3.5 5h-7zm0-1l3.5 5h-7zm1 2l3.5 5h-7zm0 2l3.5 5h-7zm1-3l3.5 5h-7zm0 5l3.5 5h-7zm0-7l3.5 5h-7zm1 4l3.5 5h-7zm0-2l3.5 5h-7zm1 3l3.5 5h-7zm0-3l3.5 5h-7zm0-1l3.5 5h-7zm1 1l3.5 5h-7zm0-2l3.5 5h-7zm1-1l3.5 5h-7zm0 5l3.5 5h-7zm0-3l3.5 5h-7zm1 4l3.5 5h-7zm0 4l3.5 5h-7zm1-8l3.5 5h-7zm0 4l3.5 5h-7zm1-3l3.5 5h-7zm0-5l3.5 5h-7zm1 9l3.5 5h-7zm0-7l3.5 5h-7zm1 3l3.5 5h-7zm0-4l3.5 5h-7zm1 5l3.5 5h-7zm0-1l3.5 5h-7zm1 2l3.5 5h-7zm0-2l3.5 5h-7zm0-4l3.5 5h-7zm1 5l3.5 5h-7zm0 1l3.5 5h-7zm1-2l3.5 5h-7zm0 2l3.5 5h-7zm1 0l3.5 5h-7zm0-8l3.5 5h-7zm1 1l3.5 5h-7zm0 2l3.5 5h-7zm1 3l3.5 5h-7zm0-2l3.5 5h-7zm1 5l3.5 5h-7zm0-6l3.5 5h-7zm1 6l3.5 5h-7zm0 2l3.5 5h-7zm0-1l3.5 5h-7zm1-7l3.5 5h-7zm0-1l3.5 5h-7zm1 4l3.5 5h-7zm0 6l3.5 5h-7zm1-6l3.5 5h-7zm0-1l3.5 5h-7zm1 3l3.5 5h-7zm0 1l3.5 5h-7zm1-3l3.5 5h-7zm0 2l3.5 5h-7zm1-2l3.5 5h-7zm0-1l3.5 5h-7zm1-4l3.5 5h-7zm0 6l3.5 5h-7zm0-2l3.5 5h-7zm1 1l3.5 5h-7zm0-1l3.5 5h-7zm1-1l3.5 5h-7zm0 4l3.5 5h-7zm1 1l3.5 5h-7zm0-1l3.5 5h-7zm0-3l3.5 5h-7zm1 2l3.5 5h-7zm0 1l3.5 5h-7zm1-2l3.5 5h-7zm0 2l3.5 5h-7zm0-5l3.5 5h-7zm1 3l3.5 5h-7zm0 4l3.5 5h-7zm1-1l3.5 5h-7zm0-3l3.5 5h-7zm0 1l3.5 5h-7zm1 5l3.5 5h-7zm0-3l3.5 5h-7zm1-4l3.5 5h-7zm0 2l3.5 5h-7zm1-2l3.5 5h-7zm0-2l3.5 5h-7zm1 5l3.5 5h-7zm0 4l3.5 5h-7zm1-3l3.5 5h-7zm0-6l3.5 5h-7zm0 5l3.5 5h-7zm1-5l3.5 5h-7zm0 4l3.5 5h-7zm1 2l3.5 5h-7zm0 1l3.5 5h-7zm0-3l3.5 5h-7zm1 0l3.5 5h-7zm1-1l3.5 5h-7zm0 5l3.5 5h-7zm1-7l3.5 5h-7zm0-2l3.5 5h-7zm0 9l3.5 5h-7zm1 2l3.5 5h-7zm0-11l3.5 5h-7zm1 7l3.5 5h-7zm0-4l3.5 5h-7zm1-1l3.5 5h-7zm0 3l3.5 5h-7zm1-1l3.5 5h-7zm0 3l3.5 5h-7zm0-4l3.5 5h-7zm1 5l3.5 5h-7zm0-5l3.5 5h-7zm1 6l3.5 5h-7zm0-2l3.5 5h-7zm1 1l3.5 5h-7zm0-4l3.5 5h-7zm1 0l3.5 5h-7zm0 4l3.5 5h-7zm1-5l3.5 5h-7zm0 1l3.5 5h-7zm1 2l3.5 5h-7zm0-2l3.5 5h-7zm1 1l3.5 5h-7zm0-4l3.5 5h-7zm0 2l3.5 5h-7zm1-1l3.5 5h-7zm0 6l3.5 5h-7zm1-3l3.5 5h-7zm0 2l3.5 5h-7zm1-6l3.5 5h-7zm0 4l3.5 5h-7zm0 1l3.5 5h-7zm1-4l3.5 5h-7zm0 1l3.5 5h-7zm1 0l3.5 5h-7zm0 2l3.5 5h-7zm0 1l3.5 5h-7zm1-5l3.5 5h-7zm0 5l3.5 5h-7zm1-1l3.5 5h-7zm0 1l3.5 5h-7zm0-4l3.5 5h-7zm1 3l3.5 5h-7zm0 3l3.5 5h-7zm1 0l3.5 5h-7zm0-5l3.5 5h-7zm1 6l3.5 5h-7zm0-5l3.5 5h-7zm0-2l3.5 5h-7zm1 6l3.5 5h-7zm0-2l3.5 5h-7zm1 5l3.5 5h-7zm0-7l3.5 5h-7zm0 1l3.5 5h-7zm1 2l3.5 5h-7zm0-1l3.5 5h-7zm1-2l3.5 5h-7zm0 1l3.5 5h-7zm1 0l3.5 5h-7zm1-4l3.5 5h-7zm0 6l3.5 5h-7zm1-4l3.5 5h-7zm0 1l3.5 5h-7zm1 0l3.5 5h-7zm0 3l3.5 5h-7zm1 1l3.5 5h-7zm0-2l3.5 5h-7zm0-1l3.5 5h-7zm1-2l3.5 5h-7zm0 1l3.5 5h-7zm1 2l3.5 5h-7zm0-2l3.5 5h-7zm1-2l3.5 5h-7zm0 3l3.5 5h-7zm1 5l3.5 5h-7zm0-4l3.5 5h-7zm1-3l3.5 5h-7zm0 3l3.5 5h-7zm1-2l3.5 5h-7zm0 5l3.5 5h-7zm1-1l3.5 5h-7zm0-6l3.5 5h-7zm1 2l3.5 5h-7zm0 7l3.5 5h-7zm1-6l3.5 5h-7zm0 1l3.5 5h-7zm1-2l3.5 5h-7zm0 5l3.5 5h-7zm0-1l3.5 5h-7zm1-8l3.5 5h-7zm0 3l3.5 5h-7zm1-3l3.5 5h-7zm0 2l3.5 5h-7zm0 1l3.5 5h-7zm1-2l3.5 5h-7zm0 2l3.5 5h-7zm1 4l3.5 5h-7zm0 1l3.5 5h-7zm0-3l3.5 5h-7zm1 2l3.5 5h-7zm0-6l3.5 5h-7zm1 8l3.5 5h-7zm0 2l3.5 5h-7zm1-6l3.5 5h-7zm0 2l3.5 5h-7zm0-1l3.5 5h-7zm1-7l3.5 5h-7zm0 9l3.5 5h-7zm1-2l3.5 5h-7zm0-5l3.5 5h-7zm0 3l3.5 5h-7zm1 4l3.5 5h-7zm0-1l3.5 5h-7zm1-6l3.5 5h-7zm0 2l3.5 5h-7zm1 2l3.5 5h-7zm0-2l3.5 5h-7zm1 2l3.5 5h-7zm1-4l3.5 5h-7zm0 5l3.5 5h-7zm1-3l3.5 5h-7zm0 4l3.5 5h-7zm1 4l3.5 5h-7zm0-10l3.5 5h-7zm0 5l3.5 5h-7zm1 1l3.5 5h-7zm0-2l3.5 5h-7zm1-2l3.5 5h-7zm0 8l3.5 5h-7zm0-7l3.5 5h-7zm1 1l3.5 5h-7zm0-2l3.5 5h-7zm1 5l3.5 5h-7zm0-9l3.5 5h-7zm1 4l3.5 5h-7zm0 1l3.5 5h-7zm0 2l3.5 5h-7zm1 0l3.5 5h-7zm0 2l3.5 5h-7zm1-3l3.5 5h-7zm0-2l3.5 5h-7zm1 0l3.5 5h-7zm0 1l3.5 5h-7zm1 0l3.5 5h-7zm0 2l3.5 5h-7zm0 1l3.5 5h-7zm1-5l3.5 5h-7zm0 1l3.5 5h-7zm1 2l3.5 5h-7zm1-1l3.5 5h-7zm0 3l3.5 5h-7zm1-7l3.5 5h-7zm0 8l3.5 5h-7zm1-6l3.5 5h-7zm0 7l3.5 5h-7zm0-3l3.5 5h-7zm1 0l3.5 5h-7zm0-5l3.5 5h-7zm1 5l3.5 5h-7zm0-2l3.5 5h-7zm0-1l3.5 5h-7zm1 3l3.5 5h-7zm0 1l3.5 5h-7zm1 1l3.5 5h-7zm0-6l3.5 5h-7zm1 1l3.5 5h-7zm0 6l3.5 5h-7zm0-3l3.5 5h-7zm1 1l3.5 5h-7zm0-3l3.5 5h-7zm1 2l3.5 5h-7zm0 1l3.5 5h-7zm0-5l3.5 5h-7zm1 1l3.5 5h-7zm0 3l3.5 5h-7zm1 3l3.5 5h-7zm0-5l3.5 5h-7zm0 3l3.5 5h-7zm1-4l3.5 5h-7zm0-1l3.5 5h-7zm1 5l3.5 5h-7zm0-5l3.5 5h-7zm1 3l3.5 5h-7zm0-1l3.5 5h-7zm0 2l3.5 5h-7zm1-4l3.5 5h-7zm0-1l3.5 5h-7zm1 0l3.5 5h-7zm0 4l3.5 5h-7zm0 3l3.5 5h-7zm1-1l3.5 5h-7zm0-1l3.5 5h-7zm1-1l3.5 5h-7zm0 3l3.5 5h-7zm1 0l3.5 5h-7zm0 1l3.5 5h-7zm1-2l3.5 5h-7zm0-1l3.5 5h-7zm1 0l3.5 5h-7zm0-1l3.5 5h-7zm1-2l3.5 5h-7zm1 6l3.5 5h-7zm0-4l3.5 5h-7zm0-4l3.5 5h-7zm1 8l3.5 5h-7zm1-3l3.5 5h-7zm0-4l3.5 5h-7zm0 8l3.5 5h-7zm1-2l3.5 5h-7zm1-4l3.5 5h-7zm0 2l3.5 5h-7zm1-2l3.5 5h-7zm0-2l3.5 5h-7zm1 1l3.5 5h-7zm0 1l3.5 5h-7zm1 1l3.5 5h-7zm0 3l3.5 5h-7zm0-2l3.5 5h-7zm1-6l3.5 5h-7zm0 8l3.5 5h-7zm1-7l3.5 5h-7zm0 5l3.5 5h-7zm0-2l3.5 5h-7zm1 1l3.5 5h-7zm0-1l3.5 5h-7zm1-2l3.5 5h-7zm0 7l3.5 5h-7zm1-10l3.5 5h-7zm0 4l3.5 5h-7zm0 5l3.5 5h-7zm1-3l3.5 5h-7zm1-2l3.5 5h-7zm0-1l3.5 5h-7zm0 5l3.5 5h-7zm1-2l3.5 5h-7zm0 1l3.5 5h-7zm1 1l3.5 5h-7zm0-7l3.5 5h-7zm0 2l3.5 5h-7zm1 1l3.5 5h-7zm0 3l3.5 5h-7zm1 1l3.5 5h-7zm0-5l3.5 5h-7zm1 2l3.5 5h-7zm0 1l3.5 5h-7zm1 4l3.5 5h-7zm0-6l3.5 5h-7zm1 2l3.5 5h-7zm0-6l3.5 5h-7zm1 6l3.5 5h-7zm0 2l3.5 5h-7zm1-3l3.5 5h-7zm0-1l3.5 5h-7zm0-1l3.5 5h-7zm1 2l3.5 5h-7zm0 7l3.5 5h-7zm1-11l3.5 5h-7zm1 5l3.5 5h-7zm0-3l3.5 5h-7zm0 6l3.5 5h-7zm1-7l3.5 5h-7zm0 8l3.5 5h-7zm1-5l3.5 5h-7zm0-3l3.5 5h-7zm0-2l3.5 5h-7zm1 4l3.5 5h-7zm1 3l3.5 5h-7zm0-4l3.5 5h-7zm0 11l3.5 5h-7zm1-6l3.5 5h-7zm0-3l3.5 5h-7zm1-1l3.5 5h-7zm0 9l3.5 5h-7zm1-9l3.5 5h-7zm0 4l3.5 5h-7zm0 2l3.5 5h-7zm1-6l3.5 5h-7zm0 4l3.5 5h-7zm1-3l3.5 5h-7zm0 5l3.5 5h-7zm1-3l3.5 5h-7zm0-1l3.5 5h-7zm1-3l3.5 5h-7zm0 9l3.5 5h-7zm0-2l3.5 5h-7zm1-2l3.5 5h-7zm0 2l3.5 5h-7zm1-4l3.5 5h-7zm0-3l3.5 5h-7zm1 5l3.5 5h-7zm0-5l3.5 5h-7zm0 2l3.5 5h-7zm1 3l3.5 5h-7zm0-6l3.5 5h-7zm1 4l3.5 5h-7zm0-1l3.5 5h-7zm0-2l3.5 5h-7zm1 0l3.5 5h-7zm0 2l3.5 5h-7zm1 0l3.5 5h-7zm0 1l3.5 5h-7zm1-4l3.5 5h-7zm0 4l3.5 5h-7zm0-3l3.5 5h-7zm1 1l3.5 5h-7zm0 5l3.5 5h-7zm1-5l3.5 5h-7zm0 1l3.5 5h-7zm1 1l3.5 5h-7zm0 2l3.5 5h-7zm1-3l3.5 5h-7zm0 3l3.5 5h-7zm0-5l3.5 5h-7zm1 4l3.5 5h-7zm0-1l3.5 5h-7zm1 0l3.5 5h-7zm0-2l3.5 5h-7zm1 0l3.5 5h-7zm0 3l3.5 5h-7zm0-4l3.5 5h-7zm1 5l3.5 5h-7zm0-3l3.5 5h-7zm1 2l3.5 5h-7zm0-4l3.5 5h-7zm0-1l3.5 5h-7zm1 6l3.5 5h-7zm1-2l3.5 5h-7zm0 2l3.5 5h-7zm1 0l3.5 5h-7zm0-2l3.5 5h-7zm1-3l3.5 5h-7zm0 6l3.5 5h-7zm1-6l3.5 5h-7zm0 9l3.5 5h-7zm0-6l3.5 5h-7zm1-2l3.5 5h-7zm0 1l3.5 5h-7zm1 1l3.5 5h-7zm0 1l3.5 5h-7zm1-3l3.5 5h-7zm0-3l3.5 5h-7zm1 3l3.5 5h-7zm0 3l3.5 5h-7zm0 2l3.5 5h-7zm1-8l3.5 5h-7zm0 5l3.5 5h-7zm1 3l3.5 5h-7zm0-7l3.5 5h-7zm1 9l3.5 5h-7zm0-7l3.5 5h-7zm0 2l3.5 5h-7zm1-1l3.5 5h-7zm0 6l3.5 5h-7zm1-3l3.5 5h-7zm0-2l3.5 5h-7zm0-1l3.5 5h-7zm1-3l3.5 5h-7zm0 3l3.5 5h-7zm1-1l3.5 5h-7zm0 2l3.5 5h-7zm0-5l3.5 5h-7zm1 8l3.5 5h-7zm0-1l3.5 5h-7zm1 2l3.5 5h-7zm0-5l3.5 5h-7zm1 1l3.5 5h-7zm0-3l3.5 5h-7zm0 5l3.5 5h-7zm1-3l3.5 5h-7zm0 5l3.5 5h-7zm1-2l3.5 5h-7zm1-6l3.5 5h-7zm0 6l3.5 5h-7zm1-6l3.5 5h-7zm0 5l3.5 5h-7zm0 1l3.5 5h-7zm1-5l3.5 5h-7zm0 1l3.5 5h-7zm1 2l3.5 5h-7zm0 1l3.5 5h-7zm1 0l3.5 5h-7zm0-1l3.5 5h-7zm0-2l3.5 5h-7zm1 3l3.5 5h-7zm0 6l3.5 5h-7zm1-8l3.5 5h-7zm0 5l3.5 5h-7zm0-7l3.5 5h-7zm1 1l3.5 5h-7zm0 6l3.5 5h-7zm1-2l3.5 5h-7zm0 2l3.5 5h-7zm1-5l3.5 5h-7zm0 1l3.5 5h-7zm1-1l3.5 5h-7zm0 4l3.5 5h-7zm1-1l3.5 5h-7zm0 1l3.5 5h-7zm0-5l3.5 5h-7zm1 2l3.5 5h-7zm0-1l3.5 5h-7zm1 0l3.5 5h-7zm0 1l3.5 5h-7zm0 4l3.5 5h-7zm1-3l3.5 5h-7zm0 2l3.5 5h-7zm1-2l3.5 5h-7zm0-5l3.5 5h-7zm0 1l3.5 5h-7zm1 3l3.5 5h-7zm0 3l3.5 5h-7zm1-3l3.5 5h-7zm0-4l3.5 5h-7zm1 5l3.5 5h-7zm0-1l3.5 5h-7zm0 2l3.5 5h-7zm1 0l3.5 5h-7zm0-1l3.5 5h-7zm1-2l3.5 5h-7zm0-1l3.5 5h-7zm1 2l3.5 5h-7zm0 1l3.5 5h-7zm1-2l3.5 5h-7zm0 3l3.5 5h-7zm1 1l3.5 5h-7zm0-2l3.5 5h-7zm1-3l3.5 5h-7zm0 2l3.5 5h-7zm1 6l3.5 5h-7zm0-8l3.5 5h-7zm0 1l3.5 5h-7zm1 4l3.5 5h-7zm0-5l3.5 5h-7zm1 2l3.5 5h-7zm0 4l3.5 5h-7zm0-1l3.5 5h-7zm1-7l3.5 5h-7zm0 6l3.5 5h-7zm1-2l3.5 5h-7zm0-3l3.5 5h-7zm0 6l3.5 5h-7zm1-4l3.5 5h-7zm0 1l3.5 5h-7zm1-2l3.5 5h-7zm0 5l3.5 5h-7zm1 0l3.5 5h-7zm0 4l3.5 5h-7zm1-5l3.5 5h-7zm0-2l3.5 5h-7zm1 2l3.5 5h-7zm0 1l3.5 5h-7zm1-8l3.5 5h-7zm0 8l3.5 5h-7zm1 3l3.5 5h-7zm0-3l3.5 5h-7zm0-4l3.5 5h-7zm1 8l3.5 5h-7zm0-4l3.5 5h-7zm1 4l3.5 5h-7zm0-3l3.5 5h-7zm1-3l3.5 5h-7zm0-4l3.5 5h-7zm0 5l3.5 5h-7zm1 1l3.5 5h-7zm0-3l3.5 5h-7zm1-2l3.5 5h-7zm0 6l3.5 5h-7zm0-4l3.5 5h-7zm1 5l3.5 5h-7zm0-5l3.5 5h-7zm1 3l3.5 5h-7zm0-2l3.5 5h-7zm1 2l3.5 5h-7zm0-7l3.5 5h-7zm1 4l3.5 5h-7zm1 0l3.5 5h-7zm0 1l3.5 5h-7zm0 4l3.5 5h-7zm1-6l3.5 5h-7zm0 4l3.5 5h-7zm1-2l3.5 5h-7zm0-1l3.5 5h-7zm0-2l3.5 5h-7zm1 2l3.5 5h-7zm0-1l3.5 5h-7zm1 4l3.5 5h-7zm0 3l3.5 5h-7zm1-2l3.5 5h-7zm0-4l3.5 5h-7zm1 4l3.5 5h-7zm0-4l3.5 5h-7zm1-1l3.5 5h-7zm0 3l3.5 5h-7zm0-2l3.5 5h-7zm1 3l3.5 5h-7zm0-1l3.5 5h-7zm1-1l3.5 5h-7zm0-1l3.5 5h-7zm0 2l3.5 5h-7zm1 1l3.5 5h-7zm0-1l3.5 5h-7zm1 3l3.5 5h-7zm0-5l3.5 5h-7zm0-2l3.5 5h-7zm1 0l3.5 5h-7zm0 1l3.5 5h-7zm1 1l3.5 5h-7zm0 2l3.5 5h-7zm1 4l3.5 5h-7zm0-7l3.5 5h-7zm0 1l3.5 5h-7zm1 1l3.5 5h-7zm0-2l3.5 5h-7zm1 1l3.5 5h-7zm0 4l3.5 5h-7zm0 1l3.5 5h-7zm1-5l3.5 5h-7zm0 2l3.5 5h-7zm1 3l3.5 5h-7zm0-2l3.5 5h-7zm0-1l3.5 5h-7zm1 1l3.5 5h-7zm0-1l3.5 5h-7zm1-2l3.5 5h-7zm0 4l3.5 5h-7zm1-3l3.5 5h-7zm0 2l3.5 5h-7zm1-4l3.5 5h-7zm0 5l3.5 5h-7zm1-4l3.5 5h-7zm0 4l3.5 5h-7zm1 0l3.5 5h-7zm0 1l3.5 5h-7zm1 1l3.5 5h-7zm0-6l3.5 5h-7zm1 2l3.5 5h-7zm0-2l3.5 5h-7zm1 5l3.5 5h-7zm0-2l3.5 5h-7zm1 0l3.5 5h-7zm0 1l3.5 5h-7zm0-3l3.5 5h-7zm1 5l3.5 5h-7zm0-6l3.5 5h-7zm1 4l3.5 5h-7zm0-3l3.5 5h-7zm0-1l3.5 5h-7zm1 8l3.5 5h-7zm0-6l3.5 5h-7zm1 2l3.5 5h-7zm0-3l3.5 5h-7zm1 0l3.5 5h-7zm0 5l3.5 5h-7zm0-2l3.5 5h-7zm1-1l3.5 5h-7zm0 1l3.5 5h-7zm1 0l3.5 5h-7zm0 1l3.5 5h-7zm1-1l3.5 5h-7zm1-1l3.5 5h-7zm0 3l3.5 5h-7zm0-9l3.5 5h-7zm1 8l3.5 5h-7zm0-2l3.5 5h-7zm1 0l3.5 5h-7zm0-1l3.5 5h-7zm1-1l3.5 5h-7zm0 3l3.5 5h-7zm0-4l3.5 5h-7zm1 0l3.5 5h-7zm1 7l3.5 5h-7zm0-4l3.5 5h-7zm1-4l3.5 5h-7zm0 4l3.5 5h-7zm1 2l3.5 5h-7zm0-5l3.5 5h-7zm0 3l3.5 5h-7zm1 0l3.5 5h-7zm0 1l3.5 5h-7zm1 1l3.5 5h-7zm0 3l3.5 5h-7zm1-5l3.5 5h-7zm0-2l3.5 5h-7zm1 4l3.5 5h-7zm0-2l3.5 5h-7zm1 1l3.5 5h-7zm0 1l3.5 5h-7zm0-2l3.5 5h-7z"/>
<path fill="none" stroke="#000080" stroke-width="3.3" stroke-linecap="round" d="M250 666.5h0m1-16h0m0 11h0m1-3h0m0 1h0m0 1h0m1-6h0m0 7h0m1-1h0m0 15h0m1-11h0m0-1h0m1 0h0m0-1h0m1 3h0m0 3h0m0-2h0m1 5h0m0-4h0m1 2h0m0 5h0m0-3h0m1-3h0m0 2h0m1 3h0m0 5h0m1-7h0m0 5h0m1-6h0m0 3h0m1 4h0m0-1h0m0-1h0m1 3h0m0-12h0m1 14h0m0-7h0m0-2h0m1 8h0m0 1h0m1-3h0m0-2h0m1 4h0m0 1h0m0 5h0m1-2h0m0-1h0m1 3h0m0-4h0m0-2h0m1 6h0m1-2h0m0-1h0m0 4h0m1-9h0m0 11h0m1 0h0m0-7h0m1 6h0m0-3h0m0 6h0m1-9h0m0 4h0m1 6h0m0 2h0m0-11h0m1 6h0m0 4h0m1-3h0m0 8h0m0-9h0m1 5h0m0-4h0m1 8h0m0-4h0m1-1h0m0-4h0m0 12h0m1-3h0m1 2h0m0-3h0m0-3h0m1 0h0m1 8h0m0-9h0m0 3h0m1 1h0m0 2h0m1 2h0m0-6h0m1-1h0m0 6h0m0 4h0m1-1h0m0-2h0m1-1h0m0 2h0m1 2h0m0-5h0m1 3h0m0 2h0m1-1h0m0 8h0m1-3h0m1-11h0m0 6h0m0-1h0m1 4h0m0-9h0m1 12h0m0-1h0m0-7h0m1 1h0m0 1h0m1 3h0m0 2h0m0 5h0m1-7h0m0 3h0m1-2h0m0 6h0m1-3h0m0 2h0m0-8h0m1 3h0m0-2h0m1 8h0m0-3h0m0-3h0m1 0h0m0 3h0m1-3h0m0-1h0m0 5h0m1 7h0m0-9h0m1-1h0m0-2h0m1 0h0m0 6h0m0 1h0m1-2h0m0 1h0m1-1h0m0 1h0m0-6h0m1 4h0m0 2h0m1-3h0m0 1h0m1 1h0m0 4h0m1-4h0m0 1h0m1 3h0m0 4h0m1-13h0m0 10h0m1-4h0m0 2h0m0 2h0m1 1h0m1-2h0m0 4h0m0-6h0m1 1h0m0 3h0m1-4h0m0 9h0m1-4h0m0 4h0m0-7h0m1-1h0m0 2h0m1 2h0m0-4h0m0 3h0m1-1h0m0 5h0m1-7h0m0 5h0m1-5h0m0-1h0m1-1h0m0 5h0m1 3h0m0-3h0m0 2h0m1 3h0m0-4h0m1-1h0m0-1h0m0-4h0m1 7h0m0-8h0m1 8h0m0-2h0m1 4h0m0-4h0m0-2h0m1 3h0m0-2h0m1 1h0m0 1h0m1-1h0m0-2h0m1 2h0m0-6h0m1 3h0m0 7h0m1 1h0m0-10h0m1 6h0m0-1h0m0-2h0m1 5h0m0-4h0m1-4h0m0 5h0m0 1h0m1 0h0m0-4h0m1 6h0m0-6h0m1 2h0m0 2h0m1-2h0m0 7h0m1-4h0m0-4h0m1 3h0m0 7h0m1-8h0m0 1h0m0 1h0m1-2h0m0 8h0m1-9h0m0 4h0m0-2h0m1 1h0m0-6h0m1 9h0m0-6h0m1 1h0m0-3h0m1 4h0m0 1h0m1 0h0m0 1h0m0-2h0m1-2h0m0 2h0m1 0h0m0-3h0m1 4h0m0-3h0m1-2h0m0 3h0m1 4h0m0-7h0m1 0h0m0 4h0m1-9h0m0 6h0m0 3h0m1-7h0m0 7h0m1-3h0m0-4h0m0 3h0m1-6h0m0 3h0m1 7h0m0-9h0m1 9h0m0-7h0m0 3h0m1-3h0m0-7h0m1 5h0m0 2h0m0-4h0m1-1h0m0 5h0m1-4h0m0-3h0m1 7h0m0-4h0m1 4h0m0 1h0m1-4h0m0-4h0m0-1h0m1 4h0m0 2h0m1-2h0m0-3h0m1 2h0m0-3h0m1 1h0m0-4h0m0-1h0m1 3h0m0-2h0m1 0h0m0 5h0m1-3h0m0 9h0m0-7h0m1-5h0m0 4h0m1-2h0m0-3h0m0 5h0m1-6h0m0-7h0m1 11h0m0-5h0m0 6h0m1-7h0m0-2h0m1 8h0m0-8h0m1 3h0m0 4h0m0-5h0m1-1h0m1 2h0m0-5h0m0 4h0m1-1h0m0 5h0m1-8h0m0-2h0m0 4h0m1-4h0m0 2h0m1-1h0m0 3h0m1-6h0m0 1h0m0-7h0m1 4h0m0 6h0m1-6h0m0-1h0m0-2h0m1 5h0m0-2h0m1-4h0m0 5h0m0-2h0m1 1h0m0-4h0m1 6h0m0-4h0m1-2h0m0-2h0m0 1h0m1 2h0m0-3h0m1 3h0m0-2h0m0 1h0m1-2h0m0-3h0m1-5h0m0 5h0m0 1h0m1-2h0m1-3h0m0-1h0m1-2h0m0 5h0m0-3h0m1-3h0m0-2h0m1 2h0m0 3h0m1-7h0m0 4h0m1 0h0m0-2h0m0-1h0m1 0h0m0-2h0m1-1h0m0-4h0m1 4h0m0-3h0m1-7h0m0 5h0m1 0h0m0-3h0m0 1h0m1-1h0m0-1h0m1-3h0m0 2h0m1-1h0m0-3h0m1-1h0m1 0h0m0-5h0m0-1h0m1 2h0m0-4h0m1 0h0m0 1h0m1-5h0m0 3h0m1-6h0m0 3h0m1-5h0m0-1h0m0 3h0m1-4h0m0-2h0m1 0h0m0-2h0m1-1h0m0 1h0m1-5h0m0-1h0m0-1h0m1 2h0m0-2h0m1 0h0m0-4h0m1-1h0m0-3h0m1 1h0m0-2h0m1-4h0m0-1h0m1 3h0m1-6h0m0-6h0m1 4h0m0-2h0m1-3h0m0 2h0m1-6h0m0 1h0m1-6h0m0 2h0m1-1h0m0-7h0m0-3h0m1 2h0m0-3h0m1-4h0m0-2h0m1-1h0m1-2h0m0 1h0m1-2h0m0-3h0m1-1h0m0-3h0m1-5h0m0 3h0m1-1h0m0-5h0m1 0h0m0-2h0m0 1h0m1-5h0m0-2h0m1-1h0m0-3h0m1 0h0m0-2h0m0-2h0m1 2h0m0-6h0m1-1h0m0-3h0m1-5h0m0-1h0m1-1h0m0-1h0m0-3h0m1-3h0m0-3h0m1 1h0m1-5h0m0-3h0m0-3h0m1-6h0m0-1h0m1-3h0m0-2h0m0-3h0m1-5h0m0 3h0m1 0h0m0-7h0m1-3h0m0-1h0m1-7h0m0 5h0m1-7h0m0 1h0m0-5h0m1-5h0m0-2h0m1-1h0m0-7h0m0-1h0m1-3h0m0-4h0m1 4h0m0-3h0m0-4h0m1 1h0m0-7h0m1 0h0m0 2h0m1-4h0m0-9h0m0-4h0m1 3h0m0 4h0m1-5h0m0-1h0m1-4h0m0 1h0m1 0h0m0-2h0m0-1h0m1-4h0m0 2h0m1-4h0m0 3h0m1 2h0m0-9h0m0-5h0m1 3h0m0 1h0m1 1h0m0-1h0m0-6h0m1-1h0m0 4h0m1-7h0m0 4h0m1-3h0m0-1h0m1-1h0m0-1h0m1-5h0m0 2h0m1-3h0m0 1h0m1-5h0m0-2h0m0-1h0m1 0h0m0 1h0m1-5h0m0 4h0m0-3h0m1-2h0m0-4h0m1 4h0m1-6h0m0 7h0m0 2h0m1-3h0m1 5h0m0-2h0m0-5h0m1 2h0m1 1h0m0-5h0m0 8h0m1-2h0m0 2h0m1 0h0m0 3h0m1-2h0m0 4h0m1 3h0m0-3h0m1 5h0m0-2h0m0-1h0m1 6h0m0-5h0m1 5h0m0-3h0m0 4h0m1-3h0m0 2h0m1 6h0m0-1h0m1 1h0m0 4h0m1-3h0m0 2h0m1 4h0m0 2h0m1 3h0m0 1h0m1 2h0m0 6h0m1 3h0m0-1h0m1 1h0m1 5h0m0-2h0m0 6h0m1 5h0m0 4h0m1 1h0m0-3h0m0 5h0m1-1h0m0 5h0m1 0h0m0 3h0m0 6h0m1-3h0m0 5h0m1-4h0m1 5h0m0 3h0m0-4h0m1 3h0m0-2h0m1 5h0m0 4h0m1 0h0m1 6h0m0 4h0m1 1h0m0 2h0m1 6h0m0-2h0m1 1h0m0 3h0m0-5h0m1 6h0m0 1h0m1 2h0m0 3h0m0-1h0m1-4h0m0 5h0m1 2h0m0 1h0m1-2h0m0 6h0m1 0h0m1-2h0m0 8h0m0-9h0m1 7h0m0 6h0m1-4h0m0 2h0m1 5h0m0-5h0m1 4h0m0 1h0m1-2h0m0 6h0m0-4h0m1 2h0m0 3h0m1 0h0m0 3h0m0 2h0m1-2h0m0 1h0m1 1h0m0 1h0m0 3h0m1-1h0m0 3h0m1 0h0m0-1h0m1 5h0m0-3h0m1 7h0m0-5h0m1 4h0m0-3h0m0 4h0m1-1h0m0 3h0m1 1h0m0 2h0m0 4h0m1-2h0m0 2h0m1 0h0m1 0h0m0-1h0m0 5h0m1 4h0m0-1h0m1-1h0m0 6h0m0-4h0m1 1h0m1 1h0m0 3h0m0 6h0m1-4h0m1 2h0m0 1h0m1-1h0m0 4h0m0 3h0m1 0h0m0 2h0m1-3h0m0 1h0m0 7h0m1 1h0m0-4h0m1 5h0m0 1h0m0 2h0m1 1h0m1 3h0m0 1h0m1 1h0m0-2h0m1 6h0m1 5h0m0 2h0m0 1h0m1 0h0m0 3h0m1 3h0m0-2h0m0 5h0m1 1h0m1 4h0m0-2h0m1 4h0m0-2h0m1 3h0m0 4h0m1-1h0m0 3h0m1 5h0m0 3h0m1-2h0m0 4h0m1 4h0m0-3h0m1-2h0m0 7h0m1-1h0m0-1h0m0 2h0m1-1h0m0 4h0m1 0h0m0 6h0m1-3h0m0 1h0m1 3h0m0-1h0m0 5h0m1 2h0m1 2h0m0 3h0m1 4h0m0 2h0m0-1h0m1 3h0m0-1h0m1 4h0m0-1h0m0 5h0m1-2h0m0 2h0m1 3h0m0 3h0m0-2h0m1 3h0m0 2h0m1 2h0m1 3h0m0 1h0m0 4h0m1 0h0m0-2h0m1 0h0m0 5h0m0 4h0m1-1h0m0 3h0m1-2h0m0 5h0m1 0h0m0 2h0m1-2h0m0 4h0m1-1h0m0 4h0m0-2h0m1 1h0m0 1h0m1 4h0m0-1h0m1 0h0m0 1h0m1 6h0m0-5h0m0 3h0m1 4h0m0 2h0m1-1h0m0 3h0m1 1h0m0 2h0m1 4h0m0-1h0m1 4h0m0-4h0m0 5h0m1-3h0m0 1h0m1 5h0m0-1h0m0 4h0m1-2h0m0 6h0m1-1h0m0-1h0m1 3h0m0 3h0m0-2h0m1 4h0m0 4h0m1-1h0m0-1h0m1 4h0m0-3h0m1-2h0m0 6h0m1 7h0m0-2h0m1-1h0m0 1h0m1 4h0m0-2h0m1 4h0m0 1h0m1 1h0m0 1h0m0 4h0m1 2h0m0-6h0m1 9h0m0-4h0m1 3h0m0-3h0m1 4h0m0 1h0m1 2h0m0-2h0m1 3h0m0 2h0m1 1h0m0-1h0m1 1h0m0-1h0m1 1h0m0 6h0m1-3h0m0 2h0m0-1h0m1 5h0m0 1h0m1-3h0m0 2h0m0-1h0m1 5h0m0-1h0m1-2h0m0 5h0m0-2h0m1 1h0m0 1h0m1-2h0m0 1h0m1 3h0m0-2h0m1 7h0m0-4h0m1 0h0m0 1h0m0 3h0m1 1h0m0-1h0m1 2h0m0-4h0m0 3h0m1 0h0m0 2h0m1 2h0m0-5h0m1 12h0m0-8h0m0 3h0m1 2h0m1 0h0m0-6h0m0 4h0m1 5h0m0-3h0m1 0h0m0-2h0m0 8h0m1 0h0m0-3h0m1 3h0m1-1h0m0 2h0m0 2h0m1 1h0m0 2h0m1-2h0m0 2h0m1-1h0m0-1h0m1 6h0m0-3h0m0 2h0m1 2h0m0-3h0m1 4h0m1-1h0m0 2h0m1-4h0m0 4h0m1 0h0m0 4h0m0-1h0m1-1h0m0 2h0m1 3h0m0-1h0m1 1h0m0-1h0m1 1h0m0 2h0m1-1h0m0 1h0m0-3h0m1 0h0m1 3h0m0 5h0m1-4h0m0-1h0m1 6h0m0-1h0m0-3h0m1 6h0m0-2h0m1 3h0m0-1h0m1 1h0m0-1h0m0-2h0m1 2h0m1 3h0m0-3h0m0-1h0m1 5h0m0 2h0m1 1h0m0-6h0m1 3h0m1 2h0m0-4h0m1 5h0m0 1h0m0-2h0m1 2h0m0 3h0m1-2h0m0 3h0m1-1h0m1-1h0m0 4h0m0-3h0m1 0h0m0 3h0m1-3h0m0 3h0m1 2h0m0-2h0m0 1h0m1 2h0m1-5h0m0 1h0m0 6h0m1-1h0m0-5h0m1 2h0m0 3h0m0-2h0m1 4h0m0-1h0m1 2h0m0-4h0m1 5h0m0 3h0m0-6h0m1 5h0m1-1h0m0-1h0m0-2h0m1 1h0m0 4h0m1 1h0m0 1h0m1 0h0m0-3h0m1-1h0m0 3h0m1 1h0m0-4h0m1 3h0m0-2h0m1 4h0m0-2h0m1 3h0m1 3h0m0-5h0m0-2h0m1 7h0m0 1h0m1 1h0m0-2h0m1 0h0m0-3h0m1 2h0m0 2h0m1-2h0m0 6h0m0-7h0m1 3h0m0 3h0m1-3h0m0-1h0m1 1h0m0 5h0m1-2h0m0 1h0m1-2h0m0 3h0m0-1h0m1-2h0m0 1h0m1 1h0m0 3h0m1-1h0m0 3h0m1-6h0m0 5h0m1-1h0m0-1h0m1 1h0m0-1h0m1 2h0m0-2h0m0 3h0m1-4h0m0 1h0m1 2h0m0-1h0m0 3h0m1-1h0m0-1h0m1 2h0m0-2h0m1-2h0m0 1h0m0 1h0m1 1h0m0 2h0m1 2h0m0-1h0m0 3h0m1-1h0m0-3h0m1 4h0m0-1h0m0-3h0m1 2h0m0 2h0m1-2h0m0 2h0m1-1h0m0 1h0m0-2h0m1 1h0m0-1h0m1 2h0m0-5h0m1 7h0m0-1h0m1-1h0m0 1h0m0-3h0m1 0h0m0 2h0m1 0h0m0 3h0m1-4h0m0 4h0m0-5h0m1 2h0m0 2h0m1 2h0m0-3h0m0-3h0m1 5h0m1-3h0m0 1h0m0 1h0m1 1h0m0 2h0m1-5h0m0 9h0m1-5h0m0-1h0m0 3h0m1-1h0m0 5h0m1-3h0m0-3h0m1 0h0m1 3h0m0-3h0m0 5h0m1-4h0m1 3h0m0-6h0m1 2h0m0 4h0m0-2h0m1 0h0m0 1h0m1-2h0m0 1h0m0-2h0m1-1h0m0 7h0m1-5h0m0 1h0m0 4h0m1 0h0m0-4h0m1 1h0m0 1h0m1-2h0m0 3h0m0-1h0m1 0h0m0 2h0m1 0h0m0 3h0m0-1h0m1-7h0m0 6h0m1-5h0m0 5h0m1-3h0m1 4h0m0-4h0m1-1h0m0 3h0m0 2h0m1-1h0m0-5h0m1 2h0m0 2h0m0 4h0m1-2h0m1 1h0m0-3h0m0 1h0m1 0h0m0-3h0m1 2h0m0 2h0m1-4h0m0 4h0m1 1h0m0-4h0m1 2h0m0 3h0m0-1h0m1-4h0m0 3h0m1 2h0m0-3h0m0 1h0m1 5h0m0-6h0m1 0h0m0-2h0m1 1h0m0 5h0m0-4h0m1-2h0m0 1h0m1 2h0m0 2h0m0-4h0m1 3h0m0-2h0m1 2h0m1-2h0m0 1h0m1 1h0m0-4h0m1 4h0m0 2h0m1-3h0m1 1h0m0-2h0m0 1h0m1 1h0m1-3h0m0 2h0m0-4h0m1 6h0m0-2h0m1 1h0m0-3h0m1 3h0m0 1h0m0 1h0m1-5h0m0 5h0m1-2h0m0-2h0m0 3h0m1-2h0m1 0h0m0 2h0m0-1h0m1 0h0m0-2h0m1 1h0m0 2h0m1 2h0m0-3h0m0 4h0m1-3h0m0-3h0m1 4h0m0-3h0m1 4h0m0-3h0m1 1h0m0 5h0m0-4h0m1 0h0m0 1h0m1-2h0m1 1h0m0-6h0m0 8h0m1-5h0m1 4h0m0-1h0m0-3h0m1 3h0m0-3h0m1 1h0m0-1h0m1 4h0m0-1h0m1 1h0m0 1h0m1-2h0m0-1h0m1 5h0m0-4h0m1 1h0m0-1h0m1 1h0m1-1h0m0-1h0m1 3h0m1 1h0m0-2h0m1-2h0m0 3h0m1-4h0m0 5h0m1-1h0m0 3h0m0-7h0m1 0h0m0 5h0m1-6h0m0 2h0m1-1h0m0 1h0m0-2h0m1 3h0m0 3h0m1-1h0m0-2h0m1 4h0m0-2h0m1 1h0m0-6h0m0 5h0m1-4h0m0 4h0m1-1h0m0-3h0m1 3h0m0 2h0m0-1h0m1 0h0m0-3h0m1 0h0m0-1h0m0 3h0m1 2h0m0-1h0m1-1h0m0-3h0m1 2h0m0-4h0m1 1h0m0 3h0m1-2h0m0 6h0m0-4h0m1-2h0m0 1h0m1 5h0m0-6h0m0 4h0m1-1h0m0 2h0m1-2h0m0-2h0m1 1h0m0 2h0m1-2h0m0 4h0m1-4h0m0 1h0m0-3h0m1 2h0m1 0h0m0 2h0m0-4h0m1 0h0m0 4h0m1-3h0m0-1h0m0 4h0m1-1h0m0-8h0m1 5h0m0 3h0m1 0h0m0-3h0m0 4h0m1-5h0m0 1h0m1 0h0m0 2h0m1 0h0m0-3h0m1 3h0m0-4h0m0 1h0m1 4h0m0-4h0m1 2h0m0-4h0m1 1h0m1-1h0m0 1h0m1 1h0m0 1h0m0-3h0m1 1h0m0 1h0m1-5h0m0-1h0m0 7h0m1-1h0m0-3h0m1 0h0m0-3h0m1-1h0m0 4h0m1 1h0m0-4h0m1 2h0m0 3h0m1-5h0m0 3h0m1-5h0m0 1h0m0 2h0m1 2h0m0-4h0m1 2h0m0-1h0m1-3h0m0 2h0m0 4h0m1-4h0m0 1h0m1 1h0m0-4h0m1 5h0m1-1h0m0-4h0m1-1h0m1 0h0m0 4h0m1 1h0m0-5h0m0 3h0m1-5h0m0 2h0m1-1h0m0-2h0m0 4h0m1 0h0m0-2h0m1 0h0m0-1h0m0 2h0m1-2h0m0 2h0m1-3h0m0 3h0m1 0h0m0 2h0m0-1h0m1-2h0m0-2h0m1-2h0m0 3h0m0 3h0m1 1h0m0-9h0m1 3h0m0 1h0m1 1h0m1-2h0m0 1h0m1-3h0m0 1h0m1 4h0m0-6h0m1 3h0m0 2h0m1 0h0m0-3h0m1 2h0m0 1h0m0 3h0m1-3h0m0 1h0m1-3h0m1 3h0m0-2h0m0 1h0m1-1h0m0 3h0m1 0h0m0-7h0m0 6h0m1-3h0m1-2h0m0 2h0m0-4h0m1 1h0m0-1h0m1 3h0m0 1h0m1-1h0m0-1h0m0-2h0m1-2h0m0 4h0m1 0h0m0 2h0m1-3h0m1-5h0m0 6h0m0-1h0m1-2h0m0 2h0m1-3h0m0 1h0m1 6h0m0-3h0m1 0h0m1-1h0m0 4h0m0-5h0m1 2h0m0-2h0m1-1h0m0-4h0m0 1h0m1 8h0m0-1h0m1-4h0m0 1h0m1 2h0m0-4h0m0 6h0m1-6h0m0 1h0m1-5h0m0 10h0m0-3h0m1 3h0m0-5h0m1 3h0m0-1h0m1 1h0m0 4h0m1-2h0m0-3h0m1 3h0m0 1h0m0-2h0m1 0h0m1-3h0m0 3h0m0 3h0m1-6h0m0 3h0m1 2h0m0-5h0m1 3h0m0-3h0m0 2h0m1-1h0m0 1h0m1 1h0m0 1h0m1-5h0m0 9h0m1-4h0m0-2h0m0 1h0m1 3h0m0-3h0m1 1h0m1 3h0m0-3h0m1 3h0m0-1h0m1 3h0m0-3h0m0-2h0m1 3h0m1 0h0m0 1h0m0 4h0m1-4h0m0 1h0m1-2h0m0 4h0m1-3h0m0-2h0m1 4h0m1-5h0m0 2h0m0 4h0m1 1h0m0-5h0m1 2h0m0 3h0m1-3h0m1-1h0m0 3h0m1 1h0m0-4h0m1 6h0m0-2h0m1 2h0m0-3h0m0 4h0m1-4h0m0 6h0m1-5h0m0-1h0m1 1h0m1 0h0m0 1h0m1 3h0m0-2h0m1 3h0m0-4h0m1 0h0m0 4h0m1-5h0m0 1h0m1 6h0m0 1h0m1-6h0m0 3h0m1 2h0m0-1h0m1-4h0m0 3h0m0-2h0m1 1h0m0 7h0m1-3h0m0-4h0m1 5h0m0-2h0m1 2h0m0-2h0m0 1h0m1 1h0m0-2h0m1-2h0m0 2h0m1 1h0m0 1h0m0 1h0m1 0h0m0 1h0m1-2h0m0 5h0m0 1h0m1-3h0m1 2h0m0-1h0m0-1h0m1-1h0m0-1h0m1 0h0m0 4h0m1 1h0m0-5h0m0 2h0m1 1h0m0-1h0m1-1h0m0 1h0m0-3h0m1 4h0m1 5h0m0-2h0m0-3h0m1 1h0m0 4h0m1 0h0m0-3h0m1-1h0m0-2h0m1 3h0m0-1h0m1 5h0m0-8h0m0 4h0m1 1h0m1 3h0m0-6h0m0 1h0m1 2h0m1-1h0m0-1h0m1 4h0m0-4h0m0 1h0m1 4h0m0 1h0m1-2h0m0-4h0m1 0h0m1 1h0m0 4h0m0-2h0m1-2h0m1-1h0m0 5h0m1-7h0m0 5h0m0-4h0m1 1h0m0-1h0m1 6h0m0-3h0m0 6h0m1-8h0m1 4h0m0-2h0m1-3h0m0 7h0m1-2h0m1-2h0m0 3h0m0-2h0m1 1h0m1 3h0m0-3h0m1 4h0m0-2h0m1 0h0m0 3h0m1-3h0m0 2h0m1 4h0m0-3h0m1-2h0m0 3h0m1-2h0m0-1h0m1 3h0m0 4h0m1-4h0m0 7h0m1-4h0m0 2h0m0 2h0m1-1h0m0 2h0m1-3h0m0-2h0m1 5h0m0-3h0m1 7h0m0-2h0m1 0h0m0-1h0m0 2h0m1 1h0m0-2h0m1 4h0m0-2h0m1 3h0m0-1h0m0 3h0m1 0h0m0-1h0m1 0h0m0 2h0m0 2h0m1 0h0m0-2h0m1 1h0m0 3h0m0-6h0m1 5h0m0-3h0m1 5h0m0-4h0m1 2h0m0-2h0m1 4h0m0 2h0m1-5h0m0 2h0m0 9h0m1-6h0m0-1h0m1 1h0m0-6h0m0 9h0m1-3h0m0-3h0m1 6h0m0-4h0m1 0h0m0 3h0m1-2h0m0 1h0m1-2h0m0 5h0m1 1h0m0-1h0m1 0h0m0-2h0m0 1h0m1-1h0m0 5h0m1-4h0m0 2h0m1-1h0m0-2h0m0 7h0m1-5h0m1 2h0m0-2h0m1 0h0m0 3h0m1-1h0m0-2h0m0 5h0m1-2h0m0-2h0m1 3h0m1 3h0m0-5h0m0 4h0m1-2h0m0 2h0m1-2h0m0 1h0m0 1h0m1-3h0m0-2h0m1 4h0m0 1h0m1 1h0m0-1h0m1 3h0m0-2h0m1 0h0m0 2h0m0-1h0m1-1h0m0 1h0m1-2h0m0 1h0m0 1h0m1 2h0m0-2h0m1 2h0m0 3h0m1-4h0m0 2h0m1 0h0m1 0h0m0 1h0m1-1h0m0-1h0m1 1h0m0 1h0m0 1h0m1-1h0m0 1h0m1 1h0m0-4h0m0 1h0m1 2h0m0-1h0m1-2h0m0 4h0m1-2h0m0-1h0m0 5h0m1-6h0m0 3h0m1-1h0m0 1h0m0 1h0m1-2h0m0 1h0m1 1h0m0-2h0m0 4h0m1-1h0m0-1h0m1-1h0m0 1h0m1 1h0m0-1h0m0 3h0m1-7h0m0 1h0m1 4h0m0-3h0m1 2h0m0 3h0m1 0h0m0 2h0m0-1h0m1 1h0m0-2h0m1 2h0m0-1h0m1-2h0m0-2h0m0 1h0m1 3h0m0-5h0m1 5h0m0-2h0m0 3h0m1-1h0m0-2h0m1 2h0m0-4h0m0 5h0m1 0h0m0-4h0m1 5h0m0-2h0m1 1h0m0-3h0m0 4h0m1 0h0m0-1h0m1-2h0m0 4h0m0 1h0m1-2h0m0 1h0m1-3h0m0 2h0m1 0h0m0 5h0m1-4h0m0-2h0m1 3h0m0-4h0m0 3h0m1 1h0m0-2h0m1 0h0m0-1h0m0 2h0m1-1h0m0 5h0m1-2h0m0-2h0m0-2h0m1 7h0m0-1h0m1-2h0m1 0h0m0-1h0m0 4h0m1-3h0m0-2h0m1 1h0m0-3h0m0 6h0m1 0h0m0 2h0m1 1h0m0-5h0m0 2h0m1 2h0m0-1h0m1-2h0m0 3h0m1-1h0m0 2h0m1-3h0m1 0h0m0 1h0m1 2h0m1 1h0m1-4h0m0 4h0m1 1h0m0-4h0m1 0h0m0 1h0m1 1h0m0-1h0m1 3h0m0-3h0m0 2h0m1 0h0m0-1h0m1 4h0m0-2h0m1 1h0m0-1h0m0 2h0m1 0h0m0-1h0m1-3h0m0 5h0m1-1h0m1 0h0m0 1h0m0-2h0m1 2h0m0 1h0m1-2h0m1 5h0m0-2h0m0-2h0m1 0h0m0-4h0m1 3h0m0 2h0m0 3h0m1-6h0m0 3h0m1 5h0m0-2h0m0-1h0m1 2h0m0-2h0m1 0h0m0 2h0m1 0h0m0-3h0m0 5h0m1-6h0m0 2h0m1 7h0m0-7h0m0 3h0m1-3h0m0 1h0m1 0h0m0 3h0m1 2h0m0-2h0m1 2h0m0-4h0m1 4h0m0-2h0m1-1h0m1 3h0m0-1h0m0-1h0m1-1h0m0 1h0m1 1h0m0 1h0m0-2h0m1 0h0m0 2h0m1-3h0m0 4h0m1-2h0m0-4h0m1 2h0m0 1h0m1 1h0m0-1h0m0 3h0m1 0h0m0-1h0m1-3h0m0 6h0m0-3h0m1 2h0m0-2h0m1 1h0m0 2h0m1-1h0m0 1h0m0-2h0m1 4h0m0-6h0m1 2h0m0 3h0m0-2h0m1 0h0m0-3h0m1 6h0m0-6h0m0 5h0m1-1h0m0 2h0m1 1h0m0-4h0m1 0h0m0 1h0m0-2h0m1 4h0m0-2h0m1 1h0m0-2h0m1 1h0m0 1h0m1-1h0m0 4h0m0-3h0m1-3h0m0 5h0m1-1h0m0-1h0m1 6h0m0-4h0m0-3h0m1 2h0m0 2h0m1-1h0m0 2h0m1-3h0m0 2h0m1 1h0m0-2h0m1 2h0m1-3h0m0 1h0m1 1h0m0-1h0m1 4h0m0-4h0m1 0h0m0 2h0m0-4h0m1 2h0m0 3h0m1-3h0m0 1h0m0 4h0m1-1h0m0-1h0m1 0h0m0-1h0m1 2h0m0-1h0m0 5h0m1-4h0m0-1h0m1 1h0m0-3h0m1 1h0m0 5h0m1-5h0m0 1h0m0 3h0m1 1h0m0-4h0m1 4h0m0-3h0m1 4h0m0-2h0m0-2h0m1 2h0m1-2h0m0 5h0m0-4h0m1 2h0m0-2h0m1-2h0m0 1h0m0 2h0m1 1h0m0 2h0m1-3h0m1-2h0m0 2h0m0 1h0m1-4h0m0 6h0m1 0h0m0 2h0m0-6h0m1 2h0m1-2h0m0 1h0m1 2h0m1 2h0m0-3h0m1-2h0m0 3h0m1 1h0m0 1h0m1-3h0m0 2h0m0-3h0m1 2h0m0 1h0m1-1h0m0 1h0m0-3h0m1 1h0m0 2h0m1-2h0m1 6h0m0-4h0m0-1h0m1-1h0m0 4h0m1-7h0m0 5h0m0 1h0m1-2h0m0 2h0m1-2h0m0 1h0m0 1h0m1 0h0m1 0h0m0 2h0m1-3h0m0 1h0m1 0h0m0-2h0m1-1h0m0 1h0m0 3h0m1-2h0m0 1h0m1 5h0m0-2h0m1-3h0m0 3h0m1-3h0m0 3h0m1-1h0m0 1h0m0-3h0m1 3h0m0-5h0m1 3h0m0 2h0m1-5h0m0 5h0m1-1h0m1-1h0m1 3h0m0-1h0m1 1h0m0-1h0m0-3h0m1 3h0m0 3h0m1-5h0m0 2h0m1-2h0m0 2h0m1 1h0m1 0h0m0 1h0m0-5h0m1 4h0m1-1h0m0-1h0m1 3h0m0-3h0m1-1h0m0 3h0m0-1h0m1 1h0m0 2h0m1-2h0m1 4h0m0-6h0m0 3h0m1 1h0m0 1h0m1 1h0m0-5h0m0 3h0m1-2h0m1 0h0m0-2h0m0 3h0m1 1h0m0-3h0m1 3h0m0-2h0m1-1h0m0-2h0m0 6h0m1 0h0m0-2h0m1 0h0m0-2h0m0 3h0m1 0h0m0 1h0m1-1h0m0-2h0m0-1h0m1 4h0m0-4h0m1 4h0m0 1h0m1-4h0m0 3h0m0-1h0m1 1h0m0-2h0m1 2h0m0 3h0m1-2h0m1-3h0m0 2h0m0-1h0m1 1h0m0 1h0m1 1h0m0-1h0m1 0h0m0-1h0m0 3h0m1-4h0m0 2h0m1 2h0m0-3h0m0 2h0m1 0h0m0 2h0m1-1h0m0-5h0m0 3h0m1 1h0m0 1h0m1-1h0m0 2h0m1-1h0m0-4h0m0 1h0m1-2h0m0 6h0m1-3h0m0-2h0m1 2h0m0 2h0m1-2h0m1 4h0m0-4h0m1-1h0m0 1h0m1 1h0m1-1h0m0 1h0m1 1h0m0-3h0m0 6h0m1-1h0m0-5h0m1 2h0m0 2h0m0 1h0m1 1h0m0-6h0m1 1h0m0 1h0m1 2h0m0-2h0m1 2h0m0 1h0m1-3h0m0 2h0m1-1h0m0 3h0m1-3h0m0 3h0m1 1h0m1-4h0m0 2h0m1 0h0m0-2h0m0 3h0m1 0h0m0-3h0m1 2h0m0 1h0m1-2h0m0 4h0m1-4h0m0 2h0m0 1h0m1 0h0m0-4h0m1 2h0m0 1h0m1-1h0m0 2h0m1-1h0m0 1h0m1 1h0m0-5h0m1 7h0m0-4h0m1 2h0m0-4h0m0 2h0m1-1h0m0 4h0m1-1h0m0-1h0m1 0h0m0 1h0m0-2h0m1 0h0m1 3h0m0-1h0m0-2h0m1 2h0m0 1h0m1 1h0m0-3h0m0 2h0m1 2h0m0-3h0m1 0h0m0 1h0m1-1h0m0 1h0m1-2h0m0 3h0m1-2h0m0-1h0m0 2h0m1 0h0m0 1h0m1 1h0m0 1h0m0-5h0m1 2h0m0-2h0m1 3h0m1-1h0m0-1h0m1 0h0m0 3h0m1 2h0m0-5h0m1 2h0m0-2h0m1 3h0m0 1h0m1-1h0m0-1h0m0 3h0m1-3h0m0 2h0m1 0h0m0-2h0m0-2h0m1 0h0m0 3h0m1 1h0m0-3h0m0 1h0m1 4h0m0-5h0m1 3h0m1 1h0m0-4h0m0 3h0m1-2h0m0 4h0m1-3h0m0 2h0m1-1h0m0-2h0m1 3h0m0-1h0m1 3h0m0-2h0m1 1h0m0-1h0m1 3h0m0-4h0m1 1h0m0 1h0m1-1h0m0 1h0m1-2h0m0 1h0m1 1h0m0-4h0m0 6h0m1-3h0m1 1h0m0-1h0m1-1h0m0 1h0m0 3h0m1 0h0m1-3h0m0 1h0m0 2h0m1 0h0m0-2h0m1-1h0m0-2h0m0 6h0m1-5h0m0 3h0m1 1h0m0 4h0m1-5h0m0 1h0m1 0h0m0 1h0m1-1h0m0-2h0m0-2h0m1 4h0m0-2h0m1 3h0m0-4h0m0 3h0m1-2h0m1 4h0m0-2h0m1-1h0m0 2h0m1-2h0m1 4h0m0-2h0m1 1h0m0-2h0m1 0h0m0-2h0m0 3h0m1 0h0m0-1h0m1 2h0m0-4h0m1 3h0m0-3h0m0 1h0m1 1h0m0 3h0m1-4h0m1 5h0m0-2h0m1 0h0m0 2h0m1-6h0m0 2h0m1-1h0m0 5h0m1-5h0m0 3h0m0-1h0m1 0h0m0 1h0m1-1h0m0-1h0m1 1h0m0-1h0m1 0h0m0 2h0m1 1h0m0-1h0m1 3h0m0-4h0m1 0h0m0 3h0m1-2h0m0 2h0m1-2h0m0 2h0m1-1h0m0-1h0m1-1h0m0 1h0m0-2h0m1 1h0m1 2h0m0 1h0m1-2h0m0-1h0m1 0h0m0 1h0m1 2h0m1-1h0m0-4h0m1 6h0m1 0h0m1 3h0m0-4h0m1 2h0m0-1h0m1-1h0m0-1h0m1-1h0m0 3h0m0-1h0m1-2h0m0 1h0m1-1h0m0 5h0m0-3h0m1 0h0m0-2h0m1 1h0m0 3h0m1-2h0m0 1h0m0 2h0m1 1h0m0-2h0m1-1h0m0-1h0m1 4h0m0-5h0m1 2h0m0-3h0m0 1h0m1 3h0m1 0h0m0-1h0m1-1h0m0 1h0m1 2h0m0 1h0m1-2h0m0-1h0m0-1h0m1 2h0m0-1h0m1-2h0m0 5h0m0-2h0m1-1h0m0-1h0m1 0h0m0 3h0m1-3h0m0 2h0m0 1h0m1 2h0m0-2h0m1-1h0m0-1h0m0 2h0m1 1h0m0-2h0m1 1h0m0-1h0m0-2h0m1 1h0m0 3h0m1 1h0m0-1h0m1-2h0m0-1h0m0 2h0m1 0h0m0-3h0m1 4h0m0-2h0m1 2h0m1 1h0m0-1h0m1-3h0m0 4h0m1-1h0m0-3h0m1-1h0m0 5h0m0 2h0m1-2h0m0-2h0m1 1h0m0-5h0m0 3h0m1 3h0m1-5h0m0 5h0m1-1h0m0 1h0m0-2h0m1 1h0m0-2h0m1 2h0m0 1h0m0-3h0m1 2h0m0-1h0m1 3h0m0-1h0m0-5h0m1 5h0m0 1h0m1-3h0m0 1h0m1 0h0m0-2h0m1 5h0m0-2h0m1 2h0m0-1h0m1-1h0m0 1h0m1 2h0m0-1h0m0-2h0m1-1h0m0-1h0m1 2h0m1-3h0m0 3h0m1 0h0m0-1h0m1 5h0m0-3h0m0-3h0m1 1h0m0 2h0m1 0h0m0-1h0m1 0h0m1-1h0m0 2h0m1-5h0m0 3h0m0 3h0m1-3h0m1 4h0m0-1h0m0-2h0m1 0h0m1 0h0m1 2h0m0-2h0m1-2h0m0 1h0m1 2h0m0-2h0m0-2h0m1 6h0m0-1h0m1-2h0m0 2h0m1 1h0m0-3h0m1 2h0m0-2h0m1 0h0m0-1h0m1 3h0m0-1h0m1 2h0m0-3h0m0 4h0m1-2h0m0 2h0m1-3h0m0 3h0m0-2h0m1 0h0m0 1h0m1-4h0m0 1h0m0 5h0m1-6h0m0 2h0m1 2h0m0 1h0m1-3h0m0 1h0m0-2h0m1 1h0m0 2h0m1-1h0m0 1h0m1-1h0m1 0h0m0-1h0m0 2h0m1-3h0m0 4h0m1 1h0m0-1h0m1 2h0m0-5h0m0 2h0m1-2h0m1-1h0m0 4h0m1-1h0m0 1h0m1 0h0m0-3h0m1 1h0m0 1h0m1 1h0m0-2h0m1 0h0m0 3h0m1-2h0m0-1h0m1-1h0m0 2h0m0-3h0m1 2h0m1 0h0m0 1h0m1 4h0m0-4h0m1 1h0m0-3h0m1-1h0m0 4h0m0 2h0m1-5h0m0 2h0m1 1h0m0-1h0m0-4h0m1 5h0m0-1h0m1 1h0m0-3h0m1 3h0m0-2h0m1 2h0m0-2h0m1 0h0m0-1h0m1 1h0m0 3h0m1-2h0m0-2h0m0 4h0m1-1h0m1-1h0m0 1h0m1-2h0m0 1h0m1 0h0m1 1h0m0-4h0m1 2h0m0 1h0m1 1h0m0-1h0m0-1h0m1 2h0m0-1h0m1 2h0m0-2h0m1-1h0m0 1h0m1 1h0m1-3h0m0 1h0m1 0h0m0 2h0m1-1h0m0 2h0m1 1h0m0-3h0m1 1h0m0-1h0m1 2h0m0-1h0m1 1h0m0-3h0m1 2h0m0 2h0m1-3h0m1 0h0m0 1h0m0 1h0m1-1h0m0-1h0m1-1h0m1 5h0m0-4h0m0 1h0m1-1h0m0 1h0m1-1h0m0 1h0m0 2h0m1-4h0m0 2h0m1-1h0m0 2h0m0-3h0m1 2h0m0-2h0m1-1h0m1 1h0m0 1h0m1 2h0m0-3h0m1 2h0m0-2h0m1 0h0m0 2h0m1 0h0m0-1h0m1 0h0m0-2h0m1 3h0m1 2h0m0-4h0m1 2h0m0-1h0m1 0h0m1 0h0m0 1h0m1-3h0m0 3h0m0-4h0m1 6h0m0-1h0m1-2h0m0 2h0m1-2h0m0 1h0m0 1h0m1-1h0m0-1h0m1 1h0m0-1h0m1-1h0m0-1h0m1 5h0m0-1h0m0-4h0m1 3h0m1-4h0m0 2h0m1 1h0m0 3h0m0-1h0m1 0h0m0-1h0m1 1h0m0-3h0m0 2h0m1 1h0m0-3h0m1 2h0m0 2h0m1 0h0m0-4h0m1 1h0m1 2h0m0-3h0m1-1h0m0 3h0m1 0h0m0-1h0m0-1h0m1 1h0m0 2h0m1-3h0m0 1h0m0 1h0m1 0h0m0 1h0m1 0h0m0-1h0m1 2h0m0-1h0m0-1h0m1 0h0m0-2h0m1 2h0m0-2h0m1 1h0m0-2h0m1 1h0m0 1h0m0 1h0m1-1h0m0 1h0m1 2h0m0-1h0m1-3h0m0-1h0m1 1h0m0-1h0m1 0h0m0 2h0m1 3h0m1-4h0m0 1h0m0-2h0m1 0h0m0 2h0m1 0h0m0-1h0m1 2h0m0-1h0m0 2h0m1-2h0m0 2h0m1-2h0m0 1h0m1-3h0m0 1h0m1 1h0m0 1h0m1-2h0m0-1h0m1 2h0m0 1h0m1-2h0m0 3h0m0-1h0m1 1h0m0-1h0m1-2h0m0 4h0m1-2h0m1 0h0m0-2h0m1 1h0m1 2h0m0-3h0m1 2h0m1-1h0m1-2h0m0 3h0m1-1h0m0 1h0m1 0h0m0-1h0m0 2h0m1-2h0m0 4h0m1-5h0m1 1h0m0 1h0m0 1h0m1-1h0m0-1h0m1 3h0m0-1h0m0-2h0m1 0h0m0-2h0m1 3h0m0 2h0m0-4h0m1 0h0m0 2h0m1-4h0m0 6h0m1-5h0m0 1h0m0 1h0m1 2h0m0-1h0m1-3h0m0 3h0m1-4h0m0 3h0m1-1h0m0 3h0m1-5h0m0 4h0m1 0h0m0-2h0m1 1h0m0-1h0m1 2h0m0 1h0m1 1h0m0-3h0m0-1h0m1 3h0m0-6h0m1 2h0m0 3h0m0 3h0m1-5h0m0 2h0m1-2h0m0 1h0m1 0h0m0-1h0m0 2h0m1-1h0m0 1h0m1-1h0m0-1h0m0 2h0m1 1h0m0-3h0m1 3h0m0-1h0m1-1h0m1-1h0m0 3h0m1 0h0m0-2h0m1 0h0m0 1h0m1 2h0m0-3h0m0 1h0m1-1h0m0 1h0m1 2h0m0-4h0m1-2h0m0 3h0m0-2h0m1 5h0m0-4h0m1 1h0m0 1h0m1-1h0m1 2h0m0-2h0m0 3h0m1-2h0m0-4h0m1 5h0m0-4h0m1 3h0m0 3h0m0-2h0m1-3h0m1 2h0m0 2h0m0-4h0m1 3h0m0-1h0m1-1h0m0 3h0m1-5h0m0 1h0m1 3h0m1-3h0m1 2h0m0-1h0m1 3h0m0-1h0m0-1h0m1 0h0m1 1h0m0-1h0m1 1h0m0-2h0m1 2h0m0-2h0m1-1h0m0 2h0m0 2h0m1 0h0m0-5h0m1 3h0m0-1h0m1 0h0m1 0h0m0 1h0m1-2h0m1 0h0m1 2h0m0-2h0m0 1h0m1 1h0m0 1h0m1-1h0m0 1h0m1-1h0m0 1h0m1-4h0m0 3h0m0 2h0m1-2h0m0-1h0m1 3h0m0-2h0m1 1h0m0-5h0m0 4h0m1-1h0m0 1h0m1 1h0m0-2h0m1-3h0m0 5h0m1 1h0m0-2h0m0-1h0m1 1h0m0 1h0m1 0h0m0 2h0m1-4h0m0-1h0m0 2h0m1 2h0m0-3h0m1 1h0m0-1h0m0-1h0m1 1h0m0-2h0m1 3h0m0 1h0m1-2h0m1-2h0m0 1h0m1 3h0m0 3h0m0-6h0m1 1h0m0 2h0m1-2h0m0 2h0m0-1h0m1 0h0m0 1h0m1-1h0m0-2h0m0 3h0m1-1h0m0-1h0m1 0h0m0 2h0m1-2h0m0 1h0m0 2h0m1-2h0m0 2h0m1-4h0m0 3h0m1 2h0m0-3h0m1 1h0m0-1h0m0-1h0m1 0h0m1 2h0m0-2h0m1 1h0m0 2h0m1 0h0m1-3h0m0 1h0m0 1h0m1 1h0m0-1h0m1-2h0m0 1h0m0-2h0m1 4h0m0-4h0m1 3h0m0 1h0m1 0h0m0-4h0m0 3h0m1-1h0m1 3h0m0-2h0m0-3h0m1 1h0m0 3h0m1-1h0m0-2h0m0-1h0m1 2h0m1 2h0m0-2h0m1 2h0m0-4h0m1 2h0m0 3h0m1-3h0m0 1h0m0 1h0m1-2h0m1-2h0m0 3h0m0-1h0m1 0h0m0-3h0m1 5h0m1-2h0m0 2h0m0-5h0m1 4h0m0-3h0m1 7h0m0-8h0m0 2h0m1 1h0m0 2h0m1 0h0m0-1h0m0-1h0m1 4h0m0-4h0m1 1h0m0 2h0m1-4h0m0 1h0m0 2h0m1 0h0m0-3h0m1 2h0m0 3h0m1-2h0m0-1h0m1-1h0m0 3h0m1-1h0m0 1h0m0-2h0m1 0h0m1 1h0m0-2h0m1 3h0m0-4h0m1 1h0m1-1h0m0 1h0m1 2h0m0-1h0m1-1h0m0 3h0m0-4h0m1 4h0m0-1h0m1-3h0m0 2h0m1 2h0m0-1h0m1-1h0m0-2h0m1 2h0m0-2h0m1 2h0m1 1h0m0 1h0m0-2h0m1 1h0m0-1h0m1 2h0m0-1h0m0 2h0m1-1h0m0-3h0m1-1h0m0 3h0m0 1h0m1-3h0m0 3h0m1-2h0m1 1h0m0-3h0m1 2h0m0-1h0m1 1h0m0-3h0m1 2h0m0 2h0m1-4h0m0 3h0m0-2h0m1 0h0m0 4h0m1 0h0m0-2h0m1 0h0m0 2h0m1-2h0m0 2h0m1-1h0m0-1h0m1 0h0m0 1h0m1-1h0m1 1h0m0 1h0m1-1h0m0-2h0m1 2h0m0-2h0m1 1h0m0 2h0m1-1h0m0 1h0m1 0h0m0-2h0m1 2h0m0-2h0m0 1h0m1 0h0m0-1h0m1-2h0m0 2h0m1 0h0m1-1h0m0-1h0m1 4h0m0-1h0m1 0h0m0 2h0m1-1h0m0-1h0m1 0h0m0 1h0m1-1h0m1 0h0m0-1h0m1 2h0m0-3h0m1 1h0m0-1h0m0 3h0m1-2h0m0 2h0m1-2h0m0 2h0m1-2h0m0 2h0m1-2h0m1 2h0m0-1h0m0 2h0m1 1h0m0-4h0m1 0h0m0-1h0m1 3h0m0-1h0m1 0h0m0-1h0m1-2h0m0 4h0m1-1h0m0 1h0m1-1h0m0 1h0m0-2h0m1 1h0m1 0h0m0 2h0m0-1h0m1-5h0m0 4h0m1 0h0m0 1h0m1-2h0m1 0h0m1 3h0m0-1h0m0-1h0m1 1h0m0 2h0m1-3h0m0-1h0m1-1h0m0 1h0m1 0h0m0 2h0m1 0h0m0-2h0m1 2h0m0-2h0m1 1h0m0 2h0m1-1h0m0 2h0m1-2h0m0-1h0m1-1h0m0 1h0m1-1h0m1-1h0m0 6h0m1-3h0m0-4h0m1 4h0m0-2h0m0-2h0m1 3h0m1 1h0m0 1h0m0-3h0m1 1h0m0 1h0m1 0h0m0-1h0m1 2h0m0-4h0m1 0h0m0 5h0m1-2h0m0 1h0m0-2h0m1 0h0m0-1h0m1 1h0m0-1h0m1 1h0m0 1h0m1 0h0m0 1h0m0-3h0m1 1h0m0 2h0m1-1h0m0-4h0m1 4h0m0-1h0m1 0h0m0-1h0m1 3h0m0-1h0m1 1h0m1-3h0m1 0h0m0 2h0m0-1h0m1 2h0m0-1h0m1-1h0m0-1h0m1 4h0m0-4h0m1 0h0m0 1h0m0 2h0m1-2h0m0-1h0m1 1h0m1 1h0m0 1h0m0 2h0m1-2h0m0-1h0m1-1h0m0-1h0m0 2h0m1 1h0m1-2h0m0 1h0m1-1h0m1 1h0m0-1h0m1 2h0m0-1h0m0-1h0m1 2h0m0-1h0m1 1h0m0-3h0m1 2h0m0-2h0m1 1h0m0-1h0m1 1h0m0 2h0m1-3h0m0 2h0m1-1h0m0 3h0m0-2h0m1 0h0m0 2h0m1-4h0m0 1h0m1-1h0m0 2h0m1-1h0m0 1h0m1-1h0m1-1h0m1-1h0m0 2h0m0 1h0m1-2h0m0 1h0m1-3h0m0 2h0m0 2h0m1-2h0m0 2h0m1-1h0m0 1h0m1-2h0m0 2h0m1 1h0m0-2h0m1 1h0m0-1h0m1 2h0m0-1h0m1-2h0m0 2h0m1-1h0m0 2h0m1-5h0m0 5h0m0 1h0m1-2h0m0-3h0m1 5h0m0 1h0m1-2h0m0-3h0m0 1h0m1 1h0m1 1h0m0-4h0m1 2h0m0 1h0m1 2h0m0-3h0m0-1h0m1 2h0m1-3h0m0 4h0m1-1h0m0 1h0m1 0h0m0 1h0m1 0h0m0-2h0m1 2h0m0-2h0m1-1h0m0 1h0m1 0h0m0-4h0m1 4h0m0 3h0m1-2h0m1-2h0m0 2h0m1-1h0m0 1h0m1-1h0m0 1h0m1 0h0m0 1h0m1 0h0m0-1h0m1-4h0m0 1h0m1 2h0m0-1h0m0 2h0m1-2h0m0 1h0m1 0h0m1 1h0m1-1h0m0 1h0m1-1h0m1 0h0m1 0h0m0 1h0m0 4h0m1-3h0m0-1h0m1 1h0m0 1h0m1 0h0m0-3h0m1 4h0m0-4h0m0 1h0m1-1h0m0-1h0m1 0h0m0 5h0m1-1h0m0-3h0m1 3h0m0-3h0m1 2h0m0 2h0m1-1h0m0-1h0m1-3h0m0 1h0m1 2h0m0-2h0m1 2h0m0-1h0m1-1h0m0 2h0m0-1h0m1-1h0m0 3h0m1-2h0m0-2h0m0 4h0m1-3h0m0 2h0m1 0h0m0-1h0m0-1h0m1 1h0m1-1h0m0 3h0m1-2h0m0 3h0m1-3h0m0-1h0m1 2h0m1 3h0m0-4h0m1 3h0m0-1h0m1-1h0m1 0h0m1 1h0m0 1h0m0-4h0m1 4h0m0-1h0m1-1h0m0-1h0m0 2h0m1-3h0m0 4h0m1-3h0m0 1h0m1 0h0m0 1h0m0-2h0m1 3h0m0-1h0m1 2h0m0-2h0m0-1h0m1-2h0m0 2h0m1 3h0m0-3h0m1 0h0m0 2h0m1-4h0m0 5h0m1-2h0m0 1h0m1 1h0m0-3h0m1 2h0m0-1h0m0-2h0m1 2h0m0 1h0m1-2h0m0 1h0m1-1h0m0-1h0m1 2h0m0-1h0m1 2h0m0 1h0m1-1h0m0-1h0m1 1h0m0-2h0m1 1h0m0 2h0m1-3h0m0 1h0m1 1h0m1-2h0m0 4h0m1-2h0m0-3h0m0 1h0m1-1h0m1 2h0m0-2h0m0 3h0"/>
<path fill="none" stroke="#008080" stroke-width="3.3" stroke-linecap="round" d="M250 842.5h0m1 4h0m0 16h0m1-8h0m0-19h0m0 14h0m1-5h0m0 7h0m1-14h0m0 16h0m1 0h0m0 12h0m0-10h0m1 2h0m0-16h0m1 32h0m0-35h0m0 26h0m1-12h0m0-4h0m1 2h0m0 10h0m1-4h0m0 14h0m1-28h0m0 16h0m1-7h0m0 14h0m0-24h0m1 16h0m0 5h0m1-14h0m0 21h0m0-7h0m1 8h0m1-16h0m0 1h0m0 6h0m1 8h0m0 1h0m1-12h0m0 1h0m1-2h0m0 3h0m0 3h0m1 1h0m0 19h0m1-22h0m0 3h0m0 6h0m1-11h0m0 5h0m1 3h0m0 7h0m0-17h0m1 22h0m0-14h0m1 5h0m0 6h0m1-1h0m0 3h0m0-7h0m1-1h0m0 3h0m1-11h0m0 19h0m0-16h0m1-4h0m0 28h0m1-18h0m0-9h0m0 26h0m1-18h0m0 12h0m1-16h0m0 5h0m1-11h0m0-2h0m0 8h0m1 8h0m0 7h0m1 14h0m0-29h0m0 17h0m1-13h0m0 4h0m1-10h0m0 6h0m1-3h0m0 10h0m1-6h0m0 16h0m1-8h0m0 8h0m1-5h0m0-4h0m1 0h0m0 10h0m1-3h0m0-3h0m1 4h0m0-11h0m0 9h0m1-16h0m0 23h0m1-10h0m0 1h0m1 4h0m0-5h0m0-2h0m1 12h0m0-9h0m1-8h0m0 11h0m0-17h0m1 28h0m0-15h0m1 2h0m0 18h0m0-1h0m1-16h0m0 4h0m1 4h0m0 5h0m1-14h0m0 2h0m0 9h0m1-7h0m0 4h0m1-1h0m0-14h0m0 2h0m1-14h0m0 19h0m1 14h0m0-20h0m0 19h0m1-2h0m0-8h0m1 1h0m0 1h0m1-8h0m0 5h0m0 2h0m1 5h0m0 2h0m1-12h0m0 13h0m1-8h0m0 4h0m1-3h0m0-1h0m0 4h0m1-7h0m0-1h0m1 4h0m0 10h0m1-9h0m0 16h0m0-13h0m1-26h0m0 21h0m1 17h0m0-14h0m0-3h0m1-4h0m0 18h0m1-2h0m0-3h0m0-2h0m1 8h0m0-5h0m1-16h0m0 16h0m1-5h0m0-2h0m0 7h0m1-6h0m0-23h0m1 36h0m0-5h0m0-9h0m1-2h0m0 5h0m1-12h0m0 13h0m1-4h0m0-1h0m0-5h0m1 2h0m0 14h0m1 2h0m0-7h0m0-4h0m1-6h0m0 12h0m1 7h0m0-25h0m0 22h0m1-27h0m0 15h0m1 5h0m0-13h0m1-2h0m0 14h0m0 5h0m1-11h0m0 15h0m1-17h0m0 20h0m0-13h0m1 1h0m0 3h0m1-3h0m0 12h0m0 3h0m1-13h0m0-6h0m1-8h0m0 3h0m1 6h0m0-1h0m1 1h0m0 4h0m1-15h0m0 2h0m0 17h0m1-2h0m0-11h0m1 14h0m0-15h0m0 3h0m1-13h0m0 21h0m1-7h0m0 9h0m1-3h0m0-5h0m1 8h0m0-10h0m1 0h0m0 1h0m0 6h0m1 1h0m0 7h0m1-15h0m0 10h0m0-15h0m1 10h0m0-4h0m1 13h0m0-9h0m1-9h0m0 8h0m0-2h0m1-5h0m1-5h0m0 29h0m0-21h0m1 7h0m0-17h0m1 0h0m0 8h0m0-1h0m1 8h0m0-14h0m1 11h0m0 8h0m1-19h0m0 14h0m0-15h0m1 10h0m1 11h0m0-19h0m0 6h0m1 7h0m0-17h0m1 8h0m0-6h0m0 1h0m1 10h0m1 14h0m0-9h0m1-1h0m0-12h0m0-1h0m1 3h0m0-18h0m1 29h0m0-18h0m0-3h0m1 4h0m0 10h0m1 3h0m0-13h0m0 6h0m1-4h0m0-8h0m1 9h0m0-1h0m1-13h0m0 20h0m0-21h0m1 14h0m0-10h0m1 1h0m0 1h0m0 10h0m1-15h0m0 8h0m1 12h0m0-17h0m0 5h0m1 5h0m0-10h0m1 8h0m0-9h0m1 10h0m0-6h0m0-7h0m1 17h0m0-12h0m1-1h0m0-6h0m0 4h0m1 2h0m0 2h0m1 6h0m0-18h0m0 7h0m1 11h0m0-8h0m1 2h0m0 8h0m1-10h0m0 1h0m0-4h0m1 13h0m0-6h0m1-13h0m0 9h0m0-13h0m1 16h0m0-3h0m1-7h0m0-2h0m0-11h0m1 19h0m0-7h0m1-2h0m0 8h0m1-11h0m0-1h0m1-5h0m0 27h0m1-19h0m0-2h0m0 9h0m1-30h0m0 22h0m1 0h0m0-7h0m0 9h0m1-18h0m0 14h0m1 6h0m0-22h0m1 5h0m0 8h0m0 1h0m1-5h0m0 6h0m1-1h0m0-12h0m0 8h0m1-9h0m0-6h0m1-2h0m0 23h0m0-9h0m1 14h0m0-24h0m1 7h0m0 4h0m1-4h0m0 4h0m0-3h0m1-6h0m0-12h0m1 9h0m0 17h0m0-7h0m1 4h0m0-14h0m1 2h0m0-5h0m0 8h0m1-3h0m0 1h0m1 8h0m0-18h0m1 10h0m0-15h0m1 4h0m0 2h0m1 0h0m0 8h0m0-12h0m1-4h0m0-6h0m1 8h0m0-8h0m0 1h0m1 2h0m0 3h0m1-10h0m0 8h0m1 6h0m0-21h0m0 17h0m1 4h0m0-18h0m1 7h0m0-13h0m0 10h0m1-5h0m0 3h0m1-8h0m0-1h0m1 2h0m0-2h0m0-1h0m1 2h0m0-6h0m1 4h0m0 3h0m0-18h0m1 15h0m0-7h0m1-4h0m0-3h0m0 2h0m1-1h0m0 5h0m1-12h0m0 12h0m1-13h0m0 7h0m1-16h0m0 13h0m1 5h0m0-18h0m0 5h0m1-6h0m1-3h0m0-3h0m0 7h0m1 0h0m0-6h0m1 8h0m0-3h0m1-3h0m0-10h0m0 16h0m1-5h0m0-22h0m1 5h0m0 3h0m0 8h0m1 1h0m0-11h0m1 2h0m0 2h0m0-15h0m1 11h0m0-8h0m1 1h0m0-4h0m1-9h0m0-1h0m0 5h0m1-2h0m0-5h0m1 7h0m0-11h0m0-7h0m1 4h0m0-1h0m1-1h0m0 7h0m0-5h0m1 2h0m0-5h0m1-6h0m0 6h0m1-10h0m0 1h0m0-10h0m1 5h0m0-4h0m1 2h0m0 8h0m0 2h0m1-11h0m0-9h0m1 4h0m0-6h0m0-8h0m1 2h0m0-3h0m1-4h0m0 11h0m1-14h0m0-2h0m0 6h0m1-11h0m0-5h0m1 0h0m0 8h0m0-3h0m1-2h0m0-7h0m1-5h0m0 10h0m0-18h0m1 7h0m0-10h0m1 5h0m0-1h0m1 8h0m0-30h0m0 27h0m1-17h0m0 6h0m1 1h0m0-13h0m0 3h0m1 2h0m0-7h0m1-6h0m0 4h0m0-3h0m1-13h0m0 17h0m1-10h0m0-20h0m1 9h0m0 16h0m0-3h0m1-12h0m0-16h0m1 8h0m0 8h0m0-7h0m1-7h0m0-5h0m1 9h0m0-9h0m0 2h0m1-1h0m0 7h0m1-12h0m0-1h0m1-17h0m0 19h0m0-3h0m1-8h0m0-17h0m1 11h0m0 3h0m0 14h0m1-12h0m0 1h0m1-1h0m0 3h0m0-19h0m1 1h0m0-3h0m1 6h0m0-2h0m1 3h0m0-9h0m0 7h0m1-7h0m0 21h0m1-20h0m0 22h0m0-7h0m1-22h0m0 15h0m1-3h0m0-17h0m0 15h0m1-5h0m0 2h0m1-9h0m0 5h0m1 3h0m0-4h0m0-4h0m1 4h0m0-7h0m1 10h0m0-21h0m0 30h0m1-10h0m0 3h0m1 3h0m0-15h0m0 26h0m1-25h0m0 12h0m1 0h0m0 8h0m1-10h0m0-10h0m0 14h0m1-20h0m0 17h0m1-1h0m0 16h0m0-13h0m1 1h0m1 2h0m0 6h0m0 11h0m1-12h0m0 10h0m1-7h0m0 12h0m1 4h0m0-8h0m0 6h0m1 7h0m0 7h0m1 3h0m0-7h0m0-5h0m1-3h0m0 19h0m1 6h0m0-6h0m0 10h0m1-13h0m0 2h0m1 16h0m0-18h0m1 13h0m1 13h0m0-17h0m1 4h0m0-10h0m0 9h0m1 5h0m0 3h0m1 3h0m0 5h0m1-13h0m0 17h0m1 4h0m0-10h0m1 5h0m0 20h0m0-3h0m1 2h0m0-1h0m1-2h0m0-4h0m0 9h0m1-4h0m1 4h0m0 1h0m1 8h0m0-12h0m0 26h0m1-24h0m0 5h0m1 11h0m0-11h0m0 3h0m1 5h0m0-20h0m1 19h0m0-2h0m0 7h0m1 6h0m0 3h0m1 7h0m0 1h0m1-1h0m0-7h0m0 9h0m1-13h0m0 7h0m1 13h0m0-4h0m0-14h0m1 7h0m0 11h0m1 0h0m0 4h0m0-19h0m1 5h0m0 8h0m1-4h0m0 8h0m1 2h0m0 4h0m0-2h0m1 6h0m0 3h0m1-2h0m0-9h0m0 20h0m1-7h0m0 3h0m1 0h0m0-11h0m0 16h0m1-7h0m0-3h0m1 18h0m0-10h0m1 5h0m0 6h0m0 6h0m1-24h0m0 9h0m1 11h0m0-9h0m0-17h0m1 24h0m0 2h0m1 5h0m0-3h0m0-4h0m1 6h0m0-1h0m1-2h0m0 6h0m1 2h0m0-8h0m0 16h0m1 0h0m0 1h0m1-22h0m0 21h0m1-4h0m0 13h0m1-13h0m0 20h0m0-4h0m1-5h0m0 14h0m1-6h0m0 1h0m1-11h0m0 14h0m0 7h0m1-2h0m0-15h0m1 19h0m0 2h0m0-4h0m1-8h0m0-7h0m1 5h0m0 3h0m0 7h0m1 2h0m0-8h0m1-5h0m0 10h0m1-6h0m0 20h0m0-17h0m1 13h0m0 4h0m1-11h0m0 14h0m0-6h0m1-3h0m1 8h0m0 8h0m0-18h0m1 18h0m0-4h0m1-2h0m0 5h0m1 2h0m0 2h0m0 7h0m1-10h0m0 21h0m1-6h0m0-9h0m0-7h0m1 14h0m0-1h0m1 9h0m0 1h0m0 10h0m1-13h0m0 8h0m1-7h0m0 2h0m1 14h0m0-10h0m0 1h0m1 0h0m0 5h0m1 3h0m0-3h0m0-6h0m1 11h0m0-6h0m1 4h0m0 5h0m0 1h0m1-16h0m0 28h0m1-5h0m0 9h0m1 5h0m0-22h0m0 4h0m1 6h0m0 6h0m1-9h0m0 3h0m0 10h0m1-12h0m0 9h0m1 7h0m0-8h0m1 3h0m0-8h0m1 8h0m0 3h0m1 1h0m0 3h0m0 4h0m1 0h0m0 1h0m1-3h0m0 3h0m1 0h0m0 15h0m1-20h0m0 15h0m0-10h0m1 8h0m0 11h0m1-6h0m0 13h0m1-14h0m0 6h0m0-1h0m1 6h0m1 1h0m0 4h0m0 8h0m1-5h0m0 1h0m1-1h0m0-1h0m0-4h0m1 4h0m0 8h0m1-11h0m0 18h0m1-6h0m0-2h0m0 4h0m1 9h0m1 0h0m0 11h0m0 5h0m1-22h0m0 16h0m1-10h0m0-3h0m0 7h0m1 11h0m0-7h0m1 0h0m0 13h0m1-5h0m0-2h0m0 13h0m1-8h0m0-7h0m1-1h0m0 5h0m0 5h0m1 5h0m0 1h0m1-4h0m0-8h0m0 14h0m1-5h0m0-7h0m1 0h0m0 10h0m1 2h0m0 3h0m0-12h0m1 21h0m0-24h0m1 12h0m0 10h0m0-1h0m1-13h0m0 11h0m1 5h0m0-2h0m1-11h0m0 18h0m0-21h0m1 12h0m0-6h0m1 5h0m0 2h0m0 6h0m1-10h0m0 11h0m1 8h0m0-7h0m0 4h0m1 0h0m0-7h0m1 4h0m0 4h0m1 3h0m0 11h0m0-1h0m1-13h0m0 1h0m1-3h0m0-8h0m0 24h0m1-4h0m0-15h0m1 13h0m0 16h0m0-11h0m1 1h0m0-2h0m1-5h0m0-2h0m1 3h0m0 7h0m0-2h0m1 7h0m0 7h0m1-7h0m0 3h0m0-8h0m1-5h0m0 23h0m1-9h0m0 4h0m0-9h0m1-9h0m0 21h0m1-22h0m0 13h0m1-1h0m0 5h0m0 5h0m1 0h0m0-18h0m1 21h0m0-19h0m0 18h0m1-7h0m0-4h0m1 5h0m0-5h0m0 10h0m1 6h0m1-4h0m0 7h0m1-3h0m0 12h0m0-11h0m1-6h0m0 2h0m1-2h0m0 3h0m0 2h0m1 6h0m0 1h0m1-4h0m0 3h0m0-7h0m1 1h0m0-12h0m1 12h0m0 2h0m1 21h0m0-25h0m0 10h0m1-3h0m0-7h0m1 12h0m0-1h0m0-9h0m1-6h0m0 16h0m1-9h0m0 15h0m0-6h0m1 6h0m0-6h0m1 13h0m0-5h0m1 6h0m0-9h0m0-7h0m1-2h0m0 6h0m1 6h0m0-6h0m0 21h0m1-16h0m0 4h0m1-3h0m0-8h0m0 16h0m1-3h0m0 2h0m1-11h0m0 6h0m1 0h0m0 9h0m0-17h0m1 14h0m0 5h0m1-11h0m0-2h0m0 14h0m1-7h0m0 7h0m1-3h0m0 3h0m0-8h0m1-13h0m0 19h0m1-8h0m0 9h0m1-8h0m0 15h0m0-12h0m1 7h0m0 3h0m1-8h0m0 3h0m0-2h0m1-6h0m0 17h0m1-16h0m0-4h0m0 8h0m1 4h0m1-2h0m0-1h0m1-11h0m0 19h0m0 8h0m1-16h0m0-7h0m1 17h0m0-6h0m0-25h0m1 22h0m0-4h0m1 2h0m0 21h0m0-6h0m1-7h0m0 1h0m1 11h0m0-18h0m1 13h0m0-9h0m0 10h0m1-3h0m0-7h0m1 13h0m0-3h0m0 9h0m1-15h0m0 4h0m1-5h0m0 13h0m1-8h0m0 9h0m1-5h0m0-1h0m1 0h0m0 1h0m0 2h0m1-6h0m0-11h0m1 23h0m0-16h0m0 20h0m1-10h0m0 20h0m1-14h0m0-4h0m0 3h0m1-15h0m0 11h0m1-4h0m0 3h0m1-14h0m0 20h0m1-5h0m0-3h0m1 3h0m0-4h0m0 2h0m1 8h0m0-6h0m1 7h0m0-10h0m0-7h0m1 8h0m0 4h0m1-7h0m0 6h0m1-1h0m0 10h0m1 2h0m0-13h0m1 8h0m0 7h0m0-8h0m1-1h0m0-5h0m1 11h0m0-4h0m0 6h0m1-8h0m0 16h0m1-14h0m0-8h0m1 10h0m0 2h0m0 5h0m1-11h0m0-1h0m1 2h0m0-12h0m1 20h0m0 4h0m1-14h0m0-1h0m1 6h0m0-5h0m0 11h0m1-9h0m0 9h0m1-13h0m0-1h0m0-1h0m1 1h0m0 13h0m1 3h0m0-4h0m1-16h0m0 23h0m1-16h0m0 18h0m1 7h0m0-16h0m0 4h0m1 1h0m0-13h0m1 1h0m0 3h0m0 6h0m1 5h0m0-5h0m1 7h0m0-11h0m0-6h0m1 10h0m1-10h0m0 17h0m1-13h0m0 2h0m0 6h0m1-8h0m0 11h0m1-1h0m0-3h0m1-3h0m0-2h0m1 8h0m0 7h0m0-4h0m1-2h0m0 4h0m1 2h0m0-17h0m1 8h0m0 9h0m0-13h0m1 2h0m0 7h0m1-5h0m0 9h0m0-10h0m1 6h0m0 14h0m1-10h0m0-17h0m0 3h0m1 0h0m0 7h0m1-10h0m0 14h0m1 8h0m0-1h0m0-16h0m1 3h0m1-3h0m0 17h0m0-16h0m1-3h0m0 10h0m1 0h0m0 8h0m0 1h0m1-12h0m0-13h0m1 19h0m0 1h0m1 7h0m0-23h0m0 2h0m1 19h0m0 1h0m1-3h0m0-8h0m0 9h0m1-13h0m0-5h0m1 8h0m0 2h0m0 4h0m1 2h0m0-19h0m1 14h0m0 1h0m1-12h0m0 7h0m0 3h0m1 2h0m0-9h0m1 2h0m0-3h0m0 10h0m1-5h0m0-2h0m1 9h0m0-6h0m0-7h0m1 16h0m0-1h0m1-3h0m0-11h0m1 15h0m0-12h0m0-8h0m1 12h0m0 13h0m1-16h0m0 7h0m0 6h0m1-8h0m0-4h0m1 3h0m0 3h0m0-7h0m1 6h0m0 1h0m1-6h0m0 7h0m1-1h0m0-6h0m0 1h0m1 2h0m0-2h0m1 0h0m0-6h0m0 8h0m1 4h0m1-10h0m0 9h0m0 1h0m1-11h0m0 10h0m1-5h0m0-1h0m1 4h0m0-3h0m0-14h0m1 17h0m0-9h0m1 7h0m0 5h0m0-6h0m1-2h0m0 4h0m1 3h0m0-9h0m0 1h0m1 8h0m0 7h0m1-11h0m0 6h0m1-11h0m0 5h0m0 1h0m1-9h0m0 8h0m1-1h0m0-16h0m0 17h0m1 2h0m1 0h0m0-9h0m0 2h0m1 4h0m0-5h0m1 3h0m0 11h0m1-14h0m0 4h0m0 14h0m1-13h0m0-6h0m1 9h0m0-1h0m1-12h0m0 13h0m1 1h0m0 11h0m0-9h0m1-7h0m0 5h0m1 2h0m0-5h0m1 0h0m0 10h0m0-6h0m1 0h0m0-10h0m1 10h0m0-16h0m0 21h0m1-11h0m0 7h0m1 6h0m0-17h0m0 15h0m1-6h0m0 6h0m1-10h0m0-2h0m1 13h0m0-5h0m0-3h0m1-8h0m0 17h0m1-11h0m0-3h0m1 5h0m0 4h0m1-4h0m0-1h0m0-3h0m1 14h0m0 1h0m1-13h0m0-4h0m1 8h0m0-13h0m1 13h0m0-1h0m1 10h0m0 2h0m0-10h0m1-5h0m0 9h0m1 1h0m0-16h0m1 4h0m0 3h0m0-10h0m1 4h0m0 18h0m1-19h0m0 14h0m0-11h0m1 12h0m0-4h0m1 4h0m0-16h0m0 11h0m1-5h0m0 9h0m1-1h0m0-3h0m1-2h0m0 2h0m1-5h0m1-1h0m0-3h0m0 14h0m1-16h0m0 18h0m1-5h0m0-16h0m0-1h0m1 13h0m0-8h0m1 8h0m0 5h0m1-4h0m0-4h0m1 11h0m0-12h0m1 14h0m0 2h0m0-17h0m1 5h0m0 9h0m1-16h0m0 7h0m0 4h0m1-14h0m0 9h0m1-2h0m0-4h0m1 13h0m0-11h0m0 16h0m1-11h0m0-10h0m1 7h0m0-7h0m0 10h0m1-1h0m0-13h0m1 5h0m0 6h0m0-3h0m1-7h0m0 13h0m1 2h0m0-19h0m1 19h0m0-24h0m0 13h0m1-4h0m0 1h0m1 4h0m0-9h0m0 7h0m1 12h0m0-9h0m1 7h0m0-4h0m0-17h0m1 22h0m0-6h0m1-1h0m0-8h0m1-1h0m0-3h0m0 5h0m1 2h0m0-2h0m1 0h0m0-12h0m0 8h0m1-1h0m0 7h0m1-5h0m0 3h0m1-4h0m0 1h0m1 10h0m0-9h0m1-5h0m0 10h0m0 1h0m1-1h0m0-14h0m1 15h0m0-6h0m0 1h0m1-1h0m0 2h0m1 0h0m0 7h0m0-9h0m1-2h0m0 5h0m1-5h0m0 7h0m1-6h0m0 4h0m0-9h0m1 10h0m0-2h0m1-10h0m0 3h0m0 2h0m1-9h0m0 1h0m1 11h0m0 5h0m1-18h0m0 6h0m1-11h0m0 25h0m1-21h0m0 7h0m0 15h0m1-4h0m0-15h0m1 20h0m0-12h0m0-10h0m1 9h0m0 2h0m1 0h0m0-19h0m0 26h0m1-23h0m0 9h0m1 11h0m0-7h0m1-3h0m0-4h0m0 8h0m1 5h0m0-13h0m1 7h0m0-6h0m1-12h0m0 16h0m1 4h0m0-7h0m0 8h0m1-6h0m0 7h0m1-8h0m0-3h0m1-1h0m0 4h0m0 1h0m1-8h0m0 4h0m1-8h0m0 13h0m1-2h0m0 4h0m1-5h0m0 11h0m1-18h0m0 7h0m1 8h0m0 3h0m1-10h0m0-4h0m0-7h0m1 6h0m0 2h0m1-1h0m0 3h0m1-7h0m0-3h0m1 4h0m0 5h0m0 8h0m1-22h0m0 18h0m1-10h0m0 9h0m1 6h0m0-10h0m0-11h0m1 5h0m0 5h0m1-5h0m0 2h0m0-5h0m1 4h0m0-3h0m1 9h0m0-3h0m0 2h0m1-15h0m0 7h0m1-2h0m0 2h0m1-3h0m0 1h0m0 15h0m1-12h0m0-7h0m1 7h0m0 16h0m0-10h0m1-11h0m0 5h0m1 1h0m0-12h0m1 6h0m0 5h0m1-10h0m0 10h0m1 1h0m0 5h0m0 2h0m1-9h0m0 3h0m1 3h0m0 2h0m0-6h0m1-6h0m0 9h0m1 2h0m0-5h0m1 3h0m0 7h0m0-14h0m1-2h0m0-2h0m1 9h0m0 4h0m0-9h0m1 15h0m0-16h0m1 6h0m0-3h0m0 10h0m1-13h0m0 15h0m1-12h0m0-8h0m1 5h0m0 3h0m0 12h0m1-14h0m0 3h0m1 13h0m0-12h0m0-6h0m1 0h0m0-6h0m1 13h0m0 6h0m0-11h0m1-4h0m0 9h0m1-2h0m0-1h0m1 4h0m0-3h0m0-2h0m1 9h0m0-19h0m1 5h0m0 6h0m0-7h0m1 19h0m0-25h0m1 20h0m0-1h0m0-1h0m1 1h0m0-7h0m1-1h0m0 15h0m1-11h0m0-8h0m0 1h0m1-2h0m0 13h0m1 6h0m0-10h0m0 3h0m1-4h0m0 10h0m1 0h0m0 6h0m1-20h0m0 14h0m1-15h0m0 15h0m1 1h0m0-1h0m1-5h0m0-3h0m1 10h0m0-9h0m1-1h0m0 8h0m1-1h0m0-7h0m0 4h0m1 8h0m0-5h0m1 3h0m0-7h0m1 5h0m0-10h0m0 5h0m1 13h0m0-4h0m1-4h0m0 1h0m0-9h0m1 12h0m0-11h0m1 4h0m0 9h0m1-7h0m0 3h0m1 1h0m0 8h0m1-19h0m0 8h0m0 7h0m1-7h0m0 1h0m1-3h0m0 4h0m0 6h0m1 4h0m0-6h0m1 7h0m0-8h0m0-11h0m1 16h0m0-18h0m1 13h0m1-7h0m0 6h0m0-2h0m1 5h0m0-3h0m1 6h0m0-6h0m0 7h0m1-4h0m0 2h0m1-1h0m0-4h0m0 11h0m1-4h0m0-18h0m1 7h0m0 19h0m1-12h0m0 19h0m0-15h0m1 1h0m0-6h0m1 2h0m0 2h0m0 5h0m1-5h0m0-1h0m1-5h0m0 3h0m1 2h0m0-3h0m1-3h0m0 5h0m1-13h0m0 6h0m0 4h0m1 8h0m0-7h0m1-2h0m0 11h0m0-5h0m1 9h0m0-9h0m1-3h0m0 2h0m0 13h0m1-1h0m0-9h0m1 6h0m0-15h0m1 16h0m0-5h0m0-3h0m1 1h0m0 2h0m1-5h0m0 1h0m0-5h0m1 17h0m0-15h0m1 5h0m0 7h0m0 1h0m1 2h0m0-13h0m1 1h0m0 3h0m1-11h0m0 17h0m0-15h0m1 9h0m0 7h0m1-1h0m0-7h0m0 8h0m1 1h0m0-16h0m1 9h0m0 6h0m0-1h0m1-4h0m0 1h0m1 15h0m0-16h0m1 9h0m0-13h0m0 10h0m1 4h0m0-9h0m1-1h0m0 16h0m0-12h0m1 7h0m0-14h0m1 19h0m0-21h0m0 6h0m1 3h0m0 3h0m1 2h0m0 9h0m1 3h0m0-1h0m0-6h0m1-3h0m0-13h0m1 12h0m0-2h0m0 7h0m1-9h0m0 1h0m1 1h0m0 9h0m0-3h0m1-6h0m0-4h0m1 7h0m1 1h0m0 5h0m0 4h0m1 1h0m0-9h0m1 0h0m0 14h0m0-10h0m1 7h0m0-3h0m1 2h0m0 7h0m1-10h0m0 8h0m0-3h0m1-3h0m0-2h0m1 0h0m0 11h0m0-1h0m1-10h0m0 8h0m1-13h0m0 11h0m0 12h0m1-18h0m0 9h0m1-5h0m0 4h0m1-6h0m0 8h0m0-15h0m1 13h0m0-1h0m1 2h0m0 13h0m0-19h0m1 3h0m0-3h0m1 11h0m0-3h0m0-7h0m1 13h0m0-4h0m1 7h0m0-3h0m1-4h0m0-5h0m0-8h0m1 10h0m0 10h0m1-8h0m0-3h0m0 6h0m1 3h0m0 12h0m1-21h0m0 4h0m0-5h0m1 3h0m0 10h0m1-6h0m0-8h0m1 17h0m0 3h0m0-6h0m1-10h0m1 14h0m0-13h0m0 2h0m1-4h0m0 19h0m1-14h0m0 3h0m1-3h0m0-2h0m1 13h0m0-10h0m1 13h0m0-16h0m0 10h0m1 3h0m0-11h0m1 8h0m0-5h0m0-2h0m1 4h0m0-8h0m1 9h0m0-7h0m0 13h0m1 5h0m1-12h0m0 3h0m1 13h0m0-4h0m0-3h0m1-16h0m0 11h0m1 14h0m0-9h0m0-5h0m1 3h0m0 13h0m1-6h0m0-14h0m0 1h0m1 7h0m0 7h0m1-11h0m0 1h0m1-11h0m0 11h0m0 7h0m1 0h0m0-11h0m1 12h0m0-9h0m0-3h0m1 11h0m0-12h0m1 7h0m0-2h0m0 4h0m1 2h0m0-3h0m1-2h0m0 2h0m1-11h0m0 13h0m0 13h0m1-10h0m0 5h0m1-6h0m0 3h0m1 1h0m1-8h0m0 5h0m0-8h0m1 14h0m0-6h0m1-1h0m0-5h0m1 9h0m0 4h0m0-3h0m1 3h0m0-10h0m1 10h0m0-5h0m0-15h0m1 17h0m0-7h0m1 4h0m0-2h0m0-1h0m1 11h0m0-9h0m1 4h0m0 3h0m1-6h0m0-5h0m0 8h0m1-1h0m0-4h0m1 5h0m0 7h0m0-1h0m1 3h0m0-1h0m1-6h0m0-1h0m0-6h0m1 13h0m0-10h0m1 7h0m0 6h0m1-8h0m0-9h0m0 3h0m1 4h0m0 9h0m1-9h0m0 1h0m0-4h0m1 8h0m0-1h0m1 4h0m0-10h0m0 9h0m1-11h0m0 5h0m1 0h0m0 3h0m1 3h0m0-15h0m0 13h0m1-2h0m0-5h0m1 6h0m0 4h0m1-4h0m0 6h0m1-8h0m0 10h0m0-3h0m1 0h0m0 1h0m1 4h0m0-10h0m1 10h0m0-11h0m0 7h0m1 1h0m0-2h0m1-6h0m0-1h0m1 7h0m0 1h0m1 2h0m0-11h0m0 10h0m1 4h0m0-4h0m1-1h0m0 4h0m1 5h0m0-1h0m1-14h0m0 14h0m1-9h0m0 7h0m0-8h0m1 5h0m0-4h0m1 1h0m0 12h0m0-16h0m1 11h0m0-4h0m1-6h0m0 12h0m1-6h0m0-3h0m0 5h0m1-6h0m0 13h0m1-17h0m0 6h0m0-8h0m1 12h0m0 3h0m1 1h0m0 3h0m1-8h0m0-2h0m0 7h0m1-8h0m0 5h0m1-4h0m0-1h0m0 4h0m1 6h0m0-1h0m1-4h0m0-14h0m1 16h0m0 1h0m1-7h0m0 9h0m1-3h0m0-12h0m0 14h0m1 5h0m0-7h0m1-5h0m0 13h0m0-4h0m1-14h0m0 14h0m1-3h0m0-11h0m1 1h0m0 9h0m1 9h0m0-8h0m1-1h0m0-3h0m0 1h0m1 7h0m0-9h0m1 14h0m0-7h0m0-1h0m1-2h0m0-3h0m1 2h0m0-6h0m0 8h0m1-10h0m0 21h0m1-11h0m0-8h0m1 9h0m0-4h0m1 5h0m0-6h0m1 4h0m0 3h0m1-5h0m0 4h0m1-15h0m0 19h0m0-4h0m1 2h0m0-4h0m1 6h0m0-4h0m1 1h0m0-1h0m0-2h0m1-2h0m0 7h0m1 1h0m0-3h0m0 6h0m1-5h0m0 2h0m1 3h0m0-2h0m0-4h0m1-5h0m0 2h0m1-1h0m0 9h0m1-21h0m0 27h0m0-14h0m1 10h0m0-4h0m1 2h0m0-9h0m0 11h0m1-5h0m0 3h0m1-7h0m0 4h0m0-3h0m1 5h0m0 2h0m1-4h0m0 3h0m1 1h0m0-3h0m0-1h0m1-8h0m0 15h0m1-4h0m0-2h0m1-1h0m0 1h0m1 4h0m0-10h0m0 6h0m1 3h0m0-9h0m1 3h0m0 11h0m1 5h0m0-9h0m0 2h0m1-7h0m0 10h0m1-6h0m0 1h0m0 1h0m1-4h0m0-1h0m1 4h0m0-5h0m0 2h0m1-9h0m0 7h0m1 7h0m0 4h0m1-3h0m0-6h0m0 4h0m1-5h0m1 10h0m0-7h0m0 1h0m1 2h0m0 4h0m1-4h0m0-2h0m0 3h0m1-1h0m0-1h0m1-9h0m0 6h0m1 4h0m0-4h0m0 13h0m1 3h0m0-3h0m1-12h0m0 7h0m0-1h0m1 0h0m0-9h0m1 12h0m0 4h0m1 2h0m0-11h0m1 5h0m0 3h0m1-11h0m0 4h0m0-3h0m1 8h0m0-9h0m1 7h0m0-4h0m0 6h0m1-6h0m0 2h0m1 2h0m0-5h0m0 2h0m1 1h0m0-1h0m1 3h0m0-4h0m1 4h0m0-2h0m0-2h0m1-2h0m0-3h0m1 5h0m0 6h0m0-4h0m1 8h0m0-11h0m1 3h0m0-6h0m0 13h0m1-11h0m0 8h0m1-1h0m0 11h0m1-6h0m0-2h0m0-3h0m1 8h0m0-10h0m1-4h0m0 10h0m0-5h0m1-2h0m0 5h0m1 0h0m0-9h0m0 12h0m1 4h0m0-10h0m1-5h0m0 8h0m1-2h0m0 4h0m0 1h0m1-5h0m0 8h0m1-16h0m0 6h0m0 4h0m1 1h0m0-2h0m1 3h0m0-8h0m0-5h0m1 15h0m0 2h0m1-6h0m0-5h0m1 2h0m0 6h0m0-2h0m1 5h0m0 2h0m1-2h0m0-6h0m1 3h0m0-1h0m1 0h0m0-1h0m1-4h0m0 6h0m0-5h0m1 3h0m0 4h0m1 0h0m0-12h0m0 6h0m1-2h0m0 6h0m1-4h0m0 7h0m0-6h0m1 4h0m0-6h0m1 1h0m0 2h0m1 3h0m0-11h0m0 10h0m1-7h0m0 7h0m1-8h0m0 6h0m0 7h0m1 1h0m0-11h0m1 12h0m0-9h0m0 2h0m1 2h0m0-1h0m1 1h0m0-1h0m1 3h0m0-3h0m0-3h0m1-2h0m1 4h0m0 4h0m0-2h0m1-3h0m0 4h0m1-5h0m0 3h0m0 2h0m1-4h0m0 8h0m1-1h0m0-6h0m1 4h0m0-2h0m0 1h0m1 0h0m0 4h0m1-4h0m0 3h0m1 0h0m0 3h0m1-10h0m0 6h0m0-11h0m1 8h0m0-5h0m1 0h0m0 5h0m1-4h0m0 3h0m0-10h0m1 18h0m0-18h0m1 9h0m0 10h0m0-13h0m1 13h0m0-2h0m1-5h0m0-1h0m1 2h0m0 3h0m1 2h0m0-15h0m1 13h0m0-1h0m0-8h0m1 9h0m0 1h0m1 0h0m0-4h0m0 3h0m1 2h0m0-8h0m1 1h0m0 7h0m1-5h0m0-3h0m1-1h0m0-1h0m1 6h0m0 3h0m0 2h0m1-10h0m1 1h0m0-3h0m1 13h0m0-4h0m1-4h0m0-9h0m0 16h0m1-2h0m0-3h0m1 3h0m0-6h0m1 6h0m0-5h0m0 4h0m1-3h0m0-4h0m1 1h0m0 9h0m0-1h0m1-4h0m0-3h0m1 2h0m0 3h0m0-7h0m1 10h0m0-8h0m1-1h0m0 5h0m1 8h0m0-11h0m0 1h0m1-3h0m0 6h0m1 0h0m0-1h0m0-2h0m1 4h0m0 1h0m1-5h0m0 1h0m1-1h0m0 7h0m1-9h0m0 5h0m1 4h0m0-7h0m0 5h0m1 1h0m0-9h0m1 10h0m0-8h0m0 4h0m1-6h0m0-1h0m1 6h0m0 8h0m0 4h0m1 0h0m0-5h0m1-1h0m0-2h0m1 0h0m0-4h0m1 3h0m0 1h0m1-5h0m0-2h0m1 18h0m0-16h0m1 9h0m0-1h0m0-1h0m1-6h0m0 10h0m1-7h0m0-3h0m1-1h0m0 3h0m0 9h0m1-14h0m0 3h0m1 3h0m0 2h0m0-7h0m1 1h0m0 2h0m1 5h0m0-4h0m1 2h0m0-1h0m1 4h0m0-7h0m1 3h0m0-2h0m0 5h0m1 1h0m0-5h0m1 6h0m0-5h0m0 6h0m1-7h0m1-4h0m0 2h0m0 2h0m1-7h0m0 9h0m1 3h0m0-1h0m1-1h0m0 2h0m0-5h0m1 0h0m0 6h0m1-4h0m0 4h0m0-6h0m1 5h0m0 2h0m1-5h0m0 7h0m1-16h0m0 20h0m1-17h0m0 17h0m1-14h0m0-4h0m0 3h0m1 7h0m0-6h0m1 2h0m0 7h0m0-9h0m1 6h0m0 3h0m1-12h0m0 3h0m1 5h0m0-1h0m0 2h0m1-9h0m0 4h0m1 5h0m0 1h0m0 3h0m1-7h0m0-1h0m1-1h0m0-4h0m1 15h0m0-9h0m1-1h0m0 1h0m1 4h0m0-1h0m0-4h0m1 7h0m0-2h0m1-2h0m0 1h0m0 4h0m1-2h0m0-3h0m1 5h0m0-13h0m0 12h0m1-6h0m0 1h0m1 1h0m0 8h0m1-7h0m0 3h0m1-10h0m0 7h0m1 3h0m0-6h0m1 1h0m0-3h0m1 9h0m0-3h0m1 1h0m0-5h0m1 8h0m0-2h0m1 0h0m0-3h0m0-3h0m1 10h0m0-2h0m1-3h0m0-2h0m0 7h0m1-8h0m1 11h0m0-6h0m0 2h0m1-1h0m0 5h0m1-6h0m1-5h0m0 4h0m0-6h0m1 4h0m0 2h0m1 3h0m0 2h0m0-8h0m1-1h0m0 5h0m1-4h0m0 10h0m0-2h0m1-8h0m0 4h0m1 4h0m0-8h0m1 2h0m0 1h0m0 6h0m1-3h0m0-3h0m1 2h0m0-1h0m1 2h0m0-1h0m1 2h0m0-3h0m0-1h0m1 0h0m0-5h0m1 5h0m0 8h0m1-7h0m0 3h0m0 1h0m1-5h0m0 1h0m1 3h0m0-6h0m0 7h0m1 0h0m0-2h0m1 0h0m0 2h0m1-12h0m0 11h0m1-5h0m0 2h0m1 0h0m0-5h0m1 0h0m0 7h0m1 0h0m0 2h0m0-7h0m1 4h0m0 4h0m1-4h0m0-1h0m0 10h0m1-14h0m0 4h0m1-1h0m0 2h0m1 14h0m0-16h0m0 3h0m1-1h0m0-1h0m1 6h0m0-4h0m0 5h0m1 2h0m0-7h0m1 7h0m0-10h0m0 6h0m1 3h0m0-8h0m1 4h0m0 2h0m1 0h0m0-1h0m0 7h0m1-8h0m0 5h0m1 3h0m0-10h0m0 1h0m1-2h0m0 6h0m1 3h0m0-12h0m0 3h0m1 2h0m0 10h0m1-9h0m0 2h0m1-5h0m0 7h0m1-3h0m0-4h0m1 4h0m0 1h0m1 0h0m0 6h0m1-9h0m0 8h0m0-4h0m1-2h0m0 2h0m1 0h0m0 2h0m1 0h0m0-1h0m0-1h0m1-7h0m0 10h0m1 1h0m0-3h0m1-5h0m0 5h0m1 2h0m0-8h0m0 3h0m1 0h0m0 6h0m1-6h0m0-5h0m1 8h0m0 4h0m0-6h0m1-1h0m0 3h0m1 5h0m0-7h0m1 3h0m0-5h0m1-3h0m0 7h0m0-2h0m1 3h0m0-1h0m1 2h0m0-6h0m1 5h0m0-5h0m1 2h0m0 8h0m1-9h0m0-5h0m0 9h0m1-3h0m0-1h0m1 4h0m0 5h0m0-6h0m1-2h0m0 8h0m1-1h0m0-4h0m1-3h0m0 5h0m1-5h0m1 5h0m0 3h0m0-5h0m1 6h0m0-13h0m1 7h0m0-6h0m1 9h0m0 2h0m0-12h0m1 4h0m0 3h0m1-5h0m0 2h0m0-1h0m1 4h0m0-3h0m1-1h0m0 1h0m0 3h0m1 0h0m0-1h0m1 6h0m0-6h0m1 2h0m0 1h0m0-3h0m1 6h0m0-2h0m1 0h0m0-6h0m0 3h0m1 3h0m0 2h0m1-7h0m0 1h0m0-3h0m1-1h0m0 10h0m1-4h0m0 2h0m1 2h0m0-4h0m0 1h0m1-5h0m0 2h0m1 4h0m0 3h0m0-1h0m1-6h0m1 5h0m0-1h0m1 0h0m0 3h0m1-3h0m0 4h0m1-3h0m0-2h0m0-4h0m1 5h0m0 2h0m1-2h0m0-4h0m0-4h0m1 6h0m0 8h0m1-11h0m0 3h0m0 2h0m1 3h0m0-7h0m1 4h0m0 1h0m1-6h0m0 6h0m0-5h0m1 4h0m0 2h0m1-2h0m0-5h0m0 7h0m1 0h0m0-2h0m1 3h0m0-5h0m0-1h0m1 2h0m0 3h0m1 1h0m0-5h0m1 3h0m0-3h0m1-5h0m0 1h0m1 10h0m0-9h0m0-1h0m1 1h0m0 4h0m1 6h0m0-3h0m0-3h0m1 0h0m0 3h0m1-1h0m0-7h0m1 11h0m0-1h0m0-7h0m1 3h0m0 2h0m1 0h0m0-3h0m0 2h0m1 6h0m0-7h0m1 4h0m0-2h0m0-5h0m1 6h0m0-1h0m1 3h0m0 2h0m1-2h0m0-3h0m0 1h0m1 1h0m0-6h0m1 0h0m0 6h0m0-7h0m1 3h0m0 8h0m1-3h0m0 1h0m0-5h0m1 5h0m0-8h0m1 1h0m0 2h0m1-2h0m0 7h0m0-5h0m1-4h0m0 8h0m1-1h0m0 2h0m0-9h0m1 1h0m0-5h0m1 10h0m0-2h0m0-1h0m1 6h0m0-7h0m1 1h0m0-2h0m1 0h0m0 3h0m1-1h0m0-2h0m1-1h0m0 2h0m0 2h0m1-2h0m0 1h0m1 0h0m0-2h0m0-2h0m1 5h0m0 6h0m1-3h0m0-3h0m1-2h0m0 1h0m0 6h0m1-8h0m0 10h0m1-6h0m0 1h0m0-2h0m1 5h0m1-6h0m0 9h0m0-6h0m1-6h0m0 7h0m1 0h0m0-1h0m1 3h0m0 1h0m0-9h0m1 4h0m1 1h0m0-7h0m0 8h0m1-1h0m0 7h0m1-10h0m0 1h0m0 3h0m1-1h0m0 3h0m1 1h0m0-7h0m1 3h0m0 2h0m0-5h0m1 11h0m0-7h0m1 0h0m0-6h0m0 3h0m1-5h0m0 9h0m1-5h0m0 3h0m0 1h0m1 0h0m0-2h0m1 4h0m0-7h0m1-3h0m0 2h0m0 8h0m1 2h0m0-7h0m1 0h0m0 3h0m0-6h0m1 3h0m0-3h0m1 5h0m0-11h0m0 6h0m1-1h0m0 6h0m1 2h0m0-2h0m1 7h0m0-7h0m0-3h0m1 1h0m0 4h0m1 0h0m0 6h0m0-7h0m1-4h0m0-1h0m1 7h0m0-13h0m1 12h0m0 1h0m0-4h0m1 2h0m0 4h0m1 1h0m0-1h0m0-1h0m1-4h0m0-4h0m1-3h0m0 14h0m0-3h0m1-8h0m0 8h0m1-5h0m1-3h0m0 12h0m0-13h0m1 1h0m0 7h0m1 0h0m0-1h0m0-5h0m1 3h0m0-3h0m1 2h0m0 8h0m0-5h0m1 1h0m0-6h0m1 2h0m0 3h0m1 3h0m0-5h0m0 6h0m1 3h0m0-15h0m1 7h0m0 2h0m0-3h0m1 7h0m0-6h0m1 1h0m0-7h0m0 9h0m1-5h0m0 3h0m1-2h0m0-2h0m1 2h0m0-4h0m1 9h0m0-1h0m1-7h0m0 7h0m0-5h0m1-1h0m0 5h0m1 0h0m0-5h0m0 6h0m1-3h0m0 8h0m1-14h0m0 5h0m1 0h0m0-2h0m0-2h0m1 9h0m0-3h0m1-6h0m0 3h0m1 3h0m0-5h0m1 9h0m0-5h0m1 2h0m0-3h0m1 0h0m0 2h0m1-1h0m0 1h0m0 2h0m1 1h0m0-8h0m1-2h0m0 3h0m0 7h0m1-5h0m0-1h0m1 3h0m0 2h0m0-7h0m1 0h0m0 4h0m1 0h0m0-3h0m1 11h0m0-4h0m0-5h0m1 3h0m0-6h0m1 7h0m0-4h0m0-2h0m1-2h0m0 8h0m1-3h0m0-2h0m0 6h0m1-5h0m0 2h0m1-3h0m0 3h0m1-5h0m0 2h0m0 2h0m1-3h0m0 1h0m1 5h0m0-5h0m0 6h0m1-2h0m0-2h0m1-5h0m0 10h0m1-4h0m1-1h0m0-1h0m1 0h0m0 3h0m0-7h0m1 5h0m0 2h0m1-8h0m0 4h0m1-3h0m0 7h0m1-6h0m0 13h0m0-10h0m1-2h0m0 2h0m1 1h0m0 1h0m1 0h0m0 3h0m1 0h0m0-4h0m1 1h0m0-4h0m0 1h0m1 1h0m0 6h0m1-8h0m0 4h0m0-1h0m1 3h0m0-5h0m1 1h0m0 5h0m1-3h0m0-3h0m0 6h0m1-3h0m0-3h0m1 5h0m0 4h0m0-8h0m1-2h0m0-5h0m1 15h0m0-9h0m0 1h0m1-2h0m0 3h0m1-4h0m0 10h0m1-3h0m0-5h0m0-2h0m1 6h0m0-5h0m1 8h0m0-4h0m0-1h0m1-4h0m0 5h0m1-6h0m0 9h0m0-11h0m1 6h0m0 10h0m1-11h0m0 5h0m1 1h0m0-2h0m0-2h0m1 4h0m1-6h0m0 8h0m0-1h0m1-8h0m0 5h0m1 0h0m0-1h0m0-3h0m1-2h0m0 6h0m1-7h0m0 3h0m1-5h0m0 5h0m0 3h0m1-6h0m0 8h0m1 1h0m0-2h0m0 1h0m1 3h0m0-3h0m1-9h0m0 6h0m0-2h0m1 3h0m0-7h0m1 7h0m0-1h0m1 2h0m0-5h0m0 3h0m1-7h0m0 7h0m1 0h0m0-4h0m0 5h0m1-5h0m0 6h0m1-4h0m0 1h0m1 7h0m0-3h0m1 1h0m0-4h0m1 6h0m0-4h0m0-1h0m1-2h0m0-3h0m1 7h0m0-3h0m0 2h0m1-2h0m0 3h0m1-4h0m0 3h0m1 2h0m0 1h0m0-4h0m1-4h0m0 9h0m1-1h0m0-6h0m0 7h0m1-3h0m0-5h0m1 4h0m0-5h0m0 3h0m1 0h0m0 1h0m1 4h0m0-9h0m1-6h0m0 14h0m0-4h0m1 4h0m1 3h0m0-13h0m1 7h0m0-2h0m1 8h0m0-1h0m0-10h0m1 3h0m0 7h0m1-10h0m0 7h0m1 0h0m0-2h0m0-2h0m1 5h0m0-4h0m1-2h0m0 5h0m0-7h0m1 4h0m0 3h0m1-7h0m0 10h0m0-4h0m1-1h0m0-3h0m1 4h0m0-2h0m1 3h0m0-4h0m0 3h0m1-6h0m1 2h0m0-4h0m0 6h0m1 1h0m0-6h0m1 5h0m0-2h0m1 7h0m0-6h0m1 2h0m0-2h0m1 0h0m0 1h0m0 1h0m1-1h0m0 4h0m1-4h0m0 1h0m0 6h0m1-5h0m0 2h0m1-1h0m0-3h0m0 6h0m1-4h0m1-1h0m0 1h0m1 2h0m0-10h0m0 12h0m1-12h0m0 3h0m1 6h0m0-2h0m0 3h0m1-7h0m0 4h0m1 2h0m0-5h0m0 1h0m1 3h0m0 1h0m1-11h0m0 8h0m1 2h0m0 4h0m0-9h0m1 5h0m0-5h0m1 1h0m0 1h0m0 8h0m1-4h0m0 2h0m1-4h0m0 4h0m0-3h0m1 2h0m0-8h0m1 3h0m0 5h0m1 5h0m0-11h0m1 3h0m1 10h0m0-12h0m0 4h0m1 3h0m0-2h0m1-7h0m0 12h0m0-15h0m1 9h0m0-3h0m1-3h0m0 3h0m1 0h0m0-2h0m1 3h0m0 1h0m1-8h0m0 6h0m0 2h0m1 3h0m0 1h0m1-10h0m0 4h0m0 3h0m1 2h0m0 3h0m1-7h0m0-3h0m1 4h0m0 1h0m0-3h0m1-1h0m0 5h0m1-7h0m0 3h0m0 3h0m1 0h0m0-1h0m1-3h0m0-10h0m1 16h0m1 3h0m0-4h0m1 3h0m0-5h0m0 2h0m1 6h0m0-10h0m1 0h0m0 7h0m0-1h0m1-9h0m0 10h0m1-7h0m0 6h0m1-2h0m0 1h0m1 3h0m0-2h0m1-12h0m0 10h0m0 1h0m1-2h0m0-1h0m1 2h0m0-1h0m1-1h0m0-3h0m1 4h0m0-3h0m0 6h0m1-5h0m1-3h0m0 4h0m1 3h0m0-6h0m0 8h0m1-4h0m0-1h0m1 3h0m0-1h0m0-8h0m1 10h0m0-1h0m1-2h0m0-11h0m0-3h0m1 7h0m0 10h0m1 0h0m0-3h0m1 0h0m0-8h0m1 4h0m0 3h0m1-3h0m0 7h0m0-4h0m1 2h0m0-1h0m1-3h0m0-2h0m1 0h0m0 2h0m0 3h0m1 7h0m0-6h0m1-1h0m0 3h0m0-7h0m1 5h0m1-9h0m0 9h0m0-3h0m1 2h0m0-1h0m1 2h0m0-4h0m1 6h0m0 1h0m0-7h0m1 4h0m0-2h0m1 6h0m0-8h0m0 4h0m1-1h0m0-5h0m1 9h0m0-3h0m0-5h0m1 7h0m0 1h0m1-9h0m0 4h0m1 0h0m0 1h0m1-1h0m0-5h0m1 6h0m0-4h0m0 2h0m1 4h0m0 5h0m1-2h0m0-7h0m0 2h0m1 5h0m0-2h0m1 1h0m0-6h0m1 5h0m0 3h0m1 1h0m0-9h0m1 8h0m0-6h0m0 1h0m1 5h0m0-4h0m1 1h0m0 4h0m0 2h0m1-6h0m0-6h0m1 5h0m0-3h0m1 0h0m0 3h0m0-2h0m1 1h0m0-1h0m1 0h0m0-6h0m0 5h0m1 1h0m0 6h0m1-3h0m0-2h0m0-3h0m1 4h0m0-7h0m1 8h0m0-5h0m1 0h0m0 6h0m0-4h0m1 0h0m0-4h0m1 9h0m0-14h0m0 11h0m1-1h0m0 1h0m1-4h0m0-1h0m0 10h0m1-5h0m0 2h0m1-10h0m0 10h0m1 2h0m0-3h0m0-9h0m1 2h0m0-5h0m1 10h0m0 3h0m1-6h0m0-1h0m1 6h0m0-7h0m0 11h0m1-5h0m0 3h0m1-4h0m0-2h0m1 3h0m0-5h0m0 2h0m1 1h0m0-3h0m1 5h0m0-6h0m0-3h0m1 6h0m0 1h0m1-1h0m0 1h0m1 1h0m0-1h0m1 0h0m0-6h0m1 8h0m0 2h0m0-6h0m1-1h0m0 6h0m1-5h0m0 3h0m0 1h0m1 2h0m0 7h0m1-11h0m0-11h0m0 12h0m1-3h0m0 5h0m1-1h0m0 2h0m1-4h0m0 4h0m0-5h0m1 4h0m0-7h0m1 1h0m0 3h0m0 2h0m1-5h0m0 3h0m1 2h0m0 1h0m0-7h0m1 11h0m0-8h0m1 3h0m0 3h0m1-8h0m0-4h0m0 11h0m1-9h0m0 6h0m1-4h0m0 10h0m0-6h0m1 5h0m0-4h0m1-4h0m0 5h0m0-7h0m1 2h0m0 5h0m1 0h0m0-6h0m1 2h0m0-4h0m1 9h0m0-9h0m1 5h0m1-11h0m0 11h0m1-2h0m0 7h0m0-10h0m1 8h0m0-1h0m1-5h0m0 4h0m1 1h0m0-7h0m0-2h0m1 6h0m0 3h0m1-1h0m0-1h0m0-2h0m1 0h0m0 5h0m1-1h0m0 4h0m1-6h0m0-1h0m1 1h0m0 5h0m1-7h0m0 1h0m0 2h0m1 1h0m0 3h0m1-5h0m0 8h0m1-7h0m1 4h0m0-2h0m0-2h0m1-5h0m0-1h0m1 6h0m1-2h0m0 2h0m0-4h0m1 4h0m0 4h0m1-3h0m0-2h0m0 1h0m1 2h0m0-5h0m1 0h0m0-1h0m1-3h0m0 10h0m0-2h0m1-5h0m0 9h0m1-9h0m0 4h0m1 4h0m0-3h0m1 0h0m0 6h0m1-16h0m0 6h0m1 2h0m0 2h0m1-2h0m0 3h0m1 0h0m0-5h0m1 7h0m0-5h0m0 1h0m1 7h0m0-2h0m1-13h0m0 10h0m0 1h0m1-2h0m0-4h0m1 7h0m0-7h0m1 2h0m0-3h0m0 2h0m1-4h0m0 9h0m1-6h0m0 2h0m0-1h0m1 6h0m0 2h0m1-5h0m0-1h0m1-4h0m0-1h0m1 2h0m0 2h0m1-3h0m0 2h0m0 1h0m1 2h0m0-2h0m1-2h0m0 1h0m0-4h0m1 9h0m0-2h0m1-1h0m0-7h0m0 4h0m1 2h0m0-2h0m1 4h0m0-8h0m1 7h0m0 3h0m0-6h0m1 0h0m0-3h0m1 6h0m0-2h0m1-2h0m0 4h0m1-1h0m0-1h0m0-1h0m1 3h0m0-3h0m1-1h0m0 1h0m1 0h0m0-3h0m0 11h0m1-1h0m0-11h0m1 3h0m0-1h0m0 9h0m1-7h0m0 3h0m1-4h0m0 2h0m0 4h0m1 4h0m0-7h0m1 5h0m1-1h0m0-7h0m1 7h0m0-3h0m1-8h0m0 9h0m0-2h0m1-3h0m0 5h0m1-5h0m0 1h0m1 7h0m0-7h0m1 8h0m0-4h0m1 3h0m0-4h0m0-1h0m1 1h0m0 2h0m1-1h0m0 1h0m0-6h0m1 7h0m0 2h0m1-3h0m0-1h0m1-4h0m0-1h0m1 3h0m0 1h0m1-1h0m0 2h0m0-4h0m1 2h0m0-3h0m1-1h0m0 9h0m0-4h0m1-1h0m0-3h0m1 5h0m0 5h0m0-9h0m1 1h0m0 3h0m1-5h0m0-4h0m1 10h0m0-3h0m0 4h0m1-1h0m0-2h0m1-6h0m0 10h0m0-3h0m1-1h0m1 0h0m0 1h0m0-5h0m1 4h0m0-4h0m1 1h0m0 3h0m1-2h0m0 2h0m0-1h0m1-2h0m0 5h0m1-1h0m0-2h0m0-2h0m1 8h0m0-10h0m1 7h0m0-5h0m1 2h0m0 7h0m1-5h0m0-2h0m1-2h0m0 5h0m0-2h0m1-6h0m0 2h0m1-2h0m0 11h0m1-6h0m0 5h0m1-5h0m1 3h0m0-4h0m1 3h0m0-1h0m1-6h0m0 1h0m0 8h0m1-4h0m0-1h0m1 2h0m0-1h0m1 4h0m0-5h0m1 3h0m0 3h0m1-11h0m0 12h0m1-9h0m0 3h0m1 3h0m0 5h0m0-4h0m1-2h0m0-2h0m1 0h0m0-2h0m0 6h0m1-3h0m0 1h0m1-5h0m0 5h0m0-6h0m1 7h0m0 5h0m1-10h0m1 8h0m0-6h0m1-3h0m0 6h0m1 2h0m0-2h0m0-4h0m1-6h0m0 9h0m1-3h0m0 3h0m1 6h0m0-11h0m0 4h0m1 3h0m0 5h0m1-7h0m0 4h0m0-7h0m1 4h0m0-1h0m1 3h0m0-3h0m1 4h0m0-3h0m1-1h0m0 1h0m1-1h0m0 4h0m0-1h0m1-5h0m0 3h0m1-6h0m0 3h0m0 3h0m1 4h0m0-3h0m1 2h0m0-5h0m0 6h0m1-2h0m0-4h0m1 0h0m0 1h0m1-4h0m0 2h0m1 4h0m0-1h0m1 6h0m0-2h0m0-5h0m1 5h0m0-5h0m1 0h0m0 3h0m0 7h0m1-9h0m0 7h0m1-7h0m0 4h0m1 1h0m0-2h0m1-3h0m0-5h0m1 6h0m0 6h0"/>
<path fill="none" stroke="#800080" stroke-width="3.3" stroke-linecap="round" d="M250 969.5h0m1-4h0m0 9h0m1 6h0m0 6h0m0-7h0m1-5h0m0-1h0m1 12h0m0 8h0m1-10h0m0-12h0m0 3h0m1 21h0m0-11h0m1-15h0m0 14h0m0-8h0m1 5h0m0 1h0m1-1h0m0 11h0m0-5h0m1-3h0m0 8h0m1 4h0m0-19h0m1 11h0m0-5h0m0 7h0m1-8h0m0 10h0m1 0h0m0-1h0m0-6h0m1 6h0m0-5h0m1-2h0m0 13h0m0-10h0m1 19h0m0-3h0m1-21h0m0 18h0m1-10h0m0 9h0m0 1h0m1-16h0m0 14h0m1 1h0m0 10h0m0-17h0m1 16h0m0-14h0m1 6h0m0-3h0m0 18h0m1-7h0m0 15h0m1-13h0m0 2h0m1 0h0m0-11h0m0 5h0m1 11h0m0-13h0m1 5h0m0-1h0m0 5h0m1-7h0m0 2h0m1 3h0m0-8h0m1 14h0m0-16h0m1 1h0m0-1h0m1 18h0m0-10h0m0-4h0m1-1h0m0 12h0m1-11h0m0-1h0m0 15h0m1-14h0m0 7h0m1 3h0m0-4h0m1 15h0m0-14h0m1-6h0m0-4h0m1 13h0m0-1h0m0 5h0m1-5h0m1-2h0m0 2h0m0 5h0m1-3h0m0 3h0m1 15h0m0-11h0m0-16h0m1 26h0m0-11h0m1-9h0m0 14h0m1-6h0m0-5h0m1-3h0m0 9h0m1 8h0m0-11h0m0 6h0m1 11h0m0-23h0m1 11h0m0-4h0m0-6h0m1 1h0m0 8h0m1 3h0m0-7h0m1 5h0m0 5h0m0-3h0m1 5h0m0-3h0m1 0h0m0 10h0m0-9h0m1-3h0m0 4h0m1-12h0m0 5h0m0 8h0m1-1h0m0 7h0m1-11h0m0-11h0m1 26h0m0-7h0m0-16h0m1 19h0m0-10h0m1-14h0m0 10h0m1 16h0m0-18h0m1 4h0m0-1h0m1-4h0m0 9h0m1 6h0m0-3h0m1-12h0m0-2h0m0 10h0m1-6h0m1-8h0m0 28h0m0-8h0m1-14h0m0 14h0m1 3h0m0-28h0m0 14h0m1 1h0m0 8h0m1-6h0m0-1h0m1 1h0m0 15h0m0 2h0m1-20h0m0-3h0m1 27h0m0-27h0m0 3h0m1 4h0m0 4h0m1 4h0m0-5h0m1-10h0m0 11h0m0-2h0m1 12h0m0-14h0m1-10h0m0 2h0m0 19h0m1-15h0m0-12h0m1 12h0m0 4h0m0 9h0m1-17h0m0 13h0m1 1h0m0-11h0m1 3h0m0 15h0m0-1h0m1-6h0m0-4h0m1 6h0m0-10h0m1-6h0m0 7h0m1-1h0m0 21h0m0-22h0m1 10h0m1-11h0m0 10h0m1-25h0m0 17h0m0 5h0m1-24h0m0 9h0m1 16h0m0-10h0m0-6h0m1 5h0m0-2h0m1 9h0m0-2h0m0-6h0m1-3h0m0 5h0m1 9h0m0-7h0m1 2h0m0-6h0m0-9h0m1 4h0m0 10h0m1-4h0m0-8h0m0-5h0m1 12h0m0-3h0m1-1h0m0 4h0m1 0h0m0 5h0m1-1h0m0 3h0m1-4h0m0-9h0m0 2h0m1 3h0m0-6h0m1 6h0m0 4h0m0-14h0m1-8h0m0 21h0m1-8h0m0 4h0m0-15h0m1 22h0m0-8h0m1-6h0m0-2h0m1 3h0m0-3h0m0-1h0m1-6h0m0 16h0m1-9h0m1-18h0m0 20h0m1-6h0m0 2h0m1-8h0m0 13h0m1-12h0m0-1h0m1-1h0m0 7h0m0 4h0m1-10h0m0-7h0m1 18h0m0-15h0m1 6h0m0-5h0m1 0h0m0 8h0m0 2h0m1-8h0m0 8h0m1 8h0m0-17h0m1-7h0m0-3h0m1 5h0m0-1h0m1-5h0m0 13h0m0-23h0m1 9h0m0 23h0m1-7h0m0-4h0m0-1h0m1 9h0m0-9h0m1-4h0m0-10h0m1 8h0m0-5h0m0-1h0m1 0h0m0 4h0m1-2h0m0 8h0m0-16h0m1 7h0m0 14h0m1-13h0m0 7h0m0-1h0m1 1h0m0-5h0m1-15h0m0 7h0m1-1h0m0-9h0m0 7h0m1-6h0m0-4h0m1 13h0m0-2h0m0-5h0m1-3h0m0 2h0m1 1h0m0-1h0m0 2h0m1-3h0m0 5h0m1 0h0m0-2h0m1-8h0m0 6h0m1-4h0m1-17h0m0-2h0m0 19h0m1 0h0m0 6h0m1-5h0m0-4h0m0-2h0m1-10h0m0 14h0m1-11h0m0 7h0m1-3h0m0-1h0m0 3h0m1-9h0m1-4h0m0 2h0m0 12h0m1-14h0m0 9h0m1-3h0m0-2h0m1-12h0m0 7h0m1 6h0m0-14h0m1 2h0m0-5h0m1-4h0m0 14h0m1-12h0m0-8h0m0 17h0m1-6h0m0-3h0m1-2h0m0-6h0m0-1h0m1 4h0m1-1h0m0-6h0m1-5h0m0 1h0m0 5h0m1 1h0m0-11h0m1-2h0m0 7h0m0-4h0m1-2h0m0-11h0m1 3h0m0-2h0m1-9h0m0 13h0m1-6h0m0-1h0m1-9h0m0 4h0m0 5h0m1-16h0m0 8h0m1 1h0m0-9h0m0 6h0m1-7h0m0 6h0m1-5h0m0-3h0m1 7h0m0-7h0m0 1h0m1-13h0m0 1h0m1 5h0m0-1h0m0-6h0m1 3h0m0-10h0m1 4h0m0-8h0m0 6h0m1-6h0m0-2h0m1 2h0m0 6h0m1-14h0m0 7h0m1-9h0m0 9h0m1-9h0m0-2h0m1 5h0m0-7h0m1-2h0m0-3h0m0-11h0m1 2h0m0 10h0m1-5h0m0-3h0m1-1h0m0-8h0m0 3h0m1-8h0m0 4h0m1-7h0m0 1h0m0 1h0m1-6h0m0 3h0m1-3h0m0-3h0m1-14h0m0-2h0m1 9h0m0-1h0m1 3h0m0-10h0m0-2h0m1-12h0m0 5h0m1-3h0m0-12h0m0-3h0m1 2h0m0-1h0m1-21h0m0 14h0m0-2h0m1-4h0m1-1h0m0-10h0m1 6h0m0-6h0m0-5h0m1 4h0m0 6h0m1-18h0m0-3h0m0-2h0m1 19h0m0-14h0m1 0h0m0-6h0m0-3h0m1-7h0m0 11h0m1-1h0m0-15h0m1 4h0m0 2h0m1 0h0m0 3h0m1 0h0m0-4h0m0-1h0m1-17h0m0 2h0m1 8h0m0-8h0m0-3h0m1-14h0m0-1h0m1 14h0m0-4h0m1-5h0m0-3h0m0-9h0m1 11h0m0 3h0m1 2h0m0-11h0m0-3h0m1-7h0m0 13h0m1 2h0m0-16h0m0 5h0m1-3h0m0-5h0m1-13h0m0 13h0m1 6h0m0-14h0m0 3h0m1-16h0m0 30h0m1-5h0m0-3h0m0-2h0m1-2h0m0 4h0m1-1h0m0 1h0m0 2h0m1 1h0m0 10h0m1-19h0m0 12h0m1-5h0m0-2h0m0-7h0m1 19h0m0-9h0m1 3h0m0 8h0m1 0h0m1 7h0m0 2h0m0-10h0m1 12h0m0-5h0m1 3h0m0-1h0m1 8h0m0-11h0m0 12h0m1 8h0m0-7h0m1 16h0m0-14h0m0 7h0m1-2h0m0 1h0m1-1h0m0 6h0m0 5h0m1-2h0m0 13h0m1 6h0m0-15h0m1 17h0m0-1h0m0 4h0m1 16h0m0-4h0m1-2h0m0 2h0m0-10h0m1 20h0m0-5h0m1 9h0m0 3h0m0 8h0m1 10h0m0-2h0m1 5h0m0-5h0m1 8h0m0 6h0m0-8h0m1 23h0m0-11h0m1 1h0m0 20h0m0 7h0m1-12h0m0 4h0m1 25h0m0-13h0m0-8h0m1 11h0m0 18h0m1-3h0m0 4h0m1 6h0m0 1h0m1-4h0m0 15h0m1-4h0m0 10h0m0 14h0m1-2h0m0 3h0m1 4h0m0 8h0m0 6h0m1-7h0m0 12h0m1 13h0m0-1h0m1-3h0m0 4h0m0-2h0m1 11h0m0 16h0m1-4h0m0 1h0m0 5h0m1 7h0m0 4h0m1 3h0m0 2h0m0 11h0m1 8h0m0-7h0m1 3h0m0 12h0m1-10h0m0 7h0m0 4h0m1 6h0m0 1h0m1 0h0m0 8h0m0-4h0m1 0h0m0 1h0m1 17h0m0-9h0m1 14h0m0 4h0m0 4h0m1-1h0m0 1h0m1 7h0m1 16h0m0-8h0m1 17h0m0-4h0m0-2h0m1 7h0m0 6h0m1-11h0m0 4h0m1 1h0m0 8h0m0 3h0m1 0h0m0-2h0m1 3h0m0 10h0m0 1h0m1-3h0m0-6h0m1 11h0m0 1h0m1 9h0m0-3h0m1-8h0m0 2h0m1 13h0m0-4h0m0 5h0m1-4h0m0-3h0m1 8h0m0 9h0m0-5h0m1-6h0m0 5h0m1 1h0m0 5h0m0 5h0m1 7h0m0-8h0m1-2h0m0 4h0m1 1h0m0-1h0m0 3h0m1 1h0m0-5h0m1 10h0m0-3h0m0-2h0m1 8h0m0-4h0m1 13h0m0-6h0m0-1h0m1-3h0m0 2h0m1 8h0m0-7h0m1 8h0m0-14h0m0 13h0m1 4h0m0-1h0m1-1h0m0 6h0m0-9h0m1 0h0m0 7h0m1 6h0m0-3h0m0-2h0m1 3h0m0 2h0m1-8h0m0-8h0m1 10h0m0-1h0m0 5h0m1-2h0m0 3h0m1 7h0m0-1h0m1 10h0m0-10h0m1 1h0m0 10h0m0-12h0m1-2h0m0 17h0m1-4h0m0 2h0m1 1h0m0 3h0m0-7h0m1 3h0m0-4h0m1 7h0m0 2h0m0-3h0m1 7h0m0 13h0m1-21h0m0 11h0m0 2h0m1 1h0m0-9h0m1 11h0m0-2h0m1-3h0m0-1h0m0 4h0m1 5h0m1 8h0m0-13h0m0 6h0m1-6h0m0 8h0m1-3h0m0-4h0m0-3h0m1 3h0m0 6h0m1 8h0m0-4h0m1-10h0m0 5h0m0 3h0m1-1h0m0 2h0m1 4h0m0-2h0m0-5h0m1-6h0m0 9h0m1-7h0m0 9h0m0 3h0m1-9h0m0 7h0m1-1h0m0 13h0m1-8h0m0-12h0m0 13h0m1 0h0m0-3h0m1 0h0m0 6h0m1-1h0m0-7h0m1 4h0m0-6h0m1 6h0m0-3h0m1 4h0m0 17h0m1-11h0m0-7h0m0-7h0m1 8h0m0-3h0m1-4h0m0 16h0m0-6h0m1 5h0m0 15h0m1-15h0m0 1h0m1-3h0m0-3h0m1 4h0m0 8h0m1-7h0m0-6h0m0 1h0m1 1h0m0 6h0m1 3h0m0 1h0m0 4h0m1-7h0m0 6h0m1-3h0m0 3h0m0-14h0m1 17h0m0-15h0m1 3h0m0 11h0m1-6h0m0 12h0m0-9h0m1-6h0m0 7h0m1-3h0m0 11h0m0 1h0m1-5h0m0-6h0m1 3h0m0 6h0m0-10h0m1 0h0m0 9h0m1 0h0m0-5h0m1 0h0m0-9h0m0 18h0m1-7h0m0-7h0m1 2h0m0 1h0m0 15h0m1-6h0m0-10h0m1 17h0m0-2h0m0-13h0m1-9h0m0 20h0m1-8h0m0 3h0m1-2h0m0 10h0m0 1h0m1-3h0m0-5h0m1 2h0m0 3h0m0-12h0m1 15h0m0-8h0m1 4h0m0-1h0m1 5h0m0 1h0m0 6h0m1-14h0m0-3h0m1 6h0m0-4h0m0 9h0m1-9h0m0 5h0m1 5h0m0 1h0m0-5h0m1 7h0m1-16h0m0 11h0m1-1h0m0-2h0m0-2h0m1 4h0m0 2h0m1 0h0m0 6h0m0-2h0m1-8h0m0-1h0m1 9h0m0-8h0m0 5h0m1 2h0m0 3h0m1-3h0m0 6h0m1-10h0m0 6h0m0-7h0m1 5h0m1-6h0m0-9h0m0 20h0m1-3h0m0-1h0m1-5h0m0 3h0m0 4h0m1-2h0m0 7h0m1-6h0m0-5h0m1 8h0m0-7h0m0 5h0m1-11h0m0 9h0m1 5h0m0-7h0m0 4h0m1 4h0m0-3h0m1 9h0m0-11h0m0 1h0m1 0h0m0-9h0m1 2h0m0 12h0m1-5h0m0 10h0m0-8h0m1-1h0m0 7h0m1-4h0m0 8h0m0-15h0m1 9h0m0 1h0m1 0h0m0 3h0m0-1h0m1-5h0m0-3h0m1 9h0m0-5h0m1 5h0m0 2h0m0-6h0m1-6h0m0 4h0m1 5h0m0-5h0m0 8h0m1-6h0m1-4h0m0 3h0m0 7h0m1-8h0m1-2h0m0 8h0m1-12h0m0 5h0m0 8h0m1 3h0m0-9h0m1 7h0m0-16h0m0 15h0m1-3h0m0-8h0m1-3h0m0 7h0m0 5h0m1 0h0m0-1h0m1 4h0m0-1h0m1-11h0m0 5h0m1 8h0m0-8h0m1 8h0m0-5h0m0 13h0m1-13h0m1 0h0m0 1h0m0 13h0m1-16h0m0-2h0m1 3h0m0 5h0m1-9h0m0 10h0m1-5h0m0-1h0m1-3h0m0 3h0m1 9h0m0 2h0m1-11h0m0 2h0m0-10h0m1 7h0m0 5h0m1 0h0m0-1h0m1 4h0m0-4h0m0-3h0m1 11h0m0-19h0m1 4h0m0 2h0m1 0h0m0 3h0m1-3h0m0 4h0m0 3h0m1-3h0m0 1h0m1-6h0m0-1h0m1 4h0m0 7h0m0-3h0m1 4h0m0-1h0m1 1h0m0-11h0m0 12h0m1-3h0m0 7h0m1-8h0m0-1h0m0-3h0m1 2h0m0-10h0m1 7h0m0 2h0m1 5h0m0-9h0m0 4h0m1 10h0m0-13h0m1 7h0m0-7h0m0 2h0m1 3h0m0 2h0m1-7h0m0-3h0m0 14h0m1-8h0m0 4h0m1 0h0m0-1h0m1-5h0m0 1h0m0-8h0m1 9h0m0-3h0m1 2h0m0 10h0m0-6h0m1-4h0m0-7h0m1 11h0m0 4h0m0-12h0m1 6h0m0-5h0m1 2h0m0-1h0m1-7h0m0 6h0m1 10h0m0-2h0m1-5h0m0 1h0m1 0h0m1-3h0m0 1h0m0-7h0m1 2h0m0 2h0m1 4h0m0-3h0m1 12h0m0-11h0m0-1h0m1 4h0m0 3h0m1 5h0m0-5h0m0-8h0m1 2h0m0 6h0m1-4h0m0 3h0m1-5h0m0 9h0m0-1h0m1-2h0m0-5h0m1-10h0m0 2h0m0 8h0m1 2h0m0-19h0m1 13h0m0 9h0m0-2h0m1-8h0m0 6h0m1-3h0m0-1h0m1 7h0m0-9h0m1-3h0m0-2h0m1-1h0m0 15h0m0 3h0m1-9h0m0 4h0m1-9h0m0 3h0m0 5h0m1-3h0m0-2h0m1-9h0m0 1h0m1 5h0m0 2h0m1-3h0m0 2h0m1 1h0m0 3h0m1-6h0m0 1h0m1 6h0m0-6h0m0-4h0m1 0h0m0 6h0m1 2h0m0 3h0m1-8h0m0 9h0m0-10h0m1 1h0m0-2h0m1 5h0m0 3h0m0-6h0m1-3h0m0-5h0m1 9h0m0-3h0m1-2h0m0-2h0m1 3h0m0 4h0m1 3h0m0-6h0m0 2h0m1-3h0m1-7h0m0 12h0m0-2h0m1 5h0m0-12h0m1 4h0m0-6h0m1 4h0m0 4h0m1-4h0m0 4h0m1-7h0m0 6h0m0-5h0m1-1h0m0 3h0m1 1h0m0-10h0m0-1h0m1 9h0m0-1h0m1-11h0m0 1h0m0 5h0m1 6h0m0-1h0m1 4h0m0 1h0m1 6h0m0-21h0m0 7h0m1 6h0m0-12h0m1-2h0m0 9h0m0 4h0m1 1h0m0-16h0m1 2h0m0 6h0m0-2h0m1 4h0m0-1h0m1 8h0m0-10h0m1 1h0m0 5h0m1-12h0m0 8h0m1-7h0m0-3h0m0 13h0m1-3h0m0 4h0m1-6h0m0 2h0m0-3h0m1 2h0m0-6h0m1 11h0m0-14h0m1 14h0m0-10h0m0 5h0m1-4h0m0 2h0m1 5h0m0-7h0m0-7h0m1 7h0m0 2h0m1-17h0m0 18h0m1-15h0m0 8h0m1 5h0m0-11h0m1 4h0m0 5h0m1 3h0m0-7h0m1 1h0m0 4h0m0-2h0m1-4h0m0 8h0m1-15h0m0 8h0m0-3h0m1-1h0m0 4h0m1-1h0m0 12h0m1-10h0m0-1h0m0 6h0m1-3h0m0-16h0m1 11h0m0 3h0m0-8h0m1 5h0m0-4h0m1 4h0m0-11h0m0-2h0m1 7h0m0 4h0m1 6h0m0-9h0m1-3h0m0 9h0m0-5h0m1 10h0m0-11h0m1-10h0m0 6h0m0-1h0m1-3h0m0 3h0m1 1h0m0 2h0m1 3h0m1-2h0m1-11h0m0 1h0m0 4h0m1 6h0m0-10h0m1 6h0m0 3h0m0 9h0m1-9h0m0-5h0m1 9h0m0-5h0m0-3h0m1 7h0m0-11h0m1 6h0m0-1h0m1 4h0m0-11h0m0-1h0m1 5h0m1 2h0m0-3h0m0 4h0m1 2h0m0-3h0m1-7h0m0 12h0m0-15h0m1 7h0m0 6h0m1-9h0m0 10h0m1 4h0m0-3h0m0-6h0m1 3h0m0-9h0m1 5h0m0-2h0m1 0h0m0-2h0m1-10h0m0 13h0m1-1h0m0 10h0m0-8h0m1-4h0m0 4h0m1-1h0m0-4h0m0-2h0m1-6h0m0 8h0m1 8h0m0-19h0m0 5h0m1 9h0m0-4h0m1 1h0m0-12h0m1 6h0m0 6h0m1-2h0m0-6h0m1 7h0m0-10h0m0 1h0m1-1h0m0 14h0m1-11h0m0 3h0m0-13h0m1 18h0m0-4h0m1-12h0m1 18h0m0-15h0m1 2h0m0-11h0m1 19h0m0-4h0m0 1h0m1-7h0m0 1h0m1 6h0m0-10h0m0-6h0m1 15h0m0-9h0m1 10h0m0-10h0m1 0h0m0 1h0m0-12h0m1 19h0m0-10h0m1 2h0m0 9h0m0-8h0m1 4h0m0-4h0m1 2h0m0-3h0m0 5h0m1-8h0m0 3h0m1-6h0m0 10h0m1-19h0m0 12h0m0 1h0m1 0h0m0-3h0m1 7h0m0 4h0m0-15h0m1-8h0m0 5h0m1 1h0m0 3h0m1 6h0m0-9h0m1 2h0m0 1h0m1-6h0m0 3h0m0 16h0m1-16h0m0-5h0m1-7h0m0 17h0m0-8h0m1-2h0m0 17h0m1-6h0m0-18h0m0 7h0m1 7h0m0-1h0m1-11h0m0 16h0m1 0h0m0-17h0m0-4h0m1 2h0m0 11h0m1 2h0m0-6h0m0-4h0m1 2h0m0 3h0m1-10h0m0-3h0m0 8h0m1 7h0m0-6h0m1 0h0m0-5h0m1 8h0m0-15h0m0 9h0m1-3h0m0 2h0m1-5h0m0 9h0m0-5h0m1-3h0m0 5h0m1-3h0m0-3h0m0-1h0m1 7h0m0-9h0m1 3h0m0-1h0m1 3h0m0-3h0m0 13h0m1-22h0m0 12h0m1-4h0m0 6h0m0-15h0m1 15h0m0-14h0m1 11h0m0-2h0m0-3h0m1-4h0m0-1h0m1 5h0m0-5h0m1-7h0m0 14h0m1 0h0m0-2h0m1-3h0m0 1h0m1-1h0m0-6h0m1 0h0m0-3h0m0 7h0m1-7h0m0 4h0m1 8h0m0-10h0m1 7h0m0 3h0m0-19h0m1 2h0m0 10h0m1-7h0m0 6h0m0 1h0m1-8h0m0 7h0m1 5h0m0-5h0m0-10h0m1 3h0m0-2h0m1 11h0m0-10h0m1-4h0m0 4h0m0 2h0m1-5h0m0 2h0m1-1h0m0 4h0m0 1h0m1-5h0m0-4h0m1 4h0m0-7h0m0 10h0m1-4h0m0-1h0m1-15h0m0 26h0m1-5h0m0-2h0m0-6h0m1 2h0m0 12h0m1-20h0m0 8h0m0-1h0m1-3h0m0 1h0m1-8h0m0 9h0m0-11h0m1 17h0m0-6h0m1-9h0m0-7h0m1 12h0m0 2h0m0-8h0m1 14h0m0-8h0m1-4h0m0-5h0m0 7h0m1 0h0m0 4h0m1 2h0m0-5h0m0 2h0m1 5h0m0-4h0m1-5h0m0 5h0m1-6h0m0 5h0m0-2h0m1-6h0m0 9h0m1-3h0m0 4h0m0-11h0m1 13h0m1-8h0m0 1h0m1 1h0m0 5h0m1-9h0m0-2h0m1 5h0m0 12h0m0-13h0m1-3h0m1 6h0m0 6h0m0-11h0m1 6h0m1 1h0m0-1h0m1 5h0m0-2h0m0-7h0m1 16h0m0-20h0m1 0h0m0 13h0m0-5h0m1-2h0m0 2h0m1 3h0m0-6h0m0-1h0m1-2h0m0 1h0m1 1h0m0 10h0m1-4h0m0 1h0m0-6h0m1 9h0m0-14h0m1 12h0m0 1h0m0-7h0m1-2h0m0 9h0m1-7h0m0-1h0m0 5h0m1-6h0m0 6h0m1 12h0m0-13h0m1 7h0m0-10h0m0 6h0m1-2h0m0 1h0m1 5h0m0 8h0m0-12h0m1 8h0m0-5h0m1 2h0m0-6h0m0-1h0m1 3h0m0-3h0m1 4h0m0-5h0m1 6h0m0 1h0m0 9h0m1 0h0m0-6h0m1-6h0m0 7h0m0 1h0m1-5h0m0-3h0m1-5h0m0 10h0m0 11h0m1-12h0m0 4h0m1 0h0m0 1h0m1 2h0m0-15h0m0 10h0m1 3h0m0-2h0m1 8h0m0-9h0m0 8h0m1 5h0m0-11h0m1 2h0m0-2h0m0 6h0m1-15h0m0 4h0m1 7h0m0 6h0m1-1h0m0-7h0m0 13h0m1-8h0m0-3h0m1 6h0m0 5h0m0-7h0m1-8h0m0 6h0m1 4h0m0 4h0m0-10h0m1 7h0m0-7h0m1 7h0m0-7h0m1 5h0m0-5h0m0 3h0m1-3h0m0-2h0m1 18h0m0-4h0m1-4h0m0 10h0m1-9h0m0 4h0m0 5h0m1-5h0m0 7h0m1-8h0m1 2h0m0-7h0m0 1h0m1 10h0m0-13h0m1 16h0m0-4h0m0 5h0m1-2h0m0-1h0m1 7h0m0-10h0m0 1h0m1 7h0m0-10h0m1 10h0m0-2h0m1-6h0m0-4h0m0-3h0m1 21h0m0-18h0m1 2h0m0 11h0m0-2h0m1-1h0m1-2h0m0-3h0m0 2h0m1 7h0m0 3h0m1 1h0m0-6h0m1-12h0m0 15h0m0-3h0m1-13h0m0 22h0m1-6h0m0-1h0m0 2h0m1-1h0m0 1h0m1 0h0m0 3h0m1-1h0m0 12h0m1-12h0m0-3h0m1 0h0m0 6h0m0-1h0m1 1h0m0-2h0m1 0h0m0 6h0m0 3h0m1-5h0m0-1h0m1-6h0m0 1h0m0 7h0m1-1h0m0 1h0m1-5h0m0 5h0m1-9h0m0 5h0m0 2h0m1 8h0m0-6h0m1-1h0m0 7h0m0-2h0m1 6h0m0-3h0m1 0h0m0-1h0m0 4h0m1-6h0m0-4h0m1 13h0m0-7h0m1 4h0m0 3h0m0 3h0m1-20h0m0 10h0m1 12h0m0-15h0m0 12h0m1-4h0m0-2h0m1 4h0m0-7h0m0 11h0m1 4h0m0-13h0m1 5h0m0 10h0m1-4h0m0-3h0m0 9h0m1-15h0m0 8h0m1 2h0m0-2h0m0 7h0m1-13h0m0 10h0m1-4h0m0 10h0m1 0h0m0-9h0m0-1h0m1 6h0m0-4h0m1 2h0m0 6h0m0-4h0m1 12h0m0-9h0m1-2h0m0-3h0m1 12h0m0-2h0m1 5h0m0-1h0m1-3h0m0-6h0m0 3h0m1 2h0m0-9h0m1 11h0m0-7h0m0 6h0m1-2h0m0 6h0m1 11h0m0-20h0m0 7h0m1 11h0m0-15h0m1 4h0m0 1h0m1 2h0m0-9h0m0 10h0m1 2h0m0 10h0m1-13h0m0-2h0m0 4h0m1-13h0m0 15h0m1 6h0m0-7h0m1-1h0m0 3h0m1-7h0m0 14h0m1-9h0m0 11h0m1-8h0m0-2h0m1 11h0m0-7h0m0 4h0m1-7h0m0-6h0m1 10h0m0 7h0m0-9h0m1 4h0m0 2h0m1-2h0m1 3h0m0-2h0m0-4h0m1 9h0m0-1h0m1-2h0m0 2h0m0-17h0m1 15h0m0-1h0m1-9h0m0 20h0m0-8h0m1-4h0m0 1h0m1 3h0m0-1h0m1-8h0m0 7h0m0 4h0m1 1h0m0 2h0m1-9h0m0 2h0m0 5h0m1-4h0m0 4h0m1-5h0m0 7h0m0-2h0m1 3h0m0-2h0m1-4h0m0-2h0m1 6h0m0-3h0m0-4h0m1 5h0m0 7h0m1 3h0m0-2h0m0 3h0m1-9h0m0 2h0m1-4h0m0 1h0m0 12h0m1-5h0m0 1h0m1 10h0m0-3h0m1-14h0m0 10h0m0-9h0m1 9h0m0-14h0m1 5h0m0 1h0m0 14h0m1-18h0m0 14h0m1 0h0m0-4h0m1 12h0m0-11h0m1-2h0m0 8h0m1-2h0m0-10h0m0 7h0m1 1h0m0-7h0m1 1h0m0 2h0m1 6h0m0-1h0m1-12h0m0 10h0m0 3h0m1-7h0m0 5h0m1 3h0m0-9h0m1 7h0m0-10h0m0 15h0m1-7h0m0-3h0m1-2h0m0 2h0m0 14h0m1-10h0m0 1h0m1 1h0m0-5h0m0 11h0m1-16h0m0 17h0m1-8h0m0 4h0m1 1h0m0 3h0m0-10h0m1 9h0m0-3h0m1-1h0m0 7h0m1-3h0m0 4h0m1-2h0m0-14h0m0 9h0m1 6h0m0-10h0m1-3h0m0-3h0m1 20h0m0-13h0m0 5h0m1-6h0m0 7h0m1 6h0m0-15h0m0 7h0m1-3h0m0-5h0m1 5h0m0 4h0m0 6h0m1 0h0m0-6h0m1-7h0m0 11h0m1-3h0m0-5h0m1 5h0m0 10h0m1-2h0m0-1h0m0-3h0m1-5h0m0 2h0m1 1h0m0 2h0m0-4h0m1-2h0m0 10h0m1-7h0m0 6h0m1-5h0m0 4h0m1 1h0m1-8h0m0-1h0m0 6h0m1 8h0m0-11h0m1 0h0m0 15h0m0-18h0m1 5h0m0 1h0m1-1h0m1 9h0m0-4h0m1-9h0m0 12h0m1-2h0m0 3h0m1-2h0m0-1h0m1 2h0m0-5h0m1-1h0m0-2h0m0 11h0m1-7h0m0 4h0m1 5h0m0 3h0m0-9h0m1 2h0m1-6h0m0 4h0m0 16h0m1-14h0m0 9h0m1-4h0m0 5h0m1-2h0m0-5h0m0-7h0m1 13h0m0-3h0m1-1h0m0 2h0m0-7h0m1 4h0m1-7h0m0 2h0m0 5h0m1-10h0m0 14h0m1 1h0m0-4h0m1 2h0m0-10h0m1 13h0m0-1h0m1 2h0m0-4h0m0 9h0m1-7h0m0 2h0m1 2h0m0-8h0m0-2h0m1 9h0m0-9h0m1 3h0m0 8h0m1-10h0m0 1h0m1 0h0m0 14h0m1-6h0m0 2h0m0-13h0m1-2h0m0 6h0m1 10h0m0-14h0m1 1h0m0 12h0m1-2h0m0 1h0m1 1h0m0-7h0m0 5h0m1-2h0m0 7h0m1-7h0m0-7h0m0 15h0m1 3h0m0-4h0m1-6h0m0-3h0m0 10h0m1-7h0m0 5h0m1 1h0m0-4h0m1-8h0m0 11h0m0-7h0m1-2h0m0 7h0m1 1h0m0-1h0m0 4h0m1-12h0m0 12h0m1 5h0m0-8h0m0-2h0m1 2h0m0 6h0m1-6h0m0-3h0m1-3h0m0 14h0m1-6h0m0 9h0m1-11h0m0 5h0m0-9h0m1 2h0m0 5h0m1 2h0m0 1h0m0-7h0m1 2h0m0 2h0m1-1h0m1 5h0m0 2h0m0-13h0m1 14h0m0-5h0m1 1h0m0 3h0m1-1h0m0-10h0m1 11h0m0-9h0m0 7h0m1 0h0m0-8h0m1 7h0m0-1h0m1-2h0m0 12h0m0-8h0m1-2h0m0 9h0m1-7h0m0-1h0m0-8h0m1 12h0m0 2h0m1 4h0m0-13h0m0 9h0m1 2h0m0-3h0m1-3h0m0-7h0m1 8h0m0-3h0m0-5h0m1 10h0m0-3h0m1 0h0m0 10h0m0-11h0m1-7h0m1 12h0m0-3h0m0-2h0m1-6h0m0 6h0m1-2h0m0 5h0m1-3h0m0 4h0m1-3h0m0 5h0m1-17h0m0 10h0m0 11h0m1-4h0m0-6h0m1 4h0m0-2h0m1 10h0m0-8h0m1 2h0m0-4h0m1 1h0m0-4h0m1 5h0m0 1h0m1 2h0m0 3h0m1-4h0m0 7h0m1-3h0m0 3h0m0-6h0m1 6h0m0-5h0m1-7h0m0 7h0m1-1h0m0-5h0m0 2h0m1 2h0m0 13h0m1-9h0m0 7h0m0-4h0m1 1h0m0-1h0m1-10h0m0 12h0m0-9h0m1 6h0m0-2h0m1 7h0m0-1h0m1 2h0m0-5h0m0-2h0m1 3h0m0 7h0m1-7h0m0-2h0m0-6h0m1 2h0m0 3h0m1 4h0m0-3h0m1 1h0m0 6h0m1 2h0m0-3h0m1 1h0m0-1h0m0 3h0m1-13h0m0 3h0m1 4h0m0 5h0m1-14h0m0 9h0m1 0h0m0-4h0m1 3h0m0 5h0m0-2h0m1-3h0m0 2h0m1-1h0m0 4h0m1 1h0m0-7h0m1 3h0m0-5h0m0 4h0m1 5h0m0-8h0m1 3h0m0 2h0m1-2h0m0 5h0m0-9h0m1 9h0m0 3h0m1 1h0m0-7h0m0-3h0m1-3h0m0 9h0m1 1h0m0-2h0m1 2h0m0-5h0m1-4h0m1 3h0m0-1h0m0-2h0m1 5h0m0-3h0m1 7h0m0-3h0m0 4h0m1-9h0m0 1h0m1-2h0m0 8h0m0 12h0m1-12h0m0-2h0m1 2h0m0-1h0m1 5h0m0-4h0m0-4h0m1-4h0m0 10h0m1 2h0m0-3h0m0-4h0m1 2h0m1 4h0m0-3h0m0 6h0m1-6h0m0-2h0m1 11h0m0-12h0m1 1h0m0 12h0m0-8h0m1 7h0m0-18h0m1 16h0m0-6h0m0 1h0m1 2h0m0-14h0m1 8h0m0 6h0m0 11h0m1-16h0m0 13h0m1-7h0m0 1h0m1-8h0m0 7h0m0-6h0m1-2h0m0 11h0m1-8h0m0 5h0m1-6h0m0-2h0m1 7h0m0 5h0m1-11h0m0 8h0m1 0h0m0-5h0m1 1h0m0 1h0m0-4h0m1-1h0m0 8h0m1-7h0m0 1h0m0 7h0m1-6h0m0 1h0m1-4h0m0 1h0m1-1h0m0 11h0m1-9h0m0-5h0m1 5h0m0 7h0m0-8h0m1 5h0m0-4h0m1-3h0m0 5h0m0-2h0m1 5h0m0 2h0m1-3h0m0 11h0m0-15h0m1 10h0m0-4h0m1 4h0m0-3h0m1-11h0m0 8h0m0 5h0m1-4h0m0-5h0m1 3h0m0 3h0m0 4h0m1-7h0m0 3h0m1-5h0m0-1h0m0 3h0m1 8h0m0-3h0m1-4h0m0 1h0m1 3h0m0-3h0m0-1h0m1 0h0m0 4h0m1-4h0m0 5h0m0-11h0m1 5h0m0 1h0m1 4h0m0-6h0m0 2h0m1 3h0m0-1h0m1-2h0m0 1h0m1-2h0m0 7h0m0-2h0m1 2h0m0 6h0m1-4h0m0-3h0m0-3h0m1 10h0m0-8h0m1-2h0m0 6h0m0-3h0m1-3h0m0 3h0m1 6h0m0-7h0m1 1h0m0-5h0m0 2h0m1 5h0m0-3h0m1 0h0m0 4h0m0-5h0m1 7h0m0-8h0m1-1h0m0-3h0m1 9h0m0-3h0m1 6h0m0-8h0m1 5h0m0 3h0m0-6h0m1 0h0m0-9h0m1 17h0m0-8h0m0 3h0m1-4h0m0 3h0m1-6h0m0 8h0m0-3h0m1-2h0m0 4h0m1-9h0m0 8h0m1-3h0m0 8h0m0-3h0m1-4h0m1 13h0m0-16h0m0 12h0m1-4h0m0-1h0m1-10h0m0 11h0m0-6h0m1-1h0m0 6h0m1-5h0m0 5h0m1-6h0m0 6h0m0-1h0m1-5h0m1 1h0m0 1h0m1 9h0m0-6h0m1-2h0m1-2h0m0 4h0m0-1h0m1-3h0m1 2h0m0-3h0m0 5h0m1-4h0m0 5h0m1-3h0m0 3h0m0-4h0m1-5h0m0 2h0m1 4h0m0 3h0m1 0h0m0 1h0m1-1h0m0 1h0m1-3h0m0 3h0m0-2h0m1 0h0m0 1h0m1 8h0m0-14h0m0 3h0m1 1h0m0 3h0m1-2h0m0 7h0m1-12h0m0 12h0m0-11h0m1 2h0m0 5h0m1-2h0m1 1h0m0 3h0m1-2h0m0-7h0m0 2h0m1 8h0m0 3h0m1-4h0m1-2h0m0 6h0m0-10h0m1 1h0m0-1h0m1 9h0m0-8h0m0 4h0m1-7h0m0-1h0m1 10h0m0-1h0m1-2h0m0-2h0m1 0h0m0-3h0m1 3h0m0 6h0m0-5h0m1-5h0m0 5h0m1-3h0m0-1h0m0 4h0m1-2h0m0-2h0m1 11h0m0-6h0m1 6h0m0-8h0m1 2h0m0 5h0m1-4h0m0 2h0m0-13h0m1 11h0m0-2h0m1 1h0m0-5h0m0 3h0m1 5h0m1 1h0m0 1h0m1-3h0m0-2h0m1-1h0m1-2h0m0 4h0m1-8h0m0 4h0m1 1h0m0 5h0m0 3h0m1-3h0m0-2h0m1-1h0m0 6h0m0-2h0m1-5h0m0 3h0m1 1h0m0 2h0m1-4h0m0 7h0m0-1h0m1-6h0m1-2h0m0 5h0m1 4h0m1-5h0m0-2h0m0-1h0m1 4h0m0-3h0m1 5h0m0-4h0m1 2h0m0-3h0m0 10h0m1-4h0m0-4h0m1-3h0m0 5h0m0 1h0m1-7h0m0 5h0m1 7h0m0-7h0m0-2h0m1 4h0m0 4h0m1-8h0m1 1h0m0 1h0m0 4h0m1-3h0m0-9h0m1 10h0m1-1h0m0-1h0m1 2h0m0-4h0m0-4h0m1 5h0m0-3h0m1 11h0m0-7h0m1 6h0m0-11h0m0 1h0m1 6h0m0-8h0m1 4h0m0-5h0m0 9h0m1-8h0m0 6h0m1-6h0m0 8h0m0 3h0m1-4h0m0-4h0m1 5h0m0 3h0m1-1h0m0 2h0m0 2h0m1-6h0m0-2h0m1-1h0m0 2h0m0-1h0m1-1h0m0 3h0m1 7h0m0-11h0m0 1h0m1 1h0m0-3h0m1 8h0m0-4h0m1 3h0m0-9h0m1 6h0m0-5h0m1 9h0m0-3h0m1 1h0m0-5h0m1 8h0m0-5h0m0 3h0m1 0h0m1-5h0m0 4h0m1-1h0m0 4h0m0-7h0m1 7h0m0-2h0m1-2h0m0 7h0m0-4h0m1-5h0m0 3h0m1-4h0m0-1h0m0 2h0m1 0h0m0 9h0m1-4h0m0-12h0m1 9h0m0-2h0m1 3h0m1 1h0m0-4h0m0 8h0m1-6h0m0 5h0m1-5h0m0 2h0m1-5h0m0 8h0m0-3h0m1-3h0m0 3h0m1 1h0m0-8h0m0 3h0m1-1h0m0 7h0m1-2h0m0-4h0m1 3h0m0-9h0m1 8h0m0 7h0m1-11h0m0 1h0m1 6h0m0-5h0m1 10h0m0-8h0m0-1h0m1-2h0m0 7h0m1 1h0m0-3h0m0 4h0m1 0h0m0-4h0m1-1h0m0-2h0m1 3h0m0-2h0m0 7h0m1-3h0m0-3h0m1-1h0m0 3h0m0 2h0m1-3h0m0 3h0m1-5h0m0 2h0m0 2h0m1-2h0m0 1h0m1 2h0m0-3h0m1 3h0m0-5h0m0 3h0m1-3h0m1 4h0m0 3h0m0-6h0m1 1h0m0 5h0m1-8h0m0 6h0m0-7h0m1-3h0m0 8h0m1-2h0m0-1h0m1-7h0m0 10h0m0-3h0m1-2h0m0 4h0m1-5h0m0 2h0m1 7h0m0-4h0m1 5h0m0-8h0m0-1h0m1 11h0m0-12h0m1 10h0m0-9h0m1 7h0m0-6h0m0 9h0m1 1h0m0-3h0m1-3h0m0-2h0m0 4h0m1 5h0m0-10h0m1-2h0m0 11h0m0-8h0m1 4h0m0-2h0m1 0h0m0-2h0m1 1h0m0-6h0m0 4h0m1-1h0m0 8h0m1-6h0m0 2h0m0-7h0m1 7h0m0 5h0m1-5h0m0 3h0m0-5h0m1-1h0m0 6h0m1-5h0m0-3h0m1 4h0m0-1h0m0 5h0m1-1h0m0-8h0m1 7h0m0-7h0m0 6h0m1 2h0m0-5h0m1 0h0m0 5h0m0-4h0m1-3h0m0 11h0m1-3h0m0-2h0m1 0h0m0 2h0m0-3h0m1 2h0m0-1h0m1-4h0m0 6h0m0-3h0m1-4h0m0 2h0m1-7h0m0 2h0m0 1h0m1 8h0m1 2h0m0-3h0m1 5h0m0-8h0m0-2h0m1 0h0m0 4h0m1-3h0m0-1h0m1 4h0m0-6h0m1 5h0m0 6h0m1-5h0m0-6h0m1 6h0m1-6h0m0-6h0m0 14h0m1-4h0m0-2h0m1 2h0m0 6h0m0 2h0m1-9h0m0 8h0m1-6h0m1 0h0m0-1h0m1-2h0m0 3h0m1-4h0m0 6h0m0-5h0m1 5h0m0-3h0m1-6h0m0 11h0m0-3h0m1-1h0m0-1h0m1 7h0m0-7h0m0 4h0m1-3h0m0-5h0m1 7h0m0-8h0m1 7h0m1-4h0m0 8h0m1 1h0m0-10h0m0 2h0m1 8h0m0-8h0m1 5h0m0-7h0m0 1h0m1 3h0m0 1h0m1-7h0m0 2h0m1 5h0m0 3h0m1-3h0m1-6h0m0 6h0m0 2h0m1-1h0m0-7h0m1 1h0m0 8h0m0-10h0m1 1h0m0 10h0m1-9h0m0 1h0m1 5h0m0-3h0m1-5h0m0 3h0m1 3h0m0-4h0m1 8h0m0-3h0m1 1h0m0 1h0m1-8h0m0 6h0m0 3h0m1-2h0m0-7h0m1-2h0m0 3h0m0 5h0m1-3h0m0 2h0m1-6h0m0 8h0m0-6h0m1 7h0m0-4h0m1-11h0m0 10h0m1-2h0m0 2h0m1 5h0m0-1h0m1 2h0m0-5h0m0-7h0m1 5h0m0-1h0m1 0h0m0 13h0m0-7h0m1-7h0m0 8h0m1-5h0m0-4h0m1 9h0m0-6h0m0 2h0m1 8h0m0-12h0m1 8h0m0-5h0m0-3h0m1 3h0m0 1h0m1 1h0m0-7h0m0 9h0m1-6h0m0 4h0m1 0h0m0-3h0m1 4h0m0-5h0m0-1h0m1-2h0m0-1h0m1 4h0m0-5h0m0 6h0m1 0h0m0 8h0m1-11h0m0 9h0m0-3h0m1 0h0m0-4h0m1 0h0m0 1h0m1 1h0m0 3h0m0-4h0m1 7h0m0 1h0m1-16h0m0 10h0m0-1h0m1-3h0m0-6h0m1 3h0m0 6h0m0 3h0m1-1h0m1-2h0m0 4h0m1-2h0m0 3h0m0-5h0m1-2h0m0-3h0m1 11h0m0-8h0m0-1h0m1-4h0m0 10h0m1-8h0m0 6h0m0 1h0m1 4h0m0-8h0m1-5h0m0 11h0m1-3h0m0-3h0m0 2h0m1 7h0m0-6h0m1-3h0m0 2h0m0 3h0m1-1h0m1 0h0m0-6h0m0 7h0m1 1h0m0-1h0m1-3h0m1 1h0m0-7h0m1 6h0m0 5h0m1-6h0m0-1h0m0 5h0m1-2h0m0-3h0m1 3h0m0 6h0m1-6h0m0-1h0m1 5h0m0-3h0m1 0h0m0-2h0m0-4h0m1-1h0m0 5h0m1-4h0m0 7h0m0 1h0m1 2h0m0-5h0m1 7h0m0-3h0m0-3h0m1 1h0m0-5h0m1-9h0m0 15h0m1-2h0m0 5h0m1-7h0m0-1h0m1-1h0m0 3h0m0-7h0m1 2h0m0 7h0m1-10h0m0 1h0m0 4h0m1 1h0m0 2h0m1 2h0m0-2h0m1 1h0m0-4h0m0 2h0m1-2h0m0 2h0m1 2h0m0-9h0m1 3h0m0 12h0m1-15h0m0 7h0m0-4h0m1 3h0m0-1h0m1 2h0m0-4h0m1 8h0m0 4h0m0-17h0m1 6h0m0-3h0m1 7h0m0 4h0m1 0h0m0-4h0m1-3h0m0 6h0m1-7h0m0 3h0m1-5h0m0 4h0m1-2h0m0 3h0m0 4h0m1-6h0m0 4h0m1 2h0m0-7h0m0 3h0m1-1h0m0 8h0m1-9h0m0 2h0m0-5h0m1 2h0m0 5h0m1-3h0m0 4h0m1-3h0m0 10h0m0-11h0m1 5h0m0-7h0m1 1h0m0-4h0m0 16h0m1-18h0m0 8h0m1-2h0m0 5h0m1 4h0m0-3h0m1-2h0m1 2h0m0-2h0m0 4h0m1-3h0m0-3h0m1 2h0m0-1h0m0 4h0m1-6h0m0 2h0m1-6h0m0 8h0m1-2h0m0-3h0m0 9h0m1-7h0m0-4h0m1 8h0m0-5h0m0-10h0m1 12h0m0-1h0m1 0h0m0-1h0m0-2h0m1 4h0m0-7h0m1 5h0m0 4h0m1 1h0m0-6h0m0 9h0m1-6h0m0-3h0m1 3h0m0-4h0m0 6h0m1-6h0m1-1h0m0 1h0m0 2h0m1 8h0m0-6h0m1 3h0m0-4h0m1 3h0m0-7h0m1 11h0m0-6h0m1-7h0m0 8h0m0-3h0m1 0h0m0 4h0m1-8h0m0 9h0m0-3h0m1-3h0m0-3h0m1 11h0m0-8h0m1-3h0m0 4h0m0 3h0m1 0h0m0 3h0m1-3h0m0-2h0m0 8h0m1-1h0m0-11h0m1 7h0m0-5h0m0 7h0m1-9h0m0 5h0m1 5h0m0-5h0m1 3h0m0-7h0m0-2h0m1 0h0m0 7h0m1-5h0m0 8h0m0-7h0m1 7h0m0-4h0m1-5h0m0 4h0m0 2h0m1 0h0m0-3h0m1 5h0m0-1h0m1 0h0m0-6h0m0-5h0m1 10h0m0-5h0m1 1h0m0 1h0m0 2h0m1-8h0m0 6h0m1 6h0m0-11h0m0 5h0m1 6h0m0-2h0m1-1h0m0-2h0m1-6h0m0 6h0m0-4h0m1 4h0m0-3h0m1-2h0m0 5h0m0 4h0m1-6h0m0 2h0m1 2h0m0-1h0m0-6h0m1 2h0m0 4h0m1-1h0m0 6h0m1-4h0m0-6h0m1 8h0m0-2h0m1-1h0m0-7h0m0 5h0m1 3h0m0-4h0m1 0h0m0 3h0m0-4h0m1-1h0m0 3h0m1 0h0m0 4h0m1-4h0m0-4h0m0 6h0m1-5h0m0 6h0m1-5h0m0 4h0m0-1h0m1-1h0m0-4h0m1 3h0m0 7h0m0-5h0m1 4h0m0-4h0m1-1h0m0-3h0m1 5h0m0-5h0m1 7h0m0-7h0m1 12h0m0-9h0m0-2h0m1 7h0m0-8h0m1 4h0m0-1h0m0 4h0m1 3h0m0-6h0m1-6h0m1 3h0m0 5h0m0-2h0m1 0h0m0-2h0m1 6h0m0-9h0m0 11h0m1-2h0m0-2h0m1-3h0m0-1h0m1-1h0m0 1h0m1-2h0m0 6h0m1-3h0m0 2h0m0-5h0m1-2h0m0 2h0m1 4h0m0-5h0m0 6h0m1-5h0m0 1h0m1 3h0m0-5h0m0-4h0m1 12h0m0-5h0m1-1h0m0 8h0m1 2h0m0-8h0m0 1h0m1 9h0m0-12h0m1 6h0m0-1h0m0-5h0m1-2h0m0 1h0m1 3h0m0 1h0m0 8h0m1-13h0m0 5h0m1-4h0m0 6h0m1-2h0m0-6h0m0 3h0m1 2h0m0 3h0m1-1h0m0-2h0m1 2h0m0-2h0m1 3h0m0-1h0m0-5h0m1 3h0m0-3h0m1 2h0m0 3h0m1-2h0m0-1h0m0-1h0m1 7h0m0-5h0m1-4h0m0 2h0m0 5h0m1 4h0m0-2h0m1-6h0m0 4h0m1-9h0m0 9h0m0-4h0m1 2h0m0-6h0m1 6h0m0-6h0m0-1h0m1 11h0m0-10h0m1 8h0m0-5h0m0 1h0m1 1h0m0 4h0m1-3h0m0-4h0m1 1h0m0 7h0m1-7h0m0 5h0m1-3h0m0 3h0m0-7h0m1 7h0m0-5h0m1-3h0m0 7h0m1-8h0m0-3h0m1 8h0m0 2h0m1-3h0m0 2h0m1-2h0m0 3h0m1 3h0m0-3h0m0-3h0m1-1h0m0 3h0m1-8h0m0 8h0m0-1h0m1 1h0m0-1h0m1 0h0m0-5h0m1 8h0m0-4h0m0 2h0m1-2h0m0-4h0m1 8h0m0-3h0m1 2h0m0 5h0m1-7h0m0 3h0m0 4h0m1-8h0m0 6h0m1-4h0m0 3h0m1-3h0m0 3h0m0-6h0m1 1h0m0-1h0m1 2h0m0 5h0m0-3h0m1 1h0m0-3h0m1 1h0m0 1h0m1-3h0m1-2h0m0 6h0m1 2h0m0 3h0m0-19h0m1 15h0m0-1h0m1 7h0m0-11h0m0-1h0m1 3h0m0-6h0m1 1h0m0 7h0m0-8h0m1 2h0m0 8h0m1-2h0m0-7h0m1 10h0m0-5h0m0-2h0m1 2h0m0-1h0m1 5h0m0-2h0m0-6h0m1 2h0m0 4h0m1-5h0m0-1h0m0-5h0m1 12h0m0-3h0m1-1h0m0-3h0m1 2h0m0 1h0m0-4h0m1 5h0m0 6h0m1-8h0m0 2h0m0 5h0m1-5h0m0 5h0m1-2h0m0-4h0m1-1h0m0 6h0m1-4h0m0-1h0m1-7h0m0 7h0m0 10h0m1-7h0m0 4h0m1-5h0m0-6h0m0 5h0m1 6h0m0-6h0m1-1h0m0-3h0m1 3h0m0 1h0m1 3h0m1-7h0m0-3h0m0 6h0m1-2h0m0 6h0m1-7h0m0 6h0m0-4h0m1 6h0m0-4h0m1-7h0m0-2h0m0 10h0m1-5h0m0 7h0m1-3h0m0 6h0m1-6h0m0-3h0m0-5h0m1 10h0m0-3h0m1 0h0m0 11h0m0-7h0m1-7h0m0 6h0m1-8h0m0 3h0m0 6h0m1-8h0m0 5h0m1 0h0m1-4h0m0-1h0m0 5h0m1 2h0m0-6h0m1 7h0m0 1h0m0-3h0m1 3h0m0-1h0m1 1h0m0-3h0m1 0h0m0 3h0m1-6h0m0 7h0m1-8h0m0 10h0m0-5h0m1 8h0m0-9h0m1 2h0m0-9h0m0 5h0m1 2h0m0 1h0m1 1h0m0-2h0m0-1h0m1 4h0m0-9h0m1 3h0m0 5h0m1-3h0m0 5h0m0-7h0m1 1h0m0 3h0m1 5h0m0-12h0m0-1h0m1 2h0m1 5h0m0 3h0m0-4h0m1 1h0m0 1h0m1 0h0m0-1h0m1 0h0m0 3h0m0-8h0m1 2h0m0 3h0m1 9h0m0-13h0m0 6h0m1-5h0m0 2h0m1-3h0m0 10h0m1-5h0m0-4h0m0 6h0m1-6h0m0 3h0m1-6h0m0 4h0m0 3h0m1 0h0m0-5h0m1 1h0m0-4h0m0-1h0m1 7h0m0 4h0m1-2h0m1-2h0m1 7h0m0-8h0m1 6h0m0-10h0m0 2h0m1 3h0m0-5h0m1 11h0m0-5h0m0 1h0m1-3h0m0 3h0m1-4h0m0 7h0m1 0h0m0-7h0m1-3h0m1 10h0m0-1h0m0 3h0m1-4h0m0 1h0m1-1h0m0-4h0m0 3h0m1 2h0m0-2h0m1-4h0m0-1h0m1 15h0m0-14h0m0 1h0m1 2h0m1 4h0m0-5h0m0 3h0m1-2h0m1-1h0m0-2h0m0 1h0m1-2h0m0 3h0m1 2h0m1-5h0m0 1h0m0 2h0m1 6h0m0-4h0m1 0h0m0 4h0m0-3h0m1-4h0m0 8h0m1-6h0m0 4h0m0-2h0m1 1h0m0 2h0m1-6h0m0-4h0m1 6h0m0-1h0m0-1h0m1 1h0m0-5h0m1 5h0m0-1h0m0 2h0m1-1h0m0-1h0m1 3h0m0 2h0m0-4h0m1-3h0m0 1h0m1 6h0m0-10h0m1 6h0m0 1h0m0 1h0m1-9h0m0 8h0m1-9h0m0 6h0m0-2h0m1-4h0m0 14h0m1-8h0m0-4h0m0 1h0m1 4h0m0 3h0m1-3h0m0-4h0m1 10h0m0-4h0m1 4h0m0-4h0m1 4h0m0-6h0m0 5h0m1-10h0m0-1h0m1 3h0m0 6h0m0-2h0m1-3h0m0 1h0m1 0h0m0 2h0m1 4h0m0-5h0m1 1h0m0 2h0m1-6h0m0 4h0m0 2h0m1 0h0m0-4h0m1-1h0m0 8h0m1-5h0m0-4h0m1-3h0m0 7h0m1 6h0m0-7h0m0-2h0m1 6h0m0-4h0m1 1h0m0 1h0m0-2h0m1 4h0m1-3h0m0-2h0m0 4h0m1-11h0m0 8h0m1-1h0m0 5h0m1-6h0m0 7h0m0-4h0m1 2h0m0 3h0m1-4h0m0-3h0m0 4h0m1 0h0m0 6h0m1-8h0m0 4h0m0 1h0m1 0h0m0-5h0m1-3h0m0 8h0m1 2h0m0-4h0m0 2h0m1-4h0m0 3h0m1 2h0m0-5h0m1 0h0m0-3h0m1 5h0m0-2h0m1 2h0m0-2h0m1 2h0m0-3h0m1 4h0m0-6h0m0-2h0m1 9h0m0-11h0m1 6h0m0 1h0m0 3h0m1-4h0m1-5h0m0 10h0m0-8h0m1 4h0m0-3h0m1 7h0m0-7h0m1-2h0m0 10h0m0-7h0m1 3h0m0 1h0m1-7h0m0 9h0m0-7h0m1 4h0m0 1h0m1-2h0m0-3h0m0 7h0m1-7h0m0-1h0m1 9h0m1-11h0m0 6h0m1-10h0m0 8h0m1 7h0m0-8h0m1 11h0m0-8h0m1-2h0m0 3h0m1-6h0m0 10h0m0-3h0m1-6h0m0 2h0m1 2h0m0 5h0m0-1h0m1-6h0m0 3h0m1-2h0m0 3h0m0-2h0m1 8h0m0-5h0m1-3h0m0-3h0m1-1h0m0 8h0m1 3h0m0-10h0m1 7h0m0-8h0m0 7h0m1 0h0m0-1h0m1-2h0m0-1h0m1-5h0m0 10h0m1-7h0m0 5h0m1-1h0m0 3h0m1-3h0m0 1h0m1 3h0m0-5h0m0-2h0m1 3h0m1 3h0m0-1h0m0-1h0m1 4h0m0-3h0m1 1h0m0-4h0m1 7h0m0-3h0m0-6h0m1 0h0m0 10h0m1-5h0m0 5h0m0 2h0"/>
</g>
<rect x="229.5" y="52.4" width="1772" height="1355" fill="none" stroke="#000" stroke-width="4.8"/>
<path d="M284.73 1405V1397.3M353.40 1405V1397.3M422.07 1405V1397.3M490.73 1405V1397.3M559.40 1405V1388.2M628.07 1405V1397.3M696.73 1405V1397.3M765.40 1405V1397.3M834.07 1405V1397.3M902.73 1405V1397.3M971.40 1405V1388.2M1040.07 1405V1397.3M1108.73 1405V1397.3M1177.40 1405V1397.3M1246.07 1405V1397.3M1314.73 1405V1397.3M1383.40 1405V1388.2M1452.07 1405V1397.3M1520.73 1405V1397.3M1589.40 1405V1397.3M1658.07 1405V1397.3M1726.73 1405V1397.3M1795.40 1405V1388.2M1864.07 1405V1397.3M1932.73 1405V1397.3M2001.40 1405V1397.3" stroke="#000" stroke-width="4.8" stroke-linecap="round" fill="none"/>
<text transform="matrix(0.9922,0,0,0.9813,431.3047,1225.4062)" x="100" y="250" font-size="69.5" font-weight="bold">20</text>
<text transform="matrix(0.9773,0,0,0.9729,845.8955,1227.4979)" x="100" y="250" font-size="69.5" font-weight="bold">40</text>
<text transform="matrix(0.9831,0,0,0.9813,1257.9262,1225.4062)" x="100" y="250" font-size="69.5" font-weight="bold">60</text>
<text transform="matrix(0.9877,0,0,0.9813,1669.1554,1225.4062)" x="100" y="250" font-size="69.5" font-weight="bold">80</text>
<text transform="matrix(1.0512,0,0,1.0863,853.2292,1339.2608)" x="100" y="250" font-size="112">2&#920; (deg)</text>
<text transform="matrix(0,-1.0804,1.0588,0,-114.1176,1095.3586)" x="100" y="250" font-size="112">Intensity (a.u.)</text>
<text transform="matrix(0.9908,0,0,1.0036,1670.1487,556.9036)" x="100" y="250" font-size="82">80</text>
<text transform="matrix(0.9696,0,0,0.9,1771.5043,545.2)" x="100" y="250" font-size="54">o</text>
<text transform="matrix(1.1064,0,0,1.0268,1784.6426,551.4768)" x="100" y="250" font-size="82">C</text>
<text transform="matrix(0.9908,0,0,1.0071,1670.1487,668.2071)" x="100" y="250" font-size="82">60</text>
<text transform="matrix(0.9913,0,0,0.9,1761.987,657.2)" x="100" y="250" font-size="54">o</text>
<text transform="matrix(1.117,0,0,1.025,1775.2468,663.725)" x="100" y="250" font-size="82">C</text>
<text transform="matrix(0.9846,0,0,1,1671.2538,786)" x="100" y="250" font-size="82">40</text>
<text transform="matrix(0.9696,0,0,0.8889,1771.5043,774.8889)" x="100" y="250" font-size="54">o</text>
<text transform="matrix(1.0957,0,0,1.025,1785.7383,779.725)" x="100" y="250" font-size="82">C</text>
<text transform="matrix(0.9974,0,0,0.9982,1668.4711,917.9482)" x="100" y="250" font-size="82">25</text>
<text transform="matrix(0.9696,0,0,0.8815,1771.5043,908.3481)" x="100" y="250" font-size="54">o</text>
<text transform="matrix(1.0957,0,0,1.0161,1785.7383,913.9661)" x="100" y="250" font-size="82">C</text>
<text transform="matrix(1.0663,0,0,1.0627,1657.7422,1038.8053)" x="100" y="250" font-size="82">"dry"</text>
</svg>
</body></html>
